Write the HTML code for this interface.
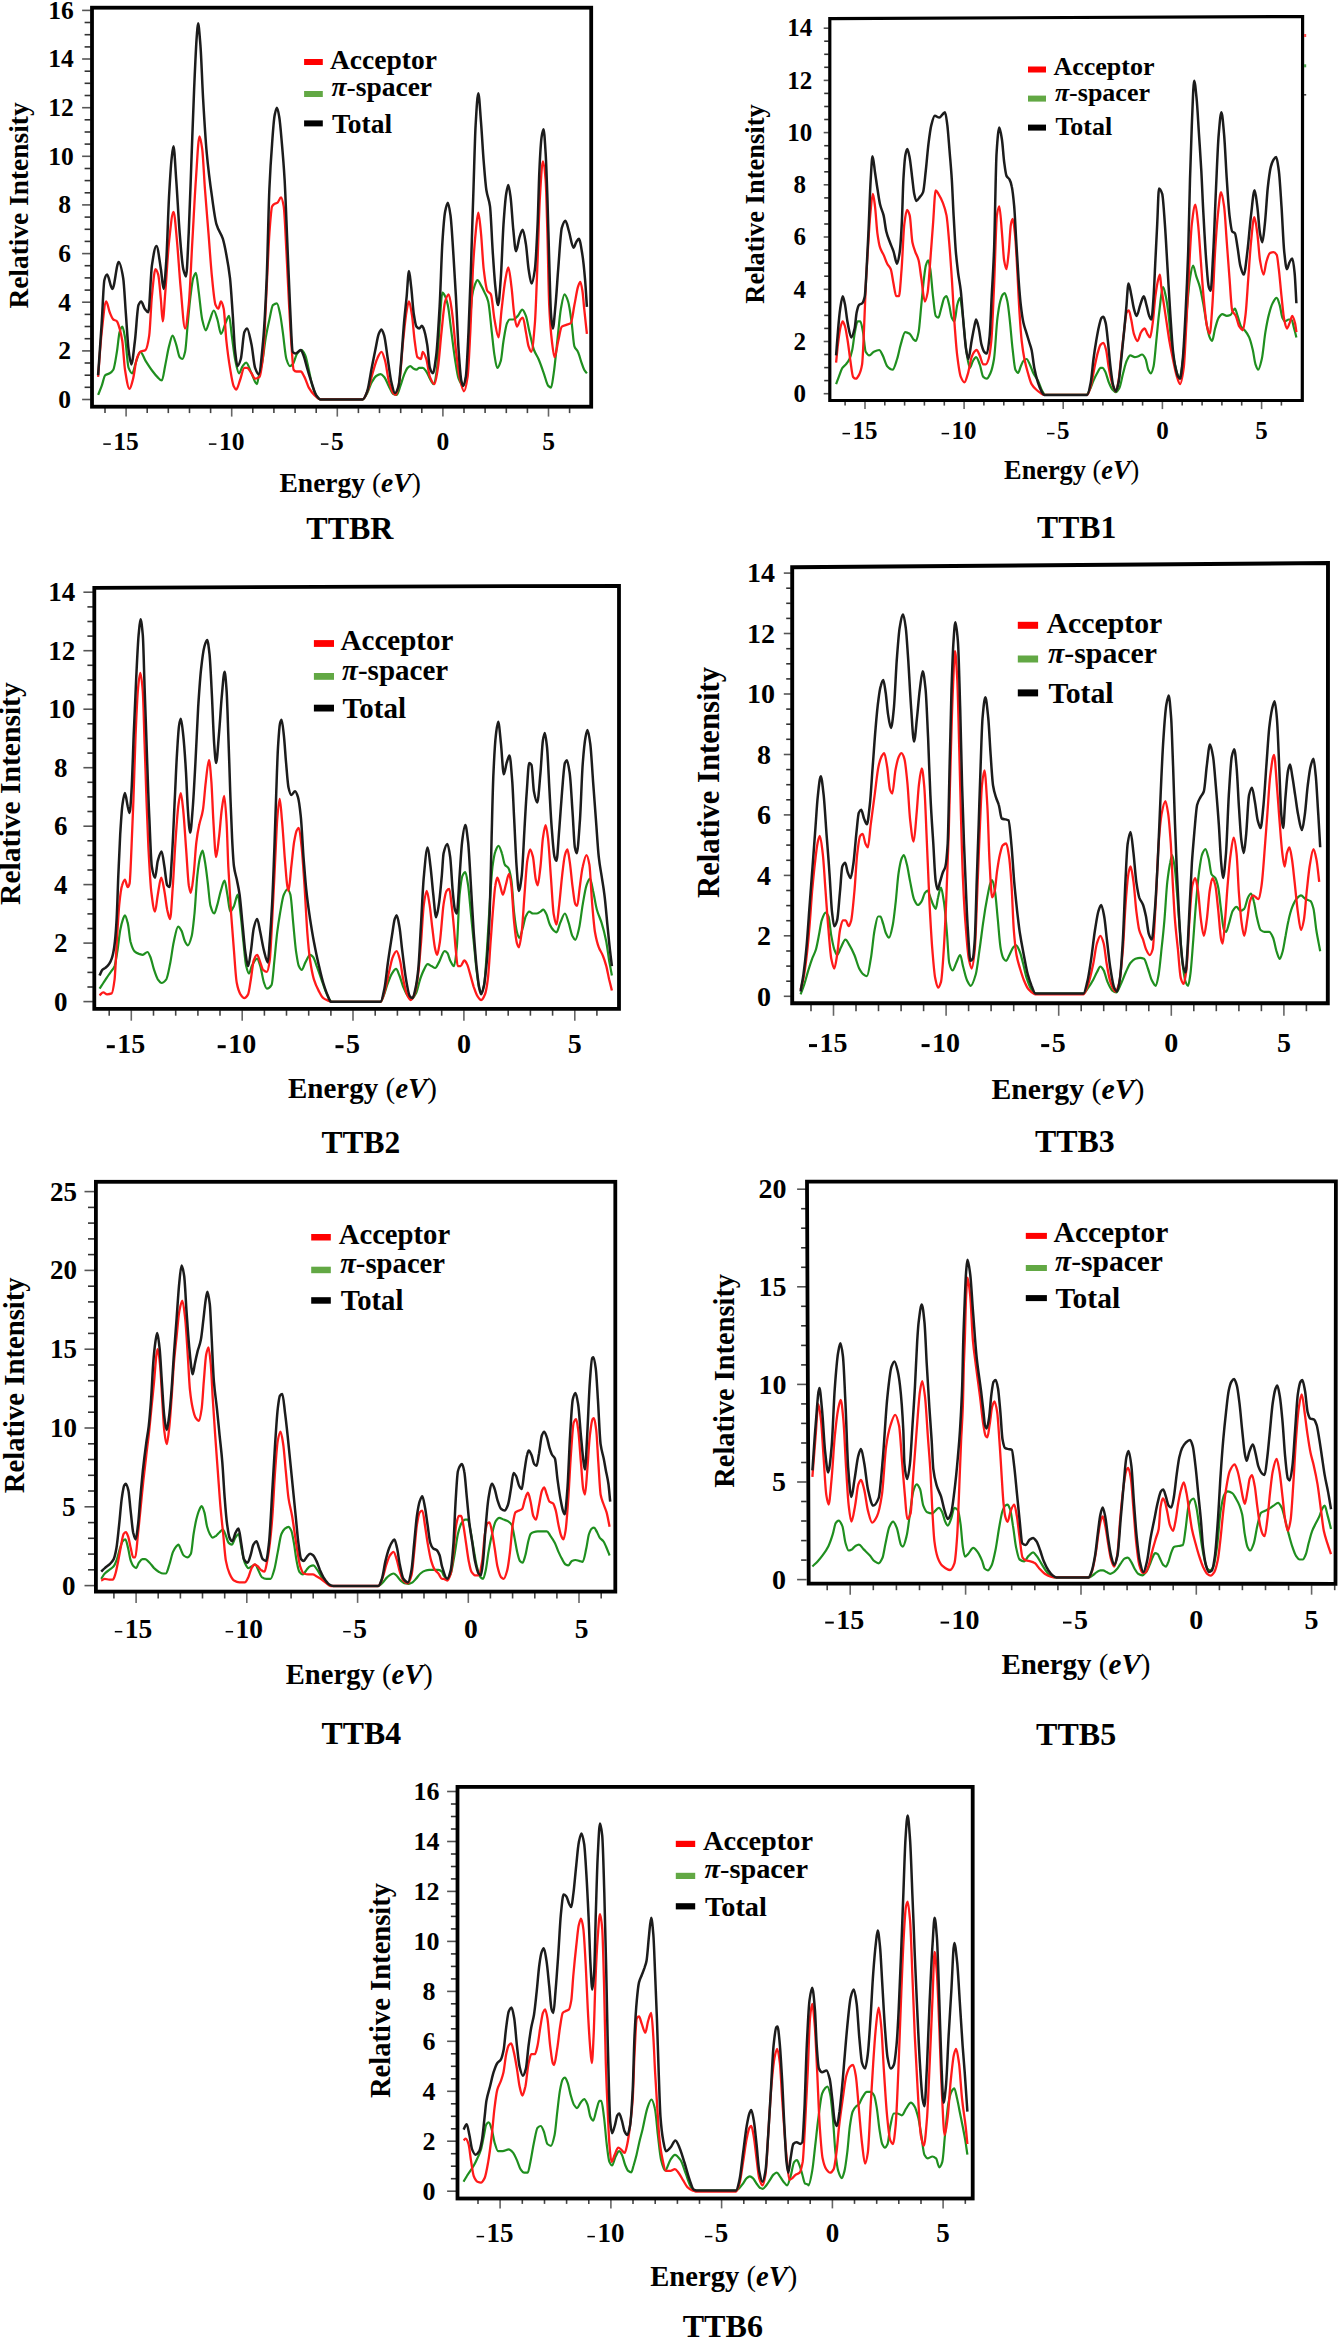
<!DOCTYPE html>
<html><head><meta charset="utf-8"><style>
html,body{margin:0;padding:0;background:#fff;}
svg{display:block;}
text{font-family:"Liberation Serif", serif;font-weight:bold;fill:#000;}
</style></head><body>
<svg xmlns="http://www.w3.org/2000/svg" width="1341" height="2340" viewBox="0 0 1341 2340">
<line x1="82.1" y1="399.5" x2="90.6" y2="399.5" stroke="#555" stroke-width="1.6"/>
<text x="70.9" y="407.9" font-size="25.5" text-anchor="end">0</text>
<line x1="84.6" y1="387.3" x2="90.6" y2="387.3" stroke="#333" stroke-width="1.6"/>
<line x1="84.6" y1="375.2" x2="90.6" y2="375.2" stroke="#333" stroke-width="1.6"/>
<line x1="84.6" y1="363" x2="90.6" y2="363" stroke="#333" stroke-width="1.6"/>
<line x1="82.1" y1="350.9" x2="90.6" y2="350.9" stroke="#555" stroke-width="1.6"/>
<text x="70.9" y="359.3" font-size="25.5" text-anchor="end">2</text>
<line x1="84.6" y1="338.7" x2="90.6" y2="338.7" stroke="#333" stroke-width="1.6"/>
<line x1="84.6" y1="326.5" x2="90.6" y2="326.5" stroke="#333" stroke-width="1.6"/>
<line x1="84.6" y1="314.4" x2="90.6" y2="314.4" stroke="#333" stroke-width="1.6"/>
<line x1="82.1" y1="302.2" x2="90.6" y2="302.2" stroke="#555" stroke-width="1.6"/>
<text x="70.9" y="310.6" font-size="25.5" text-anchor="end">4</text>
<line x1="84.6" y1="290.1" x2="90.6" y2="290.1" stroke="#333" stroke-width="1.6"/>
<line x1="84.6" y1="277.9" x2="90.6" y2="277.9" stroke="#333" stroke-width="1.6"/>
<line x1="84.6" y1="265.7" x2="90.6" y2="265.7" stroke="#333" stroke-width="1.6"/>
<line x1="82.1" y1="253.6" x2="90.6" y2="253.6" stroke="#555" stroke-width="1.6"/>
<text x="70.9" y="262" font-size="25.5" text-anchor="end">6</text>
<line x1="84.6" y1="241.4" x2="90.6" y2="241.4" stroke="#333" stroke-width="1.6"/>
<line x1="84.6" y1="229.3" x2="90.6" y2="229.3" stroke="#333" stroke-width="1.6"/>
<line x1="84.6" y1="217.1" x2="90.6" y2="217.1" stroke="#333" stroke-width="1.6"/>
<line x1="82.1" y1="204.9" x2="90.6" y2="204.9" stroke="#555" stroke-width="1.6"/>
<text x="70.9" y="213.4" font-size="25.5" text-anchor="end">8</text>
<line x1="84.6" y1="192.8" x2="90.6" y2="192.8" stroke="#333" stroke-width="1.6"/>
<line x1="84.6" y1="180.6" x2="90.6" y2="180.6" stroke="#333" stroke-width="1.6"/>
<line x1="84.6" y1="168.5" x2="90.6" y2="168.5" stroke="#333" stroke-width="1.6"/>
<line x1="82.1" y1="156.3" x2="90.6" y2="156.3" stroke="#555" stroke-width="1.6"/>
<text x="73.8" y="164.7" font-size="25.5" text-anchor="end">10</text>
<line x1="84.6" y1="144.1" x2="90.6" y2="144.1" stroke="#333" stroke-width="1.6"/>
<line x1="84.6" y1="132" x2="90.6" y2="132" stroke="#333" stroke-width="1.6"/>
<line x1="84.6" y1="119.8" x2="90.6" y2="119.8" stroke="#333" stroke-width="1.6"/>
<line x1="82.1" y1="107.7" x2="90.6" y2="107.7" stroke="#555" stroke-width="1.6"/>
<text x="73.8" y="116.1" font-size="25.5" text-anchor="end">12</text>
<line x1="84.6" y1="95.5" x2="90.6" y2="95.5" stroke="#333" stroke-width="1.6"/>
<line x1="84.6" y1="83.3" x2="90.6" y2="83.3" stroke="#333" stroke-width="1.6"/>
<line x1="84.6" y1="71.2" x2="90.6" y2="71.2" stroke="#333" stroke-width="1.6"/>
<line x1="82.1" y1="59" x2="90.6" y2="59" stroke="#555" stroke-width="1.6"/>
<text x="73.8" y="67.4" font-size="25.5" text-anchor="end">14</text>
<line x1="84.6" y1="46.9" x2="90.6" y2="46.9" stroke="#333" stroke-width="1.6"/>
<line x1="84.6" y1="34.7" x2="90.6" y2="34.7" stroke="#333" stroke-width="1.6"/>
<line x1="84.6" y1="22.5" x2="90.6" y2="22.5" stroke="#333" stroke-width="1.6"/>
<line x1="82.1" y1="10.4" x2="90.6" y2="10.4" stroke="#555" stroke-width="1.6"/>
<text x="73.8" y="18.8" font-size="25.5" text-anchor="end">16</text>
<line x1="105" y1="408.1" x2="105" y2="413.1" stroke="#444" stroke-width="1.6"/>
<line x1="126.1" y1="408.1" x2="126.1" y2="416.6" stroke="#666" stroke-width="1.6"/>
<text x="126.1" y="449.5" font-size="25.5" text-anchor="middle">15</text>
<line x1="103.3" y1="444.1" x2="110.8" y2="444.1" stroke="#000" stroke-width="1.5"/>
<line x1="147.2" y1="408.1" x2="147.2" y2="413.1" stroke="#444" stroke-width="1.6"/>
<line x1="168.3" y1="408.1" x2="168.3" y2="413.1" stroke="#444" stroke-width="1.6"/>
<line x1="189.5" y1="408.1" x2="189.5" y2="413.1" stroke="#444" stroke-width="1.6"/>
<line x1="210.6" y1="408.1" x2="210.6" y2="413.1" stroke="#444" stroke-width="1.6"/>
<line x1="231.7" y1="408.1" x2="231.7" y2="416.6" stroke="#666" stroke-width="1.6"/>
<text x="231.7" y="449.5" font-size="25.5" text-anchor="middle">10</text>
<line x1="208.9" y1="444.1" x2="216.4" y2="444.1" stroke="#000" stroke-width="1.5"/>
<line x1="252.8" y1="408.1" x2="252.8" y2="413.1" stroke="#444" stroke-width="1.6"/>
<line x1="273.9" y1="408.1" x2="273.9" y2="413.1" stroke="#444" stroke-width="1.6"/>
<line x1="295.1" y1="408.1" x2="295.1" y2="413.1" stroke="#444" stroke-width="1.6"/>
<line x1="316.2" y1="408.1" x2="316.2" y2="413.1" stroke="#444" stroke-width="1.6"/>
<line x1="337.3" y1="408.1" x2="337.3" y2="416.6" stroke="#666" stroke-width="1.6"/>
<text x="337.3" y="449.5" font-size="25.5" text-anchor="middle">5</text>
<line x1="320.9" y1="444.1" x2="328.4" y2="444.1" stroke="#000" stroke-width="1.5"/>
<line x1="358.4" y1="408.1" x2="358.4" y2="413.1" stroke="#444" stroke-width="1.6"/>
<line x1="379.5" y1="408.1" x2="379.5" y2="413.1" stroke="#444" stroke-width="1.6"/>
<line x1="400.7" y1="408.1" x2="400.7" y2="413.1" stroke="#444" stroke-width="1.6"/>
<line x1="421.8" y1="408.1" x2="421.8" y2="413.1" stroke="#444" stroke-width="1.6"/>
<line x1="442.9" y1="408.1" x2="442.9" y2="416.6" stroke="#666" stroke-width="1.6"/>
<text x="442.9" y="449.5" font-size="25.5" text-anchor="middle">0</text>
<line x1="464" y1="408.1" x2="464" y2="413.1" stroke="#444" stroke-width="1.6"/>
<line x1="485.1" y1="408.1" x2="485.1" y2="413.1" stroke="#444" stroke-width="1.6"/>
<line x1="506.3" y1="408.1" x2="506.3" y2="413.1" stroke="#444" stroke-width="1.6"/>
<line x1="527.4" y1="408.1" x2="527.4" y2="413.1" stroke="#444" stroke-width="1.6"/>
<line x1="548.5" y1="408.1" x2="548.5" y2="416.6" stroke="#666" stroke-width="1.6"/>
<text x="548.5" y="449.5" font-size="25.5" text-anchor="middle">5</text>
<line x1="569.6" y1="408.1" x2="569.6" y2="413.1" stroke="#444" stroke-width="1.6"/>
<path d="M98.1,394.9C99.3,391.9 100.5,389.2 101.7,385.9C102.9,382.6 104.1,376 105.3,375.1C106.8,374 108.2,374.2 109.7,373.3C110.9,372.6 112.1,371.7 113.3,369.7C114.5,367.7 115.7,359 116.9,351.8C117.8,346.4 118.7,334.9 119.6,332.1C120.5,329.2 121.4,326.7 122.3,326.7C123.2,326.7 124.1,332.6 125,337.4C126.2,343.8 127.4,364.9 128.6,367.9C129.8,371 131,373.3 132.2,373.3C133.4,373.3 134.6,365.8 135.8,362.6C137.3,358.6 138.8,351.8 140.3,351.8C142.1,351.8 143.8,357.9 145.6,360.8C148,364.6 150.4,368.4 152.8,371.5C154.3,373.5 155.8,375.5 157.3,376.9C158.8,378.4 160.3,380.5 161.8,380.5C163,380.5 164.2,370 165.4,364.4C166.6,358.7 167.8,350.9 169,346.4C170.2,341.9 171.4,335.6 172.6,335.6C173.8,335.6 175,341.1 176.2,344.6C177.4,348.1 178.5,355.9 179.7,357.2C180.6,358.2 181.5,359 182.4,359C183.3,359 184.2,355.6 185.1,351.8C186,348 186.9,332.3 187.8,323.1C188.7,313.8 189.6,303.3 190.5,296.2C191.4,289 192.3,281 193.2,278.2C194.1,275.4 195,272.8 195.9,272.8C196.8,272.8 197.7,284.3 198.6,290.8C199.8,299.4 201,314.3 202.2,319.5C203.4,324.7 204.6,330.3 205.8,330.3C207,330.3 208.2,324.2 209.4,321.3C210.9,317.6 212.4,310.5 213.8,310.5C215,310.5 216.2,315.8 217.4,319.5C218.6,323.2 219.8,333.8 221,333.8C222.5,333.8 224,326.3 225.5,323.1C226.7,320.5 227.9,315.9 229.1,315.9C230,315.9 230.9,329.2 231.8,335.6C233,344.2 234.2,355.2 235.4,360.8C236.6,366.4 237.8,373.3 239,373.3C240.2,373.3 241.4,367.7 242.6,366.2C243.8,364.6 245,362.6 246.2,362.6C247.9,362.6 249.7,369.7 251.5,373.3C253.3,376.9 255.1,384.1 256.9,384.1C257.5,384.1 258,379.2 258.6,376.9C259.8,371.9 261,368.7 262.2,362.6C263.4,356.5 264.6,344.4 265.8,337.4C267,330.5 268.2,324.8 269.4,319.5C270.6,314.2 271.8,306.1 272.9,305.1C274.3,304 275.6,303.3 276.9,303.3C278,303.3 279.1,309.3 280.1,314.1C281,318.1 281.9,325.7 282.8,332.1C284,340.5 285.2,355.2 286.4,359C287.6,362.8 288.8,366.2 290,366.2C290.9,366.2 291.8,365.3 292.7,364.4C294.2,362.9 295.7,355.4 297.2,353.6C298.7,351.8 300.2,350 301.7,350C302.9,350 304.1,352.8 305.3,355.4C306.5,358 307.6,364.7 308.8,369.7C310,374.8 311.2,382.1 312.4,385.9C313.9,390.6 315.4,395 316.9,396.7C318.1,398 319.3,399.4 320.5,399.4C334.6,399.4 348.6,399.4 362.7,399.4C364.2,399.4 365.7,395.7 367.2,393.1C368.7,390.4 370.2,385 371.7,382.3C373.2,379.7 374.7,377 376.2,376C377.6,375.1 379.1,374.2 380.6,374.2C381.8,374.2 383,375.6 384.2,376.9C385.7,378.5 387.2,383.1 388.7,385.9C390.2,388.7 391.7,393.3 393.2,394C394.4,394.5 395.6,394.9 396.8,394.9C398,394.9 399.2,389.2 400.4,385.9C401.6,382.6 402.8,378 404,375.1C405.2,372.3 406.4,369.1 407.6,367.9C408.5,367.1 409.4,366.2 410.3,366.2C411.5,366.2 412.6,368.3 413.8,368.8C414.7,369.3 415.6,369.7 416.5,369.7C417.4,369.7 418.3,367.9 419.2,367.9C420.4,367.9 421.5,367.9 422.7,367.9C423.9,367.9 425.1,369.9 426.3,371.5C427.5,373.1 428.7,376.7 429.9,378.7C431.1,380.8 432.3,384.1 433.5,384.1C434.7,384.1 435.9,376.7 437.1,367.9C437.9,361.4 438.8,335.2 439.7,323.1C440.6,311 441.5,292.6 442.4,292.6C443.3,292.6 444.2,294.4 445.1,296.2C446,297.9 446.9,301.1 447.8,305.1C449,310.6 450.2,323.1 451.4,332.1C452.6,341 453.8,351.4 455,359C456.2,366.6 457.4,375.7 458.6,378.7C460.1,382.5 461.6,385.9 463.1,385.9C464.3,385.9 465.5,380.4 466.7,373.3C467.6,368.1 468.5,344.9 469.4,332.1C470.3,319.3 471.2,301.7 472.1,296.2C472.9,290.6 473.8,287.8 474.7,285.4C475.6,283 476.5,280 477.4,280C478.6,280 479.8,283.3 481,285.4C482.2,287.4 483.4,289.9 484.6,292.6C485.8,295.2 487,296.9 488.2,301.5C489.4,306.2 490.6,321.8 491.8,332.1C492.7,339.8 493.6,349.9 494.5,355.4C495.4,360.8 496.3,367.9 497.2,367.9C498.4,367.9 499.6,364.6 500.8,360.8C501.7,357.9 502.6,346.4 503.5,341C504.7,333.8 505.9,325.5 507.1,323.1C507.9,321.2 508.8,319.5 509.7,319.5C510.9,319.5 512.1,319.5 513.3,319.5C514.8,319.5 516.3,317.4 517.8,315.9C519.3,314.4 520.8,309.6 522.3,309.6C523.5,309.6 524.7,312.9 525.9,315.9C527.1,318.9 528.3,327 529.5,332.1C531,338.4 532.5,346 534,350C535.5,354 537,355.6 538.5,359C540.3,363.1 542.1,368.4 543.8,373.3C545.3,377.4 546.8,384.4 548.3,385.9C549.2,386.8 550.1,387.7 551,387.7C551.9,387.7 552.8,379.3 553.7,373.3C554.9,365.4 556.1,351.8 557.3,341C558.5,330.3 559.7,315.3 560.9,308.7C562.1,302.1 563.3,294.4 564.5,294.4C565.7,294.4 566.9,297.9 568.1,301.5C569.3,305.1 570.5,314.5 571.7,323.1C572.6,329.5 573.5,344 574.4,346.4C575.6,349.6 576.8,349.4 577.9,351.8C579.1,354.2 580.3,359.2 581.5,362.6C582.4,365.1 583.3,368.1 584.2,369.7C585.1,371.3 586,372.1 586.9,373.3" fill="none" stroke="#1f8f1f" stroke-width="2.2" stroke-linejoin="round"/>
<path d="M98.1,376.9C99.3,362 100.5,342.7 101.7,332.1C103.2,318.7 104.7,301.5 106.2,301.5C107.4,301.5 108.5,309.4 109.7,312.3C110.9,315.2 112.1,318.5 113.3,319.5C114.5,320.4 115.7,320.2 116.9,321.3C117.8,322.1 118.7,325.4 119.6,328.5C120.5,331.5 121.4,335.2 122.3,341C123.2,346.9 124.1,364.1 125,369.7C126.5,379.2 128,388.9 129.5,388.9C130.7,388.9 131.9,383.2 133.1,378.7C134.3,374.2 135.5,362.5 136.7,359C137.9,355.5 139.1,352.5 140.3,351.8C142.1,350.7 143.8,351.2 145.6,350C146.8,349.2 148,343.4 149.2,335.6C150.1,329.8 151,305.2 151.9,296.2C153.1,284.1 154.3,269.2 155.5,269.2C156.4,269.2 157.3,271.7 158.2,274.6C159.1,277.6 160,290.2 160.9,299.7C161.5,306.1 162.1,321.3 162.7,321.3C163.6,321.3 164.5,301.8 165.4,290.8C166.6,276.1 167.8,253.3 169,242.3C170.5,228.6 172,211.8 173.5,211.8C174.7,211.8 175.9,230.2 177.1,242.3C178.2,254.4 179.4,274.4 180.6,287.2C182.1,303.1 183.6,328.5 185.1,328.5C186.3,328.5 187.5,316.5 188.7,305.1C189.9,293.8 191.1,263.2 192.3,242.3C193.5,221.4 194.7,196.5 195.9,179.5C197.1,162.5 198.3,136.4 199.5,136.4C200.4,136.4 201.3,142.6 202.2,149C203.1,155.3 204,176.3 204.9,188.5C206.1,204.7 207.3,218.4 208.5,233.3C209.7,248.3 210.9,267 212.1,278.2C213.2,289.4 214.4,302.5 215.6,305.1C216.5,307.1 217.4,308.7 218.3,308.7C219.2,308.7 220.1,301.5 221,301.5C221.9,301.5 222.8,304.8 223.7,308.7C224.6,312.6 225.5,332.6 226.4,341C227.6,352.2 228.8,360.8 230,367.9C231.2,375.1 232.4,383.4 233.6,385.9C234.5,387.7 235.4,389.5 236.3,389.5C237.5,389.5 238.7,383.7 239.9,380.5C241.4,376.6 242.9,367.9 244.4,367.9C245.3,367.9 246.2,367.9 247.1,367.9C248.5,367.9 250,371.3 251.5,373.3C252.7,374.9 253.9,378.7 255.1,378.7C256.6,378.7 258,378.1 259.5,376.9C260.7,376 261.9,366.3 263.1,355.4C264.3,344.5 265.5,310.5 266.7,287.2C267.6,269.7 268.5,245.3 269.4,233.3C270.3,221.4 271.2,208 272.1,206.4C272.9,204.8 273.8,204.2 274.7,203.7C275.6,203.3 276.5,203.3 277.4,202.8C278.6,202.2 279.8,197.4 281,197.4C281.9,197.4 282.8,201.4 283.7,206.4C284.6,211.4 285.5,235 286.4,251.3C287.3,267.6 288.2,288.8 289.1,305.1C290,321.4 290.9,338.3 291.8,350C292.4,357.8 293,368.9 293.6,369.7C294.5,370.9 295.4,371.5 296.3,371.5C297.8,371.5 299.3,371.5 300.8,371.5C302,371.5 303.2,374.7 304.4,376.9C305.9,379.7 307.4,385.1 308.8,387.7C310.6,390.8 312.4,393.2 314.2,394.9C316.3,396.8 318.4,399.4 320.5,399.4C334.6,399.4 348.6,399.4 362.7,399.4C364.5,399.4 366.3,393.9 368.1,389.5C369.6,385.8 371.1,378.4 372.6,373.3C374.1,368.3 375.6,362.2 377.1,359C378.5,355.8 380,351.8 381.5,351.8C382.7,351.8 383.9,356.7 385.1,360.8C386.3,364.9 387.5,376 388.7,380.5C390.2,386.1 391.7,391.5 393.2,393.1C394.1,394 395,394.9 395.9,394.9C397.1,394.9 398.3,387.5 399.5,380.5C400.7,373.5 401.9,352.5 403.1,341C404.3,329.6 405.5,316.7 406.7,310.5C407.4,306.5 408.2,301.5 409,301.5C410,301.5 411,309.5 412.1,315.9C412.9,321.6 413.8,334.5 414.7,341C415.6,347.6 416.5,356.3 417.4,357.2C418.6,358.3 419.8,359 421,359C421.6,359 422.1,351.8 422.7,351.8C423.9,351.8 425.1,355.6 426.3,359C427.5,362.4 428.7,374 429.9,376.9C431.4,380.6 432.9,384.1 434.4,384.1C435.6,384.1 436.8,375.4 437.9,367.9C439.1,360.5 440.3,343 441.5,332.1C442.7,321.1 443.9,305.4 445.1,301.5C446.3,297.7 447.5,294.4 448.7,294.4C449.9,294.4 451.1,305.6 452.3,314.1C453.5,322.6 454.7,339.7 455.9,350C457.1,360.3 458.3,371.5 459.5,376.9C461,383.7 462.5,391.3 464,391.3C465.2,391.3 466.4,384.9 467.6,376.9C468.5,371 469.4,349.5 470.3,332.1C471.2,314.6 472.1,284.5 472.9,269.2C473.8,254 474.7,242.1 475.6,233.3C476.5,224.6 477.4,212.7 478.3,212.7C479.2,212.7 480.1,224.6 481,233.3C481.9,242.1 482.8,261.7 483.7,269.2C484.9,279.3 486.1,288.7 487.3,290.8C488.5,292.8 489.7,292.3 490.9,294.4C492.1,296.5 493.3,313 494.5,319.5C495.9,326.9 497.2,337.4 498.6,337.4C499.6,337.4 500.6,317.5 501.7,308.7C502.9,298.3 504.1,286.4 505.3,280C506.3,274.5 507.3,267.4 508.3,267.4C509.4,267.4 510.5,278.9 511.5,287.2C512.4,294 513.3,308.4 514.2,314.1C515.1,319.8 516,326.7 516.9,326.7C518.1,326.7 519.3,320.8 520.5,319.5C521.3,318.6 522.1,317.7 522.8,317.7C523.9,317.7 524.9,327 525.9,332.1C526.8,336.5 527.7,343.8 528.6,346.4C529.5,349 530.4,351.8 531.3,351.8C532.5,351.8 533.7,337.7 534.9,323.1C535.8,312.1 536.7,282.7 537.6,260.3C538.3,240.8 539.1,210.4 539.9,197.4C540.9,180.5 541.9,161.5 542.9,161.5C543.8,161.5 544.7,169.3 545.6,179.5C546.2,186.3 546.8,212.8 547.4,233.3C548,253.8 548.6,292.7 549.2,305.1C550.1,323.7 551,333.6 551.9,341C552.8,348.5 553.7,357.2 554.6,357.2C555.8,357.2 557,346.1 558.2,341C559.4,336 560.6,327.6 561.8,326.7C563.3,325.5 564.8,325.5 566.3,324.9C567.8,324.3 569.3,324.2 570.8,323.1C572,322.2 573.2,311.1 574.4,305.1C575.6,299.1 576.8,290.9 577.9,287.2C578.7,284.8 579.5,281.8 580.3,281.8C581,281.8 581.7,286.5 582.4,290.8C583,294.3 583.6,302.9 584.2,308.7C585.1,317.4 586,325.5 586.9,333.8" fill="none" stroke="#ff1a1a" stroke-width="2.3" stroke-linejoin="round"/>
<path d="M98.1,375.1C99.3,357.8 100.5,341.3 101.7,323.1C102.6,309.4 103.5,283.2 104.4,280C105.3,276.8 106.2,274.6 107.1,274.6C108.8,274.6 110.6,289 112.4,289C114.5,289 116.6,262.1 118.7,262.1C120.2,262.1 121.7,269.3 123.2,278.2C124.1,283.5 125,302.1 125.9,314.1C126.8,326.1 127.7,343.2 128.6,350C129.5,356.8 130.4,364.4 131.3,364.4C132.5,364.4 133.7,350.5 134.9,341C136.1,331.6 137.3,307.8 138.5,305.1C139.4,303.1 140.3,301.5 141.2,301.5C142.4,301.5 143.5,307.1 144.7,308.7C145.9,310.3 147.1,312.3 148.3,312.3C149.5,312.3 150.7,273.7 151.9,265.6C153.4,255.6 154.9,245.9 156.4,245.9C157.9,245.9 159.4,260 160.9,269.2C161.8,274.8 162.7,289 163.6,289C164.5,289 165.4,273.4 166.3,260.3C167.2,247.1 168.1,213.6 169,197.4C169.9,181.3 170.8,165.8 171.7,157.9C172.3,152.7 172.9,146.3 173.5,146.3C174.4,146.3 175.3,167.4 176.2,179.5C177.4,195.6 178.5,219 179.7,233.3C180.9,247.7 182.1,264.3 183.3,269.2C184.2,272.9 185.1,276.4 186,276.4C186.9,276.4 187.8,251.3 188.7,233.3C189.6,215.4 190.5,185.5 191.4,161.5C192.3,137.6 193.2,110.3 194.1,89.7C195,69.2 195.9,47.4 196.8,35.9C197.2,30.5 197.6,23.3 198.1,23.3C198.8,23.3 199.6,35.1 200.4,44.9C201.3,56.1 202.2,83.2 203.1,98.7C204.3,119.4 205.5,139.5 206.7,152.6C208.5,172.2 210.3,185 212.1,197.4C213.5,207.8 215,219.3 216.5,224.4C218.6,231.5 220.7,232.2 222.8,238.7C224,242.5 225.2,248.5 226.4,254.9C227.6,261.2 228.8,267.6 230,278.2C230.9,286.2 231.8,301.3 232.7,314.1C233.5,325.2 234.2,342.9 235,350C235.9,357.6 236.7,366.2 237.5,366.2C238.6,366.2 239.7,362.6 240.8,359C242,354.9 243.2,334.7 244.4,332.1C245.3,330.1 246.2,328.5 247.1,328.5C248.5,328.5 250,337.6 251.5,344.6C252.7,350.2 253.9,364.6 255.1,367.9C256.3,371.2 257.4,374.2 258.6,374.2C260.1,374.2 261.6,356.8 263.1,341C264.3,328.4 265.5,306.1 266.7,278.2C267.6,257.3 268.5,208.4 269.4,188.5C270.3,168.5 271.2,155.3 272.1,143.6C272.9,131.9 273.8,119.3 274.7,114.9C275.5,111.3 276.2,107.7 276.9,107.7C277.7,107.7 278.5,112.4 279.2,116.7C280.1,121.6 281,133.3 281.9,143.6C282.8,153.8 283.7,164.3 284.6,179.5C285.5,194.7 286.4,221.4 287.3,242.3C288.2,263.2 289.1,287.3 290,305.1C290.9,323 291.8,350.6 292.7,351.8C293.6,352.9 294.5,353.6 295.4,353.6C297.2,353.6 299,350 300.8,350C301.7,350 302.6,353.1 303.5,355.4C304.7,358.4 305.9,363.9 307.1,367.9C308.5,373 310,377.8 311.5,382.3C313,386.8 314.5,392.7 316,394.9C317.5,397.1 319,399.4 320.5,399.4C334.6,399.4 348.6,399.4 362.7,399.4C364.2,399.4 365.7,395.3 367.2,391.3C368.7,387.3 370.2,375.6 371.7,367.9C372.9,361.9 374.1,355.7 375.3,350C376.5,344.3 377.6,336.7 378.8,333.8C379.7,331.7 380.6,329.4 381.5,329.4C382.4,329.4 383.3,332.6 384.2,335.6C385.4,339.7 386.6,351.2 387.8,359C389,366.8 390.2,377.4 391.4,382.3C392.6,387.2 393.8,393.1 395,393.1C396.2,393.1 397.4,390 398.6,385.9C399.5,382.8 400.4,369.2 401.3,359C402.2,348.7 403.1,333.3 404,323.1C404.9,312.8 405.8,305.5 406.7,296.2C407.4,288.1 408.2,271 409,271C409.7,271 410.4,281.1 411.2,287.2C412.1,294.8 412.9,308.4 413.8,314.1C414.7,319.8 415.6,325.6 416.5,326.7C417.4,327.7 418.3,328.5 419.2,328.5C420.1,328.5 421,325.8 421.9,325.8C422.5,325.8 423,327.2 423.6,328.5C424.8,331.2 426,337.4 427.2,344.6C428.1,350 429,365.3 429.9,367.9C430.9,371 431.9,373.3 432.9,373.3C434,373.3 435.1,363.9 436.2,355.4C437.4,345.9 438.5,326.3 439.7,305.1C440.6,289.2 441.5,256 442.4,242.3C443.3,228.6 444.2,216.4 445.1,211.8C446,207.2 446.9,202.8 447.8,202.8C448.7,202.8 449.6,209.2 450.5,215.4C451.4,221.6 452.3,238 453.2,251.3C454.1,264.6 455,279.8 455.9,296.2C456.8,312.5 457.7,337 458.6,350C459.5,363 460.4,376.4 461.3,380.5C461.9,383.2 462.5,385.9 463.1,385.9C464,385.9 464.9,381.9 465.8,376.9C466.7,371.9 467.6,350.5 468.5,332.1C469.4,313.6 470.3,285.9 471.2,260.3C471.9,238 472.7,211.7 473.5,188.5C474.2,167 474.9,138 475.6,125.6C476.5,110.1 477.4,93.3 478.3,93.3C479.2,93.3 480.1,111 481,122.1C481.9,133.1 482.8,150.5 483.7,161.5C484.6,172.6 485.5,184.5 486.4,190.3C487.6,198 488.8,197.7 490,206.4C490.9,212.9 491.8,238 492.7,251.3C493.6,264.6 494.5,279.2 495.4,287.2C496.3,295.2 497.2,305.1 498.1,305.1C499,305.1 499.9,290.2 500.8,278.2C501.7,266.2 502.6,237.3 503.5,224.4C504.4,211.4 505.3,199.2 506.2,193.8C506.9,189.5 507.6,184.9 508.3,184.9C509.1,184.9 509.9,191.7 510.6,197.4C511.5,204 512.4,221.1 513.3,229.7C514.2,238.4 515.1,251.3 516,251.3C517.2,251.3 518.4,240.4 519.6,236.9C520.6,233.9 521.6,229.7 522.7,229.7C523.7,229.7 524.8,237.5 525.9,244.1C526.8,249.6 527.7,263.6 528.6,269.2C529.6,275.6 530.6,283.6 531.6,283.6C532.7,283.6 533.8,276.9 534.9,269.2C535.8,262.8 536.7,244 537.6,224.4C538.2,211.3 538.8,182.5 539.4,170.5C540.1,155 540.9,141.2 541.7,136.4C542.3,132.7 542.9,129.2 543.5,129.2C544.2,129.2 544.9,141.6 545.6,152.6C546.2,161.7 546.8,180 547.4,197.4C548,214.9 548.6,240.9 549.2,260.3C549.8,279.6 550.4,306.5 551,314.1C551.6,321.7 552.2,328.5 552.8,328.5C553.7,328.5 554.6,314.6 555.5,305.1C556.4,295.7 557.3,280.4 558.2,269.2C559.4,254.4 560.6,232 561.8,227.9C563,223.9 564.2,220.8 565.4,220.8C566.6,220.8 567.8,227.6 569,231.5C570.5,236.4 572,247.7 573.5,247.7C574.4,247.7 575.3,243.7 576.2,242.3C577.1,240.9 577.9,238.7 578.8,238.7C580,238.7 581.2,247.5 582.4,254.9C583.3,260.4 584.2,269.5 585.1,280C585.7,287 586.3,297.9 586.9,306.9" fill="none" stroke="#1c1c1c" stroke-width="2.5" stroke-linejoin="round"/>
<rect x="92" y="7.7" width="499.2" height="399" fill="none" stroke="#000" stroke-width="3.8"/>
<rect x="304.1" y="59" width="18.7" height="6" fill="#ff0000"/>
<rect x="304.1" y="91" width="18.7" height="6" fill="#62a844"/>
<rect x="304.1" y="120.4" width="18.7" height="6" fill="#000000"/>
<text x="330" y="68.6" font-size="27.5">Acceptor</text>
<text x="331.5" y="96.1" font-size="27.5"><tspan font-style="italic">&#960;</tspan><tspan font-weight="normal">-</tspan>spacer</text>
<text x="332" y="132.5" font-size="27.5">Total</text>
<text transform="translate(27.8,205.5) rotate(-90)" font-size="27.4" text-anchor="middle">Relative Intensity</text>
<text x="279.5" y="491.8" font-size="27.5">Energy <tspan font-weight="normal">(</tspan><tspan font-style="italic">eV</tspan><tspan font-weight="normal">)</tspan></text>
<text x="306.3" y="538.5" font-size="32">TTBR</text>
<line x1="823.7" y1="393.7" x2="828.7" y2="393.7" stroke="#555" stroke-width="1.6"/>
<text x="806" y="401.9" font-size="25" text-anchor="end">0</text>
<line x1="824.2" y1="380.6" x2="828.7" y2="380.6" stroke="#333" stroke-width="1.6"/>
<line x1="824.2" y1="367.6" x2="828.7" y2="367.6" stroke="#333" stroke-width="1.6"/>
<line x1="824.2" y1="354.5" x2="828.7" y2="354.5" stroke="#333" stroke-width="1.6"/>
<line x1="823.7" y1="341.5" x2="828.7" y2="341.5" stroke="#555" stroke-width="1.6"/>
<text x="806" y="349.7" font-size="25" text-anchor="end">2</text>
<line x1="824.2" y1="328.4" x2="828.7" y2="328.4" stroke="#333" stroke-width="1.6"/>
<line x1="824.2" y1="315.4" x2="828.7" y2="315.4" stroke="#333" stroke-width="1.6"/>
<line x1="824.2" y1="302.3" x2="828.7" y2="302.3" stroke="#333" stroke-width="1.6"/>
<line x1="823.7" y1="289.3" x2="828.7" y2="289.3" stroke="#555" stroke-width="1.6"/>
<text x="806" y="297.5" font-size="25" text-anchor="end">4</text>
<line x1="824.2" y1="276.2" x2="828.7" y2="276.2" stroke="#333" stroke-width="1.6"/>
<line x1="824.2" y1="263.1" x2="828.7" y2="263.1" stroke="#333" stroke-width="1.6"/>
<line x1="824.2" y1="250.1" x2="828.7" y2="250.1" stroke="#333" stroke-width="1.6"/>
<line x1="823.7" y1="237" x2="828.7" y2="237" stroke="#555" stroke-width="1.6"/>
<text x="806" y="245.3" font-size="25" text-anchor="end">6</text>
<line x1="824.2" y1="224" x2="828.7" y2="224" stroke="#333" stroke-width="1.6"/>
<line x1="824.2" y1="210.9" x2="828.7" y2="210.9" stroke="#333" stroke-width="1.6"/>
<line x1="824.2" y1="197.9" x2="828.7" y2="197.9" stroke="#333" stroke-width="1.6"/>
<line x1="823.7" y1="184.8" x2="828.7" y2="184.8" stroke="#555" stroke-width="1.6"/>
<text x="806" y="193.1" font-size="25" text-anchor="end">8</text>
<line x1="824.2" y1="171.8" x2="828.7" y2="171.8" stroke="#333" stroke-width="1.6"/>
<line x1="824.2" y1="158.7" x2="828.7" y2="158.7" stroke="#333" stroke-width="1.6"/>
<line x1="824.2" y1="145.7" x2="828.7" y2="145.7" stroke="#333" stroke-width="1.6"/>
<line x1="823.7" y1="132.6" x2="828.7" y2="132.6" stroke="#555" stroke-width="1.6"/>
<text x="812.2" y="140.8" font-size="25" text-anchor="end">10</text>
<line x1="824.2" y1="119.5" x2="828.7" y2="119.5" stroke="#333" stroke-width="1.6"/>
<line x1="824.2" y1="106.5" x2="828.7" y2="106.5" stroke="#333" stroke-width="1.6"/>
<line x1="824.2" y1="93.4" x2="828.7" y2="93.4" stroke="#333" stroke-width="1.6"/>
<line x1="823.7" y1="80.4" x2="828.7" y2="80.4" stroke="#555" stroke-width="1.6"/>
<text x="812.2" y="88.6" font-size="25" text-anchor="end">12</text>
<line x1="824.2" y1="67.3" x2="828.7" y2="67.3" stroke="#333" stroke-width="1.6"/>
<line x1="824.2" y1="54.3" x2="828.7" y2="54.3" stroke="#333" stroke-width="1.6"/>
<line x1="824.2" y1="41.2" x2="828.7" y2="41.2" stroke="#333" stroke-width="1.6"/>
<line x1="823.7" y1="28.2" x2="828.7" y2="28.2" stroke="#555" stroke-width="1.6"/>
<text x="812.2" y="36.4" font-size="25" text-anchor="end">14</text>
<line x1="845.1" y1="401.6" x2="845.1" y2="405.6" stroke="#444" stroke-width="1.6"/>
<line x1="865" y1="401.6" x2="865" y2="409.1" stroke="#666" stroke-width="1.6"/>
<text x="865" y="438.8" font-size="25" text-anchor="middle">15</text>
<line x1="842.5" y1="433.6" x2="850" y2="433.6" stroke="#000" stroke-width="1.5"/>
<line x1="884.8" y1="401.6" x2="884.8" y2="405.6" stroke="#444" stroke-width="1.6"/>
<line x1="904.6" y1="401.6" x2="904.6" y2="405.6" stroke="#444" stroke-width="1.6"/>
<line x1="924.4" y1="401.6" x2="924.4" y2="405.6" stroke="#444" stroke-width="1.6"/>
<line x1="944.3" y1="401.6" x2="944.3" y2="405.6" stroke="#444" stroke-width="1.6"/>
<line x1="964.1" y1="401.6" x2="964.1" y2="409.1" stroke="#666" stroke-width="1.6"/>
<text x="964.1" y="438.8" font-size="25" text-anchor="middle">10</text>
<line x1="941.6" y1="433.6" x2="949.1" y2="433.6" stroke="#000" stroke-width="1.5"/>
<line x1="983.9" y1="401.6" x2="983.9" y2="405.6" stroke="#444" stroke-width="1.6"/>
<line x1="1003.8" y1="401.6" x2="1003.8" y2="405.6" stroke="#444" stroke-width="1.6"/>
<line x1="1023.6" y1="401.6" x2="1023.6" y2="405.6" stroke="#444" stroke-width="1.6"/>
<line x1="1043.4" y1="401.6" x2="1043.4" y2="405.6" stroke="#444" stroke-width="1.6"/>
<line x1="1063.2" y1="401.6" x2="1063.2" y2="409.1" stroke="#666" stroke-width="1.6"/>
<text x="1063.2" y="438.8" font-size="25" text-anchor="middle">5</text>
<line x1="1047" y1="433.6" x2="1054.5" y2="433.6" stroke="#000" stroke-width="1.5"/>
<line x1="1083.1" y1="401.6" x2="1083.1" y2="405.6" stroke="#444" stroke-width="1.6"/>
<line x1="1102.9" y1="401.6" x2="1102.9" y2="405.6" stroke="#444" stroke-width="1.6"/>
<line x1="1122.7" y1="401.6" x2="1122.7" y2="405.6" stroke="#444" stroke-width="1.6"/>
<line x1="1142.6" y1="401.6" x2="1142.6" y2="405.6" stroke="#444" stroke-width="1.6"/>
<line x1="1162.4" y1="401.6" x2="1162.4" y2="409.1" stroke="#666" stroke-width="1.6"/>
<text x="1162.4" y="438.8" font-size="25" text-anchor="middle">0</text>
<line x1="1182.2" y1="401.6" x2="1182.2" y2="405.6" stroke="#444" stroke-width="1.6"/>
<line x1="1202.1" y1="401.6" x2="1202.1" y2="405.6" stroke="#444" stroke-width="1.6"/>
<line x1="1221.9" y1="401.6" x2="1221.9" y2="405.6" stroke="#444" stroke-width="1.6"/>
<line x1="1241.7" y1="401.6" x2="1241.7" y2="405.6" stroke="#444" stroke-width="1.6"/>
<line x1="1261.6" y1="401.6" x2="1261.6" y2="409.1" stroke="#666" stroke-width="1.6"/>
<text x="1261.6" y="438.8" font-size="25" text-anchor="middle">5</text>
<line x1="1281.4" y1="401.6" x2="1281.4" y2="405.6" stroke="#444" stroke-width="1.6"/>
<path d="M836.1,384.1C837,381.7 837.9,379.2 838.8,376.9C840,373.8 841.2,369.7 842.4,367.9C843.6,366.2 844.8,365.8 845.9,364.4C847.1,362.9 848.3,361.5 849.5,359C850.4,357.1 851.3,354 852.2,350C853.1,346 854,336.5 854.9,332.1C855.8,327.6 856.7,321.3 857.6,321.3C858.5,321.3 859.4,321.3 860.3,321.3C861.2,321.3 862.1,327.4 863,332.1C863.9,336.7 864.8,350.2 865.7,351.8C866.9,354 868.1,355.4 869.3,355.4C870.8,355.4 872.3,352.5 873.8,351.8C875.6,350.9 877.4,350 879.2,350C880.4,350 881.5,353.2 882.7,355.4C884.2,358.1 885.7,364.6 887.2,366.2C889,368.1 890.8,369.7 892.6,369.7C894.1,369.7 895.6,363.5 897.1,359C898.3,355.4 899.5,348.6 900.7,344.6C902.2,339.7 903.7,332.1 905.2,332.1C906.7,332.1 908.2,332.9 909.7,333.8C910.9,334.6 912.1,338.1 913.3,339.2C914.2,340 915.1,341 915.9,341C916.8,341 917.7,336.5 918.6,332.1C919.5,327.6 920.4,314.1 921.3,305.1C922.2,296.2 923.1,285.5 924,278.2C924.6,273.3 925.2,267.8 925.8,265.6C926.6,262.9 927.4,260.3 928.2,260.3C928.9,260.3 929.6,265.1 930.3,269.2C931.2,274.4 932.1,288.6 933,296.2C933.9,303.7 934.8,314.8 935.7,315.9C936.6,317 937.5,317.7 938.4,317.7C939.3,317.7 940.2,311.7 941.1,308.7C942.2,305.1 943.2,299.3 944.3,297.9C945,297 945.7,296.2 946.5,296.2C947.4,296.2 948.3,301.6 949.2,305.1C950.1,308.6 950.9,315.8 951.8,317.7C952.7,319.6 953.6,321.3 954.5,321.3C955.4,321.3 956.3,308.4 957.2,305.1C958.1,301.8 959,297.9 959.9,297.9C960.8,297.9 961.7,307.5 962.6,314.1C963.8,323 965,342 966.2,350C967.4,358 968.6,367.9 969.8,367.9C970.9,367.9 971.9,362.4 973,360.8C974,359.2 975.1,357.2 976.1,357.2C977.3,357.2 978.5,361.3 979.7,364.4C980.9,367.4 982.1,375.9 983.3,376.9C984.5,378 985.6,378.7 986.8,378.7C988,378.7 989.2,375.9 990.4,373.3C991.6,370.7 992.8,366.2 994,359C995.2,352 996.3,326.8 997.5,317.7C998.4,310.6 999.3,304.9 1000.2,301.5C1001.1,298.2 1002,295.3 1002.9,294.4C1003.5,293.7 1004.1,293.1 1004.7,293.1C1005.6,293.1 1006.5,297.5 1007.4,301.5C1008.3,305.6 1009.2,315.1 1010.1,323.1C1010.9,331.1 1011.8,342.4 1012.7,350C1013.6,357.6 1014.5,368 1015.4,369.7C1016.3,371.5 1017.2,372.8 1018.1,372.8C1019,372.8 1019.9,368.1 1020.8,366.2C1021.7,364.2 1022.6,361.6 1023.5,360.8C1024.5,359.8 1025.5,359 1026.6,359C1027.6,359 1028.7,362.2 1029.8,364.4C1031,366.7 1032.2,371 1033.4,373.3C1034.9,376.3 1036.4,377.6 1037.9,380.5C1039.4,383.4 1040.9,388.8 1042.4,391.3C1043.3,392.8 1044.2,394.9 1045.1,394.9C1058.8,394.9 1072.6,394.9 1086.3,394.9C1087.5,394.9 1088.7,391.7 1089.9,389.5C1091.1,387.2 1092.3,383.2 1093.5,380.5C1094.7,377.9 1095.9,375.4 1097.1,373.3C1098.3,371.3 1099.5,367.9 1100.7,367.9C1101.3,367.9 1101.9,367.9 1102.5,367.9C1103.4,367.9 1104.3,369.9 1105.2,371.5C1106.4,373.7 1107.6,379.4 1108.8,382.3C1110,385.2 1111.2,388.2 1112.4,389.5C1113.6,390.8 1114.8,392.2 1115.9,392.2C1117.1,392.2 1118.3,390 1119.5,387.7C1120.7,385.4 1121.9,377.8 1123.1,373.3C1124.3,368.9 1125.5,363.3 1126.7,360.8C1127.9,358.3 1129.1,355.4 1130.3,355.4C1131.8,355.4 1133.3,357.2 1134.8,357.2C1136,357.2 1137.2,356.7 1138.4,356.3C1139.6,355.9 1140.8,354.5 1142,354.5C1143.2,354.5 1144.4,356.6 1145.6,359C1146.5,360.7 1147.4,367.9 1148.3,369.7C1149.2,371.5 1150.1,373.3 1150.9,373.3C1151.8,373.3 1152.7,369.9 1153.6,366.2C1154.5,362.4 1155.4,349.7 1156.3,341C1157.2,332.4 1158.1,321.4 1159,314.1C1160.4,303.2 1161.7,287.2 1163.1,287.2C1164,287.2 1164.9,292.2 1165.8,296.2C1166.7,300.1 1167.6,306.9 1168.5,314.1C1169.4,321.3 1170.3,333.8 1171.2,341C1172.1,348.2 1172.9,354 1173.8,359C1174.7,363.9 1175.6,368.5 1176.5,371.5C1177.4,374.6 1178.3,378.7 1179.2,378.7C1180.1,378.7 1181,373.1 1181.9,367.9C1182.8,362.8 1183.7,351.3 1184.6,341C1185.5,330.8 1186.4,315.4 1187.3,305.1C1188.2,294.9 1189.1,283.5 1190,278.2C1191,272.2 1192,265.6 1193.1,265.6C1194.1,265.6 1195.2,273 1196.3,276.4C1197.5,280.2 1198.7,282.7 1199.9,287.2C1201.1,291.7 1202.3,298.6 1203.5,305.1C1204.7,311.7 1205.9,321 1207.1,326.7C1207.9,330.9 1208.8,335.5 1209.7,337.4C1210.5,339.1 1211.3,341 1212.1,341C1213.1,341 1214.1,332 1215.1,328.5C1216.3,324.3 1217.5,319.5 1218.7,317.7C1219.9,315.9 1221.1,314.1 1222.3,314.1C1223.8,314.1 1225.3,315.9 1226.8,315.9C1228,315.9 1229.2,315.5 1230.4,315C1231.9,314.4 1233.4,308.7 1234.9,308.7C1235.8,308.7 1236.7,313.4 1237.6,315.9C1238.8,319.3 1240,324.9 1241.2,326.7C1242.4,328.5 1243.5,328.8 1244.7,330.3C1246.2,332.1 1247.7,334.1 1249.2,337.4C1250.4,340.1 1251.6,344.9 1252.8,350C1253.7,353.8 1254.6,361.7 1255.5,364.4C1256.4,367 1257.3,369.7 1258.2,369.7C1259.4,369.7 1260.6,364.1 1261.8,359C1263,353.8 1264.2,339.2 1265.4,332.1C1266.6,324.9 1267.8,318.6 1269,314.1C1270.2,309.6 1271.4,305.5 1272.6,303.3C1273.9,300.8 1275.3,297.9 1276.7,297.9C1277.7,297.9 1278.7,301.9 1279.7,305.1C1280.6,308 1281.5,315.8 1282.4,317.7C1283.3,319.6 1284.2,321.3 1285.1,321.3C1286.3,321.3 1287.5,319.5 1288.7,319.5C1289.6,319.5 1290.5,319.5 1291.4,319.5C1292.3,319.5 1293.2,325.3 1294.1,328.5C1294.9,331.2 1295.7,334.4 1296.4,337.4" fill="none" stroke="#1f8f1f" stroke-width="2.2" stroke-linejoin="round"/>
<path d="M836.1,362.6C836.7,356.6 837.3,349.5 837.9,344.6C838.8,337.3 839.7,329.9 840.6,326.7C841.3,324.1 842,321.3 842.7,321.3C843.5,321.3 844.3,324.2 845.1,326.7C845.9,329.5 846.8,335.5 847.7,341C848.6,346.6 849.5,354.8 850.4,360.8C851.3,366.7 852.2,375.8 853.1,376.9C854,378 854.9,378.7 855.8,378.7C856.8,378.7 857.9,376.9 858.9,375.1C859.9,373.3 861,370.8 862.1,364.4C862.7,360.8 863.3,344.6 863.9,332.1C864.5,319.5 865.1,299.2 865.7,287.2C866.4,272.7 867.1,262.8 867.8,251.3C868.6,238.8 869.4,223.6 870.2,215.4C871.1,205.9 872,193.8 872.9,193.8C873.6,193.8 874.3,200.9 875,206.4C875.8,212.4 876.6,227.6 877.4,233.3C878.3,239.9 879.2,245 880.1,247.7C881.2,251.3 882.4,252.2 883.6,254.9C884.8,257.5 886,261.6 887.2,263.8C888.4,266.1 889.6,266.4 890.8,269.2C891.7,271.4 892.6,279.1 893.5,283.6C894.4,288.1 895.3,296.2 896.2,296.2C897.1,296.2 898,296.2 898.9,296.2C899.8,296.2 900.7,280.4 901.6,269.2C902.5,258 903.4,231.6 904.3,224.4C905.2,217.1 906.1,210 907,210C907.9,210 908.8,212.4 909.7,215.4C910.6,218.4 911.5,237.8 912.4,242.3C913.3,246.8 914.2,248.7 915.1,251.3C916.2,254.7 917.4,255.8 918.6,260.3C919.5,263.6 920.4,272.3 921.3,278.2C922.5,286.1 923.7,301.5 924.9,301.5C925.8,301.5 926.7,297.2 927.6,292.6C928.5,287.9 929.4,271.6 930.3,260.3C931.2,248.9 932.1,236 933,224.4C933.9,212.7 934.8,190.3 935.7,190.3C936.6,190.3 937.5,192.4 938.4,193.8C939.9,196.2 941.4,199 942.9,202.8C944.1,205.9 945.3,209 946.5,215.4C947.4,220.1 948.3,232.1 949.2,242.3C950.1,252.6 950.9,264.9 951.8,278.2C952.7,291.5 953.6,310.6 954.5,323.1C955.4,335.6 956.3,348.1 957.2,355.4C958.4,365.1 959.6,374.1 960.8,376.9C962,379.8 963.2,382.3 964.4,382.3C965.6,382.3 966.8,377.2 968,373.3C969.2,369.5 970.4,360.4 971.6,357.2C972.5,354.7 973.4,352.8 974.3,351.8C975.1,350.9 975.8,350 976.6,350C977.6,350 978.6,353.3 979.7,355.4C980.9,357.8 982.1,364.4 983.3,364.4C984.2,364.4 985.1,364.4 985.9,364.4C986.8,364.4 987.7,361.7 988.6,359C989.5,356.2 990.4,350 991.3,341C992.2,332.1 993.1,306.9 994,287.2C995,265.7 996,221.7 996.9,215.4C997.7,210.3 998.5,206.4 999.3,206.4C1000.2,206.4 1001.1,223.3 1002,233.3C1002.7,241.3 1003.4,256 1004.1,260.3C1004.9,264.9 1005.7,269.2 1006.5,269.2C1007.2,269.2 1008,258.7 1008.8,251.3C1009.5,244.4 1010.2,227.8 1010.9,224.4C1011.5,221.5 1012.1,219 1012.7,219C1013.5,219 1014.2,226.7 1014.9,233.3C1015.7,240.5 1016.5,255.9 1017.2,269.2C1018,282.5 1018.8,302.4 1019.6,314.1C1020.3,324.9 1021,334.7 1021.7,341C1022.6,348.9 1023.5,354.4 1024.4,359C1025.6,365 1026.8,369.2 1028,373.3C1029.2,377.4 1030.4,382 1031.6,384.1C1033.1,386.7 1034.6,388.1 1036.1,389.5C1037.6,390.9 1039.1,392.2 1040.6,393.1C1041.8,393.8 1043,394.9 1044.2,394.9C1058.5,394.9 1072.9,394.9 1087.2,394.9C1088.4,394.9 1089.6,389.9 1090.8,385.9C1092,381.9 1093.2,373.6 1094.4,367.9C1095.6,362.3 1096.8,355.8 1098,351.8C1098.9,348.8 1099.8,345.6 1100.7,344.6C1101.6,343.7 1102.5,342.8 1103.4,342.8C1104.3,342.8 1105.2,346.6 1106.1,350C1107,353.4 1107.9,363.1 1108.8,367.9C1110,374.4 1111.2,380.8 1112.4,384.1C1113.6,387.4 1114.8,391.3 1115.9,391.3C1116.8,391.3 1117.7,385.5 1118.6,380.5C1119.5,375.5 1120.4,363.5 1121.3,355.4C1122.2,347.3 1123.1,339.2 1124,332.1C1124.9,324.9 1125.8,313.6 1126.7,312.3C1127.4,311.3 1128.2,310.5 1128.9,310.5C1129.6,310.5 1130.4,316 1131.2,319.5C1132.1,323.5 1133,331.2 1133.9,333.8C1135.1,337.4 1136.3,341 1137.5,341C1138.7,341 1139.9,333.8 1141.1,332.1C1142.3,330.3 1143.5,328.5 1144.7,328.5C1145.6,328.5 1146.5,332.4 1147.4,333.8C1148.3,335.3 1149.2,337.4 1150.1,337.4C1150.9,337.4 1151.8,329.3 1152.7,323.1C1153.6,316.8 1154.5,302.9 1155.4,296.2C1156.3,289.4 1157.2,283.5 1158.1,280C1158.7,277.7 1159.3,274.6 1159.9,274.6C1160.4,274.6 1160.8,283.6 1161.3,287.2C1162.2,294.3 1163.1,299.1 1164,305.1C1164.9,311.1 1165.8,317.1 1166.7,323.1C1167.6,329.1 1168.5,335.9 1169.4,341C1170.6,347.9 1171.8,353.3 1172.9,359C1174.1,364.6 1175.3,371.3 1176.5,375.1C1177.7,379 1178.9,384.1 1180.1,384.1C1181.3,384.1 1182.5,376.7 1183.7,367.9C1184.6,361.4 1185.5,339.4 1186.4,323.1C1187.3,306.8 1188.2,285.5 1189.1,269.2C1190,252.9 1190.9,232 1191.8,224.4C1193,214.2 1194.2,204.6 1195.4,204.6C1196.3,204.6 1197.2,215.9 1198.1,224.4C1199,232.9 1199.9,248.3 1200.8,260.3C1201.7,272.2 1202.6,286.7 1203.5,296.2C1204.7,308.7 1205.9,321.9 1207.1,326.7C1207.9,330.2 1208.8,333.8 1209.7,333.8C1210.6,333.8 1211.5,317.6 1212.4,305.1C1213.3,292.6 1214.2,265.6 1215.1,251.3C1216,236.9 1216.9,223.9 1217.8,215.4C1218.9,205.2 1220,192.1 1221.1,192.1C1222.1,192.1 1223.1,199.3 1224.1,206.4C1225,212.7 1225.9,230.3 1226.8,242.3C1227.7,254.3 1228.6,266.9 1229.5,278.2C1230.4,289.5 1231.3,308 1232.2,310.5C1233.4,313.8 1234.6,313.5 1235.8,315.9C1237,318.3 1238.2,324.9 1239.4,326.7C1240.6,328.5 1241.8,330.3 1242.9,330.3C1243.8,330.3 1244.7,321.5 1245.6,314.1C1246.5,306.7 1247.4,290.2 1248.3,278.2C1249.2,266.2 1250.1,251.2 1251,242.3C1252.1,231.6 1253.2,217.2 1254.3,217.2C1255.3,217.2 1256.3,226.2 1257.3,233.3C1258.2,239.6 1259.1,255 1260,260.3C1261.2,267.2 1262.4,274.6 1263.6,274.6C1264.5,274.6 1265.4,265 1266.3,262.1C1267.5,258.1 1268.7,253.6 1269.9,253.1C1271.1,252.5 1272.3,252.2 1273.5,252.2C1274.5,252.2 1275.6,253.2 1276.7,254.9C1277.4,256 1278.1,263.5 1278.8,269.2C1279.7,276.4 1280.6,287.8 1281.5,296.2C1282.4,304.5 1283.3,315.2 1284.2,319.5C1285.1,323.8 1286,328.5 1286.9,328.5C1287.8,328.5 1288.7,325.1 1289.6,323.1C1290.5,321 1291.4,315.9 1292.3,315.9C1293.2,315.9 1294.1,319.6 1295,323.1C1295.5,324.9 1296,329.1 1296.4,332.1" fill="none" stroke="#ff1a1a" stroke-width="2.3" stroke-linejoin="round"/>
<path d="M836.1,355.4C836.7,347.6 837.3,338.9 837.9,332.1C838.6,323.2 839.4,313.9 840.2,308.7C841,303.1 841.9,296.2 842.7,296.2C843.5,296.2 844.3,301.4 845.1,305.1C845.9,309.5 846.8,318.5 847.7,323.1C848.9,329.1 850.1,337.4 851.3,337.4C852.4,337.4 853.5,333 854.6,328.5C855.3,325.5 856,315.6 856.7,312.3C857.4,309 858.2,305.8 858.9,305.1C859.9,304.1 861,304.3 862.1,303.3C863,302.5 863.9,300.4 864.8,296.2C865.4,293.3 866,279.5 866.6,269.2C867.2,259 867.8,246.1 868.4,233.3C869.2,216.7 869.9,192.3 870.7,179.5C871.3,169.7 871.9,156.2 872.5,156.2C873.4,156.2 874.2,166.7 875,172.3C875.8,177.5 876.6,183.5 877.4,188.5C878.3,194.2 879.2,201 880.1,204.6C881.2,209.5 882.4,210.5 883.6,215.4C884.5,219 885.4,227.9 886.3,231.5C887.5,236.4 888.7,239 889.9,242.3C891.1,245.6 892.3,247.8 893.5,251.3C894.7,254.8 895.9,263.8 897.1,263.8C898,263.8 898.9,257.7 899.8,251.3C900.5,246.1 901.2,234.7 901.9,220.8C902.4,211.5 902.9,187.7 903.4,179.5C904.1,167.2 904.8,157.7 905.5,154.4C906.1,151.6 906.7,149 907.3,149C908.1,149 908.9,153.9 909.7,157.9C910.6,162.6 911.5,172.3 912.4,179.5C913,184.3 913.6,191 914.2,193.8C914.9,197.3 915.6,201 916.3,201C917.4,201 918.5,198.8 919.5,197.4C920.7,195.9 921.9,195.2 923.1,192.1C924,189.7 924.9,178.5 925.8,170.5C926.7,162.5 927.6,150.8 928.5,143.6C929.4,136.4 930.3,129.2 931.2,125.6C932.4,120.9 933.6,115.8 934.8,115.8C936.3,115.8 937.8,117.6 939.3,117.6C940.5,117.6 941.7,115.1 942.9,114C943.6,113.3 944.3,112.2 945,112.2C945.8,112.2 946.6,119.7 947.4,125.6C948.1,131.6 948.9,143.2 949.7,152.6C950.4,161.2 951.1,168.4 951.8,179.5C952.4,188.8 953,204.5 953.6,215.4C954.4,228.5 955.1,242.7 955.8,251.3C956.6,260.6 957.4,266.8 958.1,272.8C959,279.8 959.9,283.1 960.8,290.8C961.7,298.5 962.6,313.3 963.5,323.1C964.4,332.9 965.3,344.8 966.2,350C966.9,354.2 967.6,359 968.4,359C969.4,359 970.5,346.9 971.6,341C972.5,336.1 973.4,330.7 974.3,326.7C974.9,324 975.5,319.5 976.1,319.5C977,319.5 977.9,324.6 978.8,328.5C979.7,332.3 980.6,341.3 981.5,344.6C982.4,347.9 983.3,350.8 984.2,351.8C985.1,352.8 985.9,353.6 986.8,353.6C987.7,353.6 988.6,345.8 989.5,337.4C990.3,330.7 991,309.9 991.7,296.2C992.5,281.2 993.2,271.1 994,251.3C994.9,229.5 995.7,165.5 996.6,152.6C997.5,139 998.4,127.4 999.3,127.4C1000.2,127.4 1001.1,134.2 1002,140C1002.7,144.6 1003.4,156.1 1004.1,161.5C1004.9,167.5 1005.7,174.3 1006.5,175.9C1007.5,178 1008.5,177.7 1009.5,179.5C1010.3,180.8 1011.1,183.2 1011.8,186.7C1012.6,190.2 1013.4,197.6 1014.2,206.4C1014.9,214.5 1015.6,230.3 1016.3,242.3C1017.1,254.3 1017.8,268.4 1018.5,278.2C1019.3,288.8 1020,298.5 1020.8,305.1C1021.7,312.8 1022.6,319.1 1023.5,323.1C1024.4,327.1 1025.3,329.1 1026.2,332.1C1027.1,335 1028,338 1028.9,341C1029.8,344 1030.7,346 1031.6,350C1032.5,354 1033.4,363.4 1034.3,367.9C1035.5,374 1036.7,378.6 1037.9,382.3C1039.1,386 1040.3,389.2 1041.5,391.3C1042.4,392.8 1043.3,394.9 1044.2,394.9C1058.5,394.9 1072.9,394.9 1087.2,394.9C1088.4,394.9 1089.6,388.4 1090.8,382.3C1091.7,377.7 1092.6,365.7 1093.5,359C1094.4,352.2 1095.3,346.3 1096.2,341C1097.1,335.7 1098,330.3 1098.9,326.7C1099.8,323 1100.7,318.4 1101.6,317.7C1102.2,317.2 1102.8,316.8 1103.4,316.8C1104.2,316.8 1104.9,319.9 1105.7,323.1C1106.4,326 1107.2,334.5 1107.9,341C1108.8,349.2 1109.7,360.8 1110.6,367.9C1111.5,375.1 1112.4,383.1 1113.3,385.9C1114.2,388.7 1115.1,391.3 1115.9,391.3C1116.8,391.3 1117.7,386.6 1118.6,382.3C1119.5,378 1120.4,367.3 1121.3,359C1122.2,350.6 1123.1,341.4 1124,332.1C1124.7,324.6 1125.5,316.5 1126.2,308.7C1127,300.3 1127.7,283.6 1128.5,283.6C1129.4,283.6 1130.3,290.3 1131.2,294.4C1132.1,298.5 1133,305.5 1133.9,308.7C1134.8,311.9 1135.7,315.9 1136.6,315.9C1137.8,315.9 1139,308.4 1140.2,305.1C1141.4,301.9 1142.6,296.2 1143.8,296.2C1144.7,296.2 1145.6,301.9 1146.5,305.1C1147.4,308.4 1148.3,313.8 1149.2,315.9C1149.9,317.6 1150.6,319.5 1151.3,319.5C1152.1,319.5 1152.9,306.7 1153.6,296.2C1154.2,288.1 1154.8,272.2 1155.4,260.3C1156,248.3 1156.6,236.3 1157.2,224.4C1157.8,212.4 1158.4,188.5 1159,188.5C1160.1,188.5 1161.1,190.7 1162.2,193.8C1163.1,196.6 1164,212.3 1164.9,224.4C1165.8,236.5 1166.7,254.3 1167.6,269.2C1168.5,284.2 1169.4,300.8 1170.3,314.1C1171.2,327.4 1172.1,342 1172.9,350C1173.8,358 1174.7,364 1175.6,367.9C1176.5,371.9 1177.4,375.6 1178.3,376.9C1178.9,377.8 1179.5,378.7 1180.1,378.7C1181,378.7 1181.9,368.1 1182.8,359C1183.7,349.8 1184.6,331.6 1185.5,314.1C1186.4,296.7 1187.3,278.2 1188.2,251.3C1188.8,233.3 1189.4,200 1190,179.5C1190.6,159 1191.2,139.8 1191.8,125.6C1192.6,107.2 1193.4,80.8 1194.1,80.8C1195,80.8 1195.8,90.5 1196.6,98.7C1197.4,106.3 1198.2,122.6 1199,134.6C1199.8,146.6 1200.5,156.7 1201.3,170.5C1202,183.2 1202.7,202 1203.5,215.4C1204.4,232.1 1205.3,249 1206.2,260.3C1207.1,271.5 1207.9,284.3 1208.8,287.2C1209.4,289.1 1210,290.8 1210.6,290.8C1211.5,290.8 1212.4,267.4 1213.3,251.3C1214.2,235.1 1215.1,207.8 1216,188.5C1216.9,169.1 1217.8,145.2 1218.7,134.6C1219.6,124.1 1220.5,112.2 1221.4,112.2C1222.3,112.2 1223.2,124.6 1224.1,134.6C1225,144.6 1225.9,166.2 1226.8,179.5C1227.7,192.8 1228.6,208 1229.5,215.4C1230.4,222.8 1231.3,230.5 1232.2,231.5C1233.1,232.6 1234,232.3 1234.9,233.3C1235.8,234.4 1236.7,242.4 1237.6,247.7C1238.5,253 1239.4,262.3 1240.3,265.6C1241.5,270.1 1242.6,274.6 1243.8,274.6C1245,274.6 1246.2,260.7 1247.4,251.3C1248.6,241.9 1249.8,225.2 1251,215.4C1252.2,205.5 1253.4,190.3 1254.6,190.3C1255.5,190.3 1256.4,199.7 1257.3,206.4C1258.2,213.1 1259.1,228.4 1260,233.3C1260.8,237.6 1261.6,242.3 1262.3,242.3C1263.2,242.3 1264,231.9 1264.8,224.4C1265.8,215.7 1266.8,197.1 1267.7,188.5C1268.7,179.3 1269.8,170.8 1270.8,166.9C1271.7,163.5 1272.6,161 1273.5,159.7C1274.4,158.4 1275.3,157.1 1276.2,157.1C1277.1,157.1 1277.9,164 1278.8,170.5C1279.7,177 1280.6,193.1 1281.5,206.4C1282.4,219.7 1283.3,242.7 1284.2,251.3C1285.1,259.8 1286,269.2 1286.9,269.2C1287.8,269.2 1288.7,263.6 1289.6,262.1C1290.5,260.5 1291.4,258.5 1292.3,258.5C1293.1,258.5 1293.9,265.6 1294.6,272.8C1295.2,278.3 1295.8,293.2 1296.4,303.3" fill="none" stroke="#1c1c1c" stroke-width="2.5" stroke-linejoin="round"/>
<polygon points="829.8,18.6 1302.6,16.5 1302.3,400.5 829.8,400.5" fill="none" stroke="#000" stroke-width="3.2"/>
<rect x="1028" y="66.5" width="18" height="6" fill="#ff0000"/>
<rect x="1028" y="95.6" width="18" height="6" fill="#62a844"/>
<rect x="1028" y="124.6" width="18" height="6" fill="#000000"/>
<text x="1053.4" y="75" font-size="26">Acceptor</text>
<text x="1054.9" y="101.1" font-size="26"><tspan font-style="italic">&#960;</tspan><tspan font-weight="normal">-</tspan>spacer</text>
<text x="1055.4" y="135.4" font-size="26">Total</text>
<text transform="translate(764,204) rotate(-90)" font-size="26.5" text-anchor="middle">Relative Intensity</text>
<text x="1004.1" y="478.6" font-size="26.3">Energy <tspan font-weight="normal">(</tspan><tspan font-style="italic">eV</tspan><tspan font-weight="normal">)</tspan></text>
<text x="1037" y="538.3" font-size="31.7">TTB1</text>
<rect x="1304" y="34" width="2.2" height="3" fill="#ff5050"/>
<rect x="1304" y="64.3" width="2.2" height="3" fill="#50a850"/>
<rect x="1304" y="94" width="2.2" height="1.6" fill="#444"/>
<line x1="83.4" y1="1001.6" x2="92.9" y2="1001.6" stroke="#555" stroke-width="1.6"/>
<text x="67.5" y="1010.5" font-size="27" text-anchor="end">0</text>
<line x1="87.4" y1="987" x2="92.9" y2="987" stroke="#333" stroke-width="1.6"/>
<line x1="87.4" y1="972.4" x2="92.9" y2="972.4" stroke="#333" stroke-width="1.6"/>
<line x1="87.4" y1="957.7" x2="92.9" y2="957.7" stroke="#333" stroke-width="1.6"/>
<line x1="83.4" y1="943.1" x2="92.9" y2="943.1" stroke="#555" stroke-width="1.6"/>
<text x="67.5" y="952" font-size="27" text-anchor="end">2</text>
<line x1="87.4" y1="928.5" x2="92.9" y2="928.5" stroke="#333" stroke-width="1.6"/>
<line x1="87.4" y1="913.9" x2="92.9" y2="913.9" stroke="#333" stroke-width="1.6"/>
<line x1="87.4" y1="899.3" x2="92.9" y2="899.3" stroke="#333" stroke-width="1.6"/>
<line x1="83.4" y1="884.6" x2="92.9" y2="884.6" stroke="#555" stroke-width="1.6"/>
<text x="67.5" y="893.5" font-size="27" text-anchor="end">4</text>
<line x1="87.4" y1="870" x2="92.9" y2="870" stroke="#333" stroke-width="1.6"/>
<line x1="87.4" y1="855.4" x2="92.9" y2="855.4" stroke="#333" stroke-width="1.6"/>
<line x1="87.4" y1="840.8" x2="92.9" y2="840.8" stroke="#333" stroke-width="1.6"/>
<line x1="83.4" y1="826.2" x2="92.9" y2="826.2" stroke="#555" stroke-width="1.6"/>
<text x="67.5" y="835.1" font-size="27" text-anchor="end">6</text>
<line x1="87.4" y1="811.5" x2="92.9" y2="811.5" stroke="#333" stroke-width="1.6"/>
<line x1="87.4" y1="796.9" x2="92.9" y2="796.9" stroke="#333" stroke-width="1.6"/>
<line x1="87.4" y1="782.3" x2="92.9" y2="782.3" stroke="#333" stroke-width="1.6"/>
<line x1="83.4" y1="767.7" x2="92.9" y2="767.7" stroke="#555" stroke-width="1.6"/>
<text x="67.5" y="776.6" font-size="27" text-anchor="end">8</text>
<line x1="87.4" y1="753.1" x2="92.9" y2="753.1" stroke="#333" stroke-width="1.6"/>
<line x1="87.4" y1="738.4" x2="92.9" y2="738.4" stroke="#333" stroke-width="1.6"/>
<line x1="87.4" y1="723.8" x2="92.9" y2="723.8" stroke="#333" stroke-width="1.6"/>
<line x1="83.4" y1="709.2" x2="92.9" y2="709.2" stroke="#555" stroke-width="1.6"/>
<text x="75.2" y="718.1" font-size="27" text-anchor="end">10</text>
<line x1="87.4" y1="694.6" x2="92.9" y2="694.6" stroke="#333" stroke-width="1.6"/>
<line x1="87.4" y1="680" x2="92.9" y2="680" stroke="#333" stroke-width="1.6"/>
<line x1="87.4" y1="665.3" x2="92.9" y2="665.3" stroke="#333" stroke-width="1.6"/>
<line x1="83.4" y1="650.7" x2="92.9" y2="650.7" stroke="#555" stroke-width="1.6"/>
<text x="75.2" y="659.6" font-size="27" text-anchor="end">12</text>
<line x1="87.4" y1="636.1" x2="92.9" y2="636.1" stroke="#333" stroke-width="1.6"/>
<line x1="87.4" y1="621.5" x2="92.9" y2="621.5" stroke="#333" stroke-width="1.6"/>
<line x1="87.4" y1="606.9" x2="92.9" y2="606.9" stroke="#333" stroke-width="1.6"/>
<line x1="83.4" y1="592.2" x2="92.9" y2="592.2" stroke="#555" stroke-width="1.6"/>
<text x="75.2" y="601.1" font-size="27" text-anchor="end">14</text>
<line x1="109.2" y1="1010.2" x2="109.2" y2="1015.7" stroke="#444" stroke-width="1.6"/>
<line x1="131.3" y1="1010.2" x2="131.3" y2="1020.7" stroke="#666" stroke-width="1.6"/>
<text x="131.3" y="1052.6" font-size="28" text-anchor="middle">15</text>
<line x1="106.8" y1="1046.7" x2="114.8" y2="1046.7" stroke="#000" stroke-width="3"/>
<line x1="153.5" y1="1010.2" x2="153.5" y2="1015.7" stroke="#444" stroke-width="1.6"/>
<line x1="175.7" y1="1010.2" x2="175.7" y2="1015.7" stroke="#444" stroke-width="1.6"/>
<line x1="197.9" y1="1010.2" x2="197.9" y2="1015.7" stroke="#444" stroke-width="1.6"/>
<line x1="220" y1="1010.2" x2="220" y2="1015.7" stroke="#444" stroke-width="1.6"/>
<line x1="242.2" y1="1010.2" x2="242.2" y2="1020.7" stroke="#666" stroke-width="1.6"/>
<text x="242.2" y="1052.6" font-size="28" text-anchor="middle">10</text>
<line x1="217.7" y1="1046.7" x2="225.7" y2="1046.7" stroke="#000" stroke-width="3"/>
<line x1="264.4" y1="1010.2" x2="264.4" y2="1015.7" stroke="#444" stroke-width="1.6"/>
<line x1="286.5" y1="1010.2" x2="286.5" y2="1015.7" stroke="#444" stroke-width="1.6"/>
<line x1="308.7" y1="1010.2" x2="308.7" y2="1015.7" stroke="#444" stroke-width="1.6"/>
<line x1="330.9" y1="1010.2" x2="330.9" y2="1015.7" stroke="#444" stroke-width="1.6"/>
<line x1="353" y1="1010.2" x2="353" y2="1020.7" stroke="#666" stroke-width="1.6"/>
<text x="353" y="1052.6" font-size="28" text-anchor="middle">5</text>
<line x1="335.5" y1="1046.7" x2="343.5" y2="1046.7" stroke="#000" stroke-width="3"/>
<line x1="375.2" y1="1010.2" x2="375.2" y2="1015.7" stroke="#444" stroke-width="1.6"/>
<line x1="397.4" y1="1010.2" x2="397.4" y2="1015.7" stroke="#444" stroke-width="1.6"/>
<line x1="419.6" y1="1010.2" x2="419.6" y2="1015.7" stroke="#444" stroke-width="1.6"/>
<line x1="441.7" y1="1010.2" x2="441.7" y2="1015.7" stroke="#444" stroke-width="1.6"/>
<line x1="463.9" y1="1010.2" x2="463.9" y2="1020.7" stroke="#666" stroke-width="1.6"/>
<text x="463.9" y="1052.6" font-size="28" text-anchor="middle">0</text>
<line x1="486.1" y1="1010.2" x2="486.1" y2="1015.7" stroke="#444" stroke-width="1.6"/>
<line x1="508.2" y1="1010.2" x2="508.2" y2="1015.7" stroke="#444" stroke-width="1.6"/>
<line x1="530.4" y1="1010.2" x2="530.4" y2="1015.7" stroke="#444" stroke-width="1.6"/>
<line x1="552.6" y1="1010.2" x2="552.6" y2="1015.7" stroke="#444" stroke-width="1.6"/>
<line x1="574.8" y1="1010.2" x2="574.8" y2="1020.7" stroke="#666" stroke-width="1.6"/>
<text x="574.8" y="1052.6" font-size="28" text-anchor="middle">5</text>
<line x1="596.9" y1="1010.2" x2="596.9" y2="1015.7" stroke="#444" stroke-width="1.6"/>
<path d="M99.5,988.7C100.8,986.8 102,984.9 103.3,983C104.5,981.2 105.8,979.3 107,977.4C108.3,975.5 109.5,973.6 110.8,971.8C112.1,969.9 113.3,969.1 114.6,966.1C115.5,963.8 116.4,956.9 117.4,951.1C118.3,945.3 119.3,935.3 120.2,930.4C121.1,925.5 122.1,921.6 123,919.1C123.7,917.5 124.3,915.3 124.9,915.3C125.8,915.3 126.8,919.3 127.7,922.9C128.7,926.4 129.6,938.2 130.5,941.7C131.8,946.3 133.1,949.8 134.3,951.1C135.9,952.6 137.4,953.3 139,953.9C140.3,954.3 141.5,954.8 142.8,954.8C144.3,954.8 145.9,952 147.5,952C148.4,952 149.4,954.6 150.3,956.7C151.5,959.5 152.8,966.2 154.1,969.9C155.3,973.5 156.6,977.5 157.8,979.3C159.1,981.1 160.3,983 161.6,983C163.1,983 164.7,981.4 166.3,979.3C167.5,977.6 168.8,970.2 170,964.2C171.3,958.2 172.5,947.2 173.8,941.7C175.2,935.3 176.7,926.6 178.1,926.6C179.2,926.6 180.3,928.6 181.3,930.4C182.6,932.5 183.8,939.4 185.1,941.7C186,943.4 187,945.4 187.9,945.4C189.2,945.4 190.4,940.9 191.7,936C192.6,932.4 193.5,922.9 194.5,913.5C195.4,904.1 196.4,884.2 197.3,875.9C198.2,867.5 199.2,860.6 200.1,857.1C200.9,854 201.7,850.5 202.6,850.5C203.3,850.5 204.1,856.6 204.8,860.8C205.8,866.1 206.7,874 207.6,881.5C208.6,889 209.5,902.8 210.5,905.9C211.7,910.1 213,913.5 214.2,913.5C215.2,913.5 216.1,908.9 217,905.9C218.3,902 219.5,895 220.8,890.9C222.1,886.8 223.3,880.6 224.6,880.6C225.5,880.6 226.4,889.5 227.4,894.7C228.3,899.8 229.3,911.6 230.2,911.6C231.5,911.6 232.7,908.4 234,905.9C235.2,903.4 236.5,894.7 237.7,894.7C238.7,894.7 239.6,905.9 240.5,913.5C241.5,921 242.4,932.9 243.4,941.7C244.3,950.4 245.2,962.3 246.2,966.1C247.1,969.9 248.1,973.6 249,973.6C249.9,973.6 250.9,967.9 251.8,966.1C253.6,962.7 255.3,958.6 257.1,958.6C258.2,958.6 259.2,962.8 260.3,966.1C261.5,970 262.8,979.6 264.1,983C265,985.6 265.9,988.7 266.9,988.7C268.4,988.7 270,987.4 271.6,984.9C272.5,983.4 273.5,969.2 274.4,960.5C275.3,951.7 276.3,939.8 277.2,932.3C278.2,924.7 279.1,918.9 280,913.5C281.3,906.2 282.5,897.6 283.8,894.7C285.1,891.8 286.3,889 287.6,889C288.5,889 289.4,891.5 290.4,894.7C291.3,897.8 292.3,913.5 293.2,922.9C294.1,932.3 295.1,944.5 296,951.1C297,957.6 297.9,964.1 298.8,966.1C299.8,968.1 300.7,969.9 301.7,969.9C302.9,969.9 304.2,964.6 305.4,962.4C307,959.6 308.6,954.8 310.1,954.8C311.1,954.8 312,955.7 312.9,956.7C314.2,958 315.5,962.8 316.7,966.1C318.3,970.2 319.8,974.9 321.4,979.3C323,983.7 324.5,988.8 326.1,992.4C327.4,995.3 328.6,998.3 329.9,1000C330.5,1000.8 331.1,1001.8 331.8,1001.8C348,1001.8 364.3,1001.8 380.6,1001.8C381.6,1001.8 382.5,998.4 383.5,996.2C384.7,993.2 386,988.3 387.2,984.9C388.8,980.7 390.4,976 391.9,973.6C393.3,971.5 394.7,968.9 396.1,968.9C397.2,968.9 398.3,972.9 399.4,975.5C400.7,978.5 402,983.8 403.2,986.8C404.8,990.6 406.3,994.5 407.9,996.2C409.2,997.5 410.4,999 411.7,999C413.2,999 414.8,995.6 416.4,992.4C417.6,989.9 418.9,982.9 420.1,979.3C421.4,975.6 422.6,972.2 423.9,969.9C425.1,967.5 426.4,964.2 427.6,964.2C428.9,964.2 430.2,965.5 431.4,966.1C432.7,966.7 433.9,968 435.2,968C436.4,968 437.7,964.5 438.9,962.4C440.8,959.2 442.7,951.1 444.6,951.1C445.5,951.1 446.5,951.9 447.4,952.9C448.3,954 449.3,958.6 450.2,960.5C451.5,962.9 452.7,966.1 454,966.1C454.9,966.1 455.9,956.5 456.8,947.3C457.7,938.1 458.7,903.9 459.6,894.7C460.6,885.4 461.5,877.9 462.4,875.9C463.4,873.8 464.3,872.1 465.3,872.1C466.2,872.1 467.1,879.3 468.1,885.3C469,891.2 470,904.1 470.9,913.5C471.8,922.9 472.8,932.3 473.7,941.7C474.7,951.1 475.6,962.4 476.5,969.9C477.5,977.4 478.4,986.2 479.4,988.7C480.1,990.6 480.9,992.4 481.6,992.4C482.4,992.4 483.3,988.9 484.1,984.9C485,980.4 485.9,964.2 486.9,951.1C487.8,937.9 488.8,918 489.7,904.1C490.6,890.1 491.6,873.6 492.5,866.5C493.5,859.3 494.4,853.9 495.4,851.4C496.4,848.6 497.5,845.8 498.5,845.8C499.7,845.8 500.8,850 501.9,853.3C502.9,856 503.8,863 504.8,864.6C506,866.6 507.3,866.3 508.5,868.3C509.5,869.9 510.4,874 511.3,879.6C512.3,885.3 513.2,905.4 514.2,913.5C515.1,921.5 516,928.9 517,932.3C517.7,935 518.5,937.9 519.2,937.9C520.4,937.9 521.5,932.2 522.6,928.5C523.6,925.4 524.5,919.3 525.4,917.2C526.7,914.4 527.9,911.6 529.2,911.6C530.5,911.6 531.7,913.5 533,913.5C534.2,913.5 535.5,913.5 536.7,913.5C538,913.5 539.2,912.3 540.5,911.6C541.4,911 542.4,909.7 543.3,909.7C544.2,909.7 545.2,911.8 546.1,913.5C547.4,915.7 548.6,922.2 549.9,924.7C551.1,927.3 552.4,929.2 553.6,930.4C554.6,931.2 555.5,932.3 556.5,932.3C557.7,932.3 559,925.7 560.2,922.9C561.8,919.4 563.4,913.5 564.9,913.5C566.2,913.5 567.4,919.2 568.7,922.9C569.9,926.5 571.2,933.7 572.4,936C573.4,937.8 574.3,939.8 575.3,939.8C576.5,939.8 577.8,933.7 579,928.5C580.3,923.4 581.5,911.1 582.8,904.1C584,897 585.3,888.7 586.5,885.3C587.7,882.1 588.8,878.7 589.9,878.7C591,878.7 592.1,886.3 593.1,890.9C594.4,896.3 595.6,905.2 596.9,909.7C598.5,915.4 600,917.7 601.6,922.9C603.2,928 604.7,933.7 606.3,941.7C607.2,946.5 608.2,954.9 609.1,960.5C610.1,966 611,970.5 611.9,975.5" fill="none" stroke="#1f8f1f" stroke-width="2.2" stroke-linejoin="round"/>
<path d="M99.5,995.3C100.8,994.3 102,992.4 103.3,992.4C104.5,992.4 105.8,994.3 107,994.3C108.6,994.3 110.2,994 111.7,993.4C112.7,993 113.6,986.7 114.6,979.3C115.3,973.4 116.1,953.7 116.8,941.7C117.6,928.6 118.5,911.7 119.3,904.1C120.2,895.2 121.1,888.1 122.1,885.3C123,882.4 124,879.6 124.9,879.6C125.8,879.6 126.8,887.1 127.7,887.1C128.4,887.1 129,885.6 129.6,883.4C130.2,881.1 130.9,861.2 131.5,847.6C132.1,834.1 132.7,817.5 133.4,800.6C134.1,780.4 134.9,752.3 135.6,734.8C136.4,715.9 137.3,695.8 138.1,687.8C138.8,680.4 139.6,672.8 140.3,672.8C141.1,672.8 142,681.5 142.8,691.6C143.4,699.3 144,726.1 144.6,744.2C145.3,762.4 145.9,783.5 146.5,800.6C147.2,817.7 147.8,835.5 148.4,847.6C149.4,865.8 150.3,883.1 151.2,890.9C152.5,901.3 153.7,911.6 155,911.6C155.9,911.6 156.9,899.8 157.8,894.7C158.9,888.5 160.1,877.7 161.2,877.7C162.3,877.7 163.3,885.4 164.4,890.9C165.3,895.7 166.3,905.5 167.2,909.7C168.2,913.9 169.1,919.1 170,919.1C171,919.1 171.9,898.4 172.9,885.3C173.8,872.1 174.7,851.4 175.7,838.2C176.6,825.1 177.6,810.9 178.5,804.4C179.2,799.2 180,793.1 180.8,793.1C181.6,793.1 182.4,802.7 183.2,810C184.1,818.5 185.1,835.1 186,847.6C187,860.2 187.9,879.7 188.8,885.3C189.5,889 190.1,892.8 190.7,892.8C191.7,892.8 192.6,883.4 193.5,875.9C194.5,868.3 195.4,849.5 196.4,842C197.3,834.5 198.2,829.6 199.2,825.1C200.4,819 201.7,817.4 202.9,810C203.9,804.6 204.8,789.5 205.8,781.8C206.8,773.2 207.9,760.2 209,760.2C209.8,760.2 210.6,771.7 211.4,781.8C212,789.7 212.7,809.3 213.3,819.4C214.2,834.7 215.2,857.1 216.1,857.1C217,857.1 218,845.8 218.9,838.2C219.9,830.7 220.8,816.9 221.7,810C222.6,804.1 223.4,795.9 224.2,795.9C224.9,795.9 225.7,808.2 226.4,819.4C227.1,828.8 227.7,853.7 228.3,866.5C229.3,885.5 230.2,899.5 231.1,913.5C232.1,927.4 233,939.5 234,951.1C234.9,962.6 235.8,978.4 236.8,983C238,989.2 239.3,992.4 240.5,994.3C241.8,996.2 243.1,998.1 244.3,998.1C245.6,998.1 246.8,996.5 248.1,994.3C249,992.7 249.9,984.8 250.9,979.3C251.8,973.7 252.8,963 253.7,960.5C254.8,957.4 256,954.8 257.1,954.8C258.2,954.8 259.2,959.7 260.3,962.4C261.2,964.7 262.2,969.1 263.1,969.9C264.4,971 265.6,971.8 266.9,971.8C267.8,971.8 268.8,966.5 269.7,960.5C270.6,954.4 271.6,930.6 272.5,913.5C273.5,896.4 274.4,875.9 275.3,857.1C276,844.5 276.6,827 277.2,819.4C278,809.6 278.9,798.8 279.7,798.8C280.4,798.8 281.2,811.3 281.9,819.4C282.9,829.6 283.8,845.4 284.7,857.1C285.6,867.1 286.4,880.4 287.2,885.3C287.6,887.9 288.1,890.9 288.5,890.9C289.4,890.9 290.4,874.6 291.3,866.5C292.3,858.3 293.2,847.6 294.1,842C295,837.1 295.8,832.3 296.6,830.7C297.3,829.3 298.1,827.9 298.8,827.9C299.8,827.9 300.7,839 301.7,847.6C302.6,856.3 303.5,871.3 304.5,885.3C305.4,899.2 306.4,920.5 307.3,932.3C308.2,944 309.2,954.1 310.1,960.5C311.4,969 312.6,975.2 313.9,979.3C315.5,984.4 317,987.5 318.6,990.6C320.2,993.6 321.7,996.9 323.3,998.1C325.2,999.5 327.1,1000 328.9,1000.9C329.6,1001.2 330.2,1001.8 330.8,1001.8C347.4,1001.8 364,1001.8 380.6,1001.8C382.2,1001.8 383.8,994.1 385.3,988.7C386.6,984.3 387.8,977.1 389.1,971.8C390.4,966.4 391.6,959.4 392.9,956.7C394.1,954 395.4,951.1 396.6,951.1C397.8,951.1 398.9,956.2 400,960.5C401.1,964.5 402.1,974.2 403.2,979.3C404.5,985.3 405.7,991.6 407,994.3C408.2,997.1 409.5,1000 410.7,1000C412,1000 413.2,997.3 414.5,994.3C415.7,991.4 417,983.1 418.2,973.6C419.2,966.6 420.1,953.2 421.1,941.7C422,930.1 422.9,910.6 423.9,904.1C424.8,897.6 425.8,890.9 426.7,890.9C427.6,890.9 428.6,898.4 429.5,904.1C430.5,909.8 431.4,921 432.4,928.5C433.3,936 434.2,945.3 435.2,949.2C435.8,951.8 436.4,954.8 437.1,954.8C438,954.8 438.9,947.5 439.9,941.7C441.1,933.8 442.4,911.9 443.6,904.1C444.6,898.2 445.5,892 446.5,890.9C447.4,889.8 448.3,889 449.3,889C450,889 450.8,898.1 451.5,904.1C452.4,910.6 453.2,919.6 454,928.5C454.6,935.4 455.2,945.1 455.9,951.1C456.5,957.1 457.1,966.1 457.7,966.1C458.7,966.1 459.6,966.1 460.6,966.1C461.8,966.1 463.1,960.5 464.3,960.5C465.3,960.5 466.2,962.4 467.1,964.2C468.1,966 469,970.4 470,973.6C471.2,977.9 472.5,983.1 473.7,986.8C475,990.5 476.2,994.4 477.5,996.2C478.7,998 480,1000 481.2,1000C482.5,1000 483.8,997.3 485,994.3C485.9,992.1 486.9,986.4 487.8,979.3C488.8,972.1 489.7,954.2 490.6,941.7C491.6,929.1 492.5,914.7 493.5,904.1C494.1,897 494.7,888.8 495.4,885.3C496,881.7 496.6,877.7 497.2,877.7C498.2,877.7 499.1,882.5 500.1,885.3C501,888 501.9,894.7 502.9,894.7C503.8,894.7 504.8,888.4 505.7,885.3C506.8,881.5 507.9,874 509.1,874C509.8,874 510.6,879.9 511.3,885.3C512.3,892 513.2,914 514.2,922.9C515.1,931.8 516,940.7 517,943.5C517.6,945.4 518.2,947.3 518.9,947.3C519.8,947.3 520.7,939.4 521.7,932.3C522.6,925.1 523.6,906.5 524.5,894.7C525.4,882.8 526.4,866.5 527.3,860.8C528.3,855.2 529.2,849.5 530.1,849.5C531.1,849.5 532,853.3 533,857.1C533.9,860.8 534.8,875.6 535.8,879.6C536.4,882.3 537,885.3 537.7,885.3C538.6,885.3 539.5,874.4 540.5,866.5C541.3,859.5 542.1,844 542.9,838.2C543.8,832.1 544.7,825.1 545.6,825.1C546.4,825.1 547.2,832.1 548,838.2C548.9,845.4 549.9,863.3 550.8,875.9C551.8,888.4 552.7,907.7 553.6,913.5C554.6,919.2 555.5,924.7 556.5,924.7C557.4,924.7 558.3,912 559.3,904.1C560.2,896.1 561.2,883.8 562.1,875.9C563,867.9 564,858.4 564.9,855.2C565.7,852.3 566.6,849.5 567.4,849.5C568.1,849.5 568.9,856.1 569.6,860.8C570.6,866.7 571.5,878.2 572.4,885.3C573.4,892.3 574.3,902.5 575.3,904.1C575.9,905.1 576.5,905.9 577.1,905.9C578.1,905.9 579,891.8 580,885.3C580.9,878.7 581.8,870.4 582.8,866.5C584,861.2 585.3,855.2 586.5,855.2C587.5,855.2 588.4,859.5 589.4,864.6C590.3,869.6 591.2,893.1 592.2,904.1C593.1,915 594.1,926.8 595,932.3C596.3,939.6 597.5,944 598.8,947.3C600,950.7 601.3,951.8 602.5,954.8C603.8,957.8 605,961.5 606.3,966.1C607.2,969.6 608.2,975.2 609.1,979.3C610.1,983.3 611,986.8 611.9,990.6" fill="none" stroke="#ff1a1a" stroke-width="2.3" stroke-linejoin="round"/>
<path d="M99.5,975.5C100.5,973.6 101.4,970.8 102.3,969.9C103.3,968.9 104.2,968.7 105.2,968C106.4,967 107.7,965.9 108.9,964.2C109.9,963 110.8,961.2 111.7,958.6C112.6,956.3 113.4,952.6 114.2,947.3C114.9,942.4 115.7,934.4 116.4,922.9C117.1,913.3 117.7,890.5 118.3,875.9C119,861.2 119.6,845 120.2,834.5C121,821.9 121.7,809.6 122.5,804.4C123.3,798.8 124.1,793.1 124.9,793.1C125.8,793.1 126.8,802.6 127.7,806.3C128.4,808.8 129,812.9 129.6,812.9C130.2,812.9 130.9,801 131.5,791.2C132.2,779.5 133,752.9 133.7,734.8C134.6,715.3 135.4,694.7 136.2,678.4C137,662.1 137.8,644.4 138.6,635.2C139.3,628.1 139.9,619.2 140.5,619.2C141.3,619.2 142,626.5 142.8,635.2C143.4,642.4 144,669.9 144.6,687.8C145.4,709.3 146.2,732.6 146.9,753.6C147.7,776.5 148.5,801.2 149.4,819.4C150.2,837.7 151,861.4 151.8,866.5C152.9,873 153.9,877.7 155,877.7C155.9,877.7 156.9,864.2 157.8,860.8C159.1,856.3 160.3,851.4 161.6,851.4C162.5,851.4 163.5,860.9 164.4,866.5C165.3,872 166.3,883.9 167.2,885.3C168,886.3 168.7,887.1 169.5,887.1C170.3,887.1 171.1,869.4 171.9,857.1C172.9,842.8 173.8,819.8 174.7,800.6C175.5,785.3 176.2,766 177,753.6C177.7,742.3 178.4,729.5 179.1,725.4C179.6,722.1 180.2,718.8 180.8,718.8C181.6,718.8 182.4,727.7 183.2,734.8C184.1,743 185.1,757.2 186,772.4C186.6,782.6 187.3,801.6 187.9,810C188.6,820.2 189.4,832.6 190.2,832.6C191,832.6 191.8,819.7 192.6,810C193.5,798.9 194.5,780.1 195.4,763C196.4,745.9 197.3,721.7 198.2,706.6C199.2,691.6 200.1,677.5 201.1,669C202.2,658.9 203.3,650.5 204.4,646.5C205.3,643.3 206.2,639.9 207.1,639.9C207.9,639.9 208.7,646.9 209.5,654C210.3,661.1 211.2,681.6 212,697.2C212.7,711.6 213.5,734.2 214.2,744.2C214.8,752.6 215.5,763 216.1,763C217,763 218,745.6 218.9,734.8C219.9,724.1 220.8,707.3 221.7,697.2C222.7,687.1 223.6,671.8 224.6,671.8C225.2,671.8 225.8,679.9 226.4,687.8C227.1,695.8 227.7,717.7 228.3,734.8C229,751.9 229.6,774.1 230.2,791.2C230.8,808.3 231.5,826.5 232.1,838.2C232.7,850 233.3,861.8 234,866.5C234.9,873.4 235.8,874.9 236.8,879.6C237.7,884.3 238.7,888.1 239.6,894.7C240.5,901.2 241.5,913.5 242.4,922.9C243.4,932.3 244.3,944.5 245.2,951.1C246.2,957.6 247.1,966.1 248.1,966.1C249,966.1 249.9,957.1 250.9,951.1C251.8,945.1 252.8,932.4 253.7,928.5C254.8,923.8 256,919.1 257.1,919.1C258.2,919.1 259.2,927.5 260.3,932.3C261.5,937.9 262.8,946.4 264.1,951.1C265.3,955.8 266.6,962.4 267.8,962.4C268.4,962.4 269.1,949.7 269.7,941.7C270.5,931.3 271.3,919.6 272.1,904.1C272.9,889.7 273.6,868.2 274.4,847.6C275,830.5 275.7,808.3 276.3,791.2C276.9,774.1 277.5,753.8 278.2,744.2C278.8,734.7 279.4,726 280,723.5C280.5,721.6 281,719.8 281.5,719.8C282.3,719.8 283.1,728.3 283.8,734.8C284.6,741.4 285.3,754.7 286.1,763C286.9,772.1 287.7,784 288.5,787.5C289.4,791.5 290.4,795 291.3,795C292.6,795 293.8,791.2 295.1,791.2C296,791.2 297,794 297.9,796.9C298.8,799.8 299.8,807.1 300.7,815.7C301.7,824.3 302.6,844.6 303.5,857.1C304.5,869.5 305.4,882.1 306.4,890.9C307.6,902.6 308.9,910.7 310.1,919.1C311.4,927.5 312.6,935 313.9,941.7C315.5,950.1 317,957.4 318.6,964.2C320.2,971.1 321.7,977.9 323.3,983C324.9,988.2 326.4,992.6 328,996.2C328.9,998.4 329.9,1001.8 330.8,1001.8C347.4,1001.8 364,1001.8 380.6,1001.8C381.9,1001.8 383.1,994.7 384.4,988.7C385.7,982.7 386.9,969.2 388.2,960.5C389.4,951.7 390.7,943.8 391.9,936C392.9,930.2 393.8,921.8 394.7,919.1C395.4,917.3 396,915.3 396.6,915.3C397.6,915.3 398.5,921.5 399.4,926.6C400.4,931.8 401.3,943.5 402.3,951.1C403.5,961.2 404.8,972.2 406,979.3C407.3,986.3 408.5,994.8 409.8,996.2C410.7,997.3 411.7,998.1 412.6,998.1C413.5,998.1 414.5,992.9 415.4,988.7C416.4,984.5 417.3,978.8 418.2,969.9C419.2,960.9 420.1,938.5 421.1,922.9C422,907.2 422.9,885.8 423.9,875.9C425.1,862.6 426.4,847.6 427.6,847.6C428.6,847.6 429.5,858.9 430.5,866.5C431.4,874 432.4,886.3 433.3,894.7C434.2,903 435.2,917.2 436.1,917.2C437.1,917.2 438,910 438.9,904.1C439.9,898.1 440.8,886.2 441.8,875.9C442.4,869 443,856.1 443.6,853.3C444.9,847.7 446.1,843.9 447.4,843.9C448.3,843.9 449.3,850.4 450.2,857.1C451,862.8 451.9,882.4 452.7,890.9C453.4,898.7 454.2,907.3 454.9,909.7C455.5,911.7 456.2,913.5 456.8,913.5C457.7,913.5 458.7,888.6 459.6,875.9C460.4,864.8 461.3,848.4 462.1,842C463.1,833.7 464.2,825.1 465.3,825.1C466.2,825.1 467.1,833.9 468.1,842C469,850.1 470,870.2 470.9,885.3C471.8,900.3 472.8,919.1 473.7,932.3C474.7,945.4 475.6,957.1 476.5,966.1C477.5,975.1 478.4,984.7 479.4,988.7C480,991.3 480.6,994.3 481.2,994.3C482.2,994.3 483.1,989.4 484.1,984.9C485,980.4 485.9,971.2 486.9,960.5C487.8,949.7 488.8,936.2 489.7,913.5C490.3,898.3 491,861.6 491.6,838.2C492.2,814.8 492.8,786.1 493.5,772.4C494.3,754.7 495.1,741.7 495.9,734.8C496.7,728.5 497.4,721.7 498.2,721.7C499.1,721.7 500.1,735.6 501,744.2C501.9,752.8 502.9,774.3 503.8,774.3C504.8,774.3 505.7,766 506.6,763C507.6,760 508.5,755.5 509.5,755.5C510.4,755.5 511.3,769.6 512.3,781.8C512.9,790 513.5,807.1 514.2,819.4C515,835.4 515.8,855.2 516.6,866.5C517.4,876.8 518.1,890.9 518.9,890.9C519.8,890.9 520.7,883.5 521.7,875.9C522.6,868.3 523.6,844.5 524.5,828.8C525.2,816.3 526,801.5 526.8,791.2C527.6,780.1 528.4,763 529.2,763C529.9,763 530.7,763.8 531.5,764.9C532.3,766.2 533.1,787 533.9,791.2C535,797.2 536.2,802.5 537.3,802.5C538.3,802.5 539.4,784.2 540.5,772.4C541.3,763.5 542.1,745.3 542.9,740.5C543.5,736.7 544.2,732.9 544.8,732.9C545.6,732.9 546.3,740.7 547.1,748C547.8,755.3 548.6,774.5 549.3,787.5C550.1,801.5 550.9,818.5 551.8,828.8C552.7,840.7 553.6,854.1 554.6,857.1C555.2,859.1 555.8,860.8 556.5,860.8C557.4,860.8 558.3,840.4 559.3,828.8C560.2,817.3 561.2,802 562.1,791.2C563,780.5 564,765.4 564.9,763C565.5,761.5 566.2,760.2 566.8,760.2C567.7,760.2 568.7,766.3 569.6,772.4C570.6,778.6 571.5,796.6 572.4,810C573.3,821.7 574.1,843.7 574.9,847.6C575.5,850.7 576.1,853.3 576.8,853.3C577.8,853.3 578.9,834.3 580,819.4C580.9,806.3 581.8,775 582.8,763C583.7,751.1 584.7,741.4 585.6,736.7C586.2,733.6 586.9,730.1 587.5,730.1C588.4,730.1 589.4,737.4 590.3,744.2C591.2,751.1 592.2,769.3 593.1,781.8C594.1,794.4 595,806.9 595.9,819.4C596.9,832 597.8,848.7 598.8,857.1C599.7,865.4 600.6,869.6 601.6,875.9C602.5,882.1 603.5,887.1 604.4,894.7C605.4,902.2 606.3,913.5 607.2,922.9C608.2,932.3 609.1,942.8 610.1,951.1C610.7,956.6 611.3,961.1 611.9,966.1" fill="none" stroke="#1c1c1c" stroke-width="2.5" stroke-linejoin="round"/>
<polygon points="94.3,587.8 619,585.8 619,1008.8 94.3,1008.8" fill="none" stroke="#000" stroke-width="3.8"/>
<rect x="313.9" y="640.1" width="20.1" height="6.8" fill="#ff0000"/>
<rect x="313.9" y="673" width="20.1" height="6.8" fill="#62a844"/>
<rect x="313.9" y="704.7" width="20.1" height="6.8" fill="#000000"/>
<text x="340.6" y="650" font-size="29">Acceptor</text>
<text x="342.1" y="679.6" font-size="29"><tspan font-style="italic">&#960;</tspan><tspan font-weight="normal">-</tspan>spacer</text>
<text x="342.6" y="717.6" font-size="29">Total</text>
<text transform="translate(19.7,793.6) rotate(-90)" font-size="29.6" text-anchor="middle">Relative Intensity</text>
<text x="288" y="1098.4" font-size="29">Energy <tspan font-weight="normal">(</tspan><tspan font-style="italic">eV</tspan><tspan font-weight="normal">)</tspan></text>
<text x="321.6" y="1153.2" font-size="31.5">TTB2</text>
<line x1="783.8" y1="996.3" x2="790.8" y2="996.3" stroke="#555" stroke-width="1.6"/>
<text x="771" y="1005.5" font-size="28" text-anchor="end">0</text>
<line x1="786.2" y1="981.2" x2="790.8" y2="981.2" stroke="#333" stroke-width="1.6"/>
<line x1="786.2" y1="966.1" x2="790.8" y2="966.1" stroke="#333" stroke-width="1.6"/>
<line x1="786.2" y1="951" x2="790.8" y2="951" stroke="#333" stroke-width="1.6"/>
<line x1="783.8" y1="935.8" x2="790.8" y2="935.8" stroke="#555" stroke-width="1.6"/>
<text x="771" y="945.1" font-size="28" text-anchor="end">2</text>
<line x1="786.2" y1="920.7" x2="790.8" y2="920.7" stroke="#333" stroke-width="1.6"/>
<line x1="786.2" y1="905.6" x2="790.8" y2="905.6" stroke="#333" stroke-width="1.6"/>
<line x1="786.2" y1="890.5" x2="790.8" y2="890.5" stroke="#333" stroke-width="1.6"/>
<line x1="783.8" y1="875.4" x2="790.8" y2="875.4" stroke="#555" stroke-width="1.6"/>
<text x="771" y="884.6" font-size="28" text-anchor="end">4</text>
<line x1="786.2" y1="860.3" x2="790.8" y2="860.3" stroke="#333" stroke-width="1.6"/>
<line x1="786.2" y1="845.1" x2="790.8" y2="845.1" stroke="#333" stroke-width="1.6"/>
<line x1="786.2" y1="830" x2="790.8" y2="830" stroke="#333" stroke-width="1.6"/>
<line x1="783.8" y1="814.9" x2="790.8" y2="814.9" stroke="#555" stroke-width="1.6"/>
<text x="771" y="824.2" font-size="28" text-anchor="end">6</text>
<line x1="786.2" y1="799.8" x2="790.8" y2="799.8" stroke="#333" stroke-width="1.6"/>
<line x1="786.2" y1="784.7" x2="790.8" y2="784.7" stroke="#333" stroke-width="1.6"/>
<line x1="786.2" y1="769.6" x2="790.8" y2="769.6" stroke="#333" stroke-width="1.6"/>
<line x1="783.8" y1="754.5" x2="790.8" y2="754.5" stroke="#555" stroke-width="1.6"/>
<text x="771" y="763.7" font-size="28" text-anchor="end">8</text>
<line x1="786.2" y1="739.3" x2="790.8" y2="739.3" stroke="#333" stroke-width="1.6"/>
<line x1="786.2" y1="724.2" x2="790.8" y2="724.2" stroke="#333" stroke-width="1.6"/>
<line x1="786.2" y1="709.1" x2="790.8" y2="709.1" stroke="#333" stroke-width="1.6"/>
<line x1="783.8" y1="694" x2="790.8" y2="694" stroke="#555" stroke-width="1.6"/>
<text x="775" y="703.2" font-size="28" text-anchor="end">10</text>
<line x1="786.2" y1="678.9" x2="790.8" y2="678.9" stroke="#333" stroke-width="1.6"/>
<line x1="786.2" y1="663.8" x2="790.8" y2="663.8" stroke="#333" stroke-width="1.6"/>
<line x1="786.2" y1="648.7" x2="790.8" y2="648.7" stroke="#333" stroke-width="1.6"/>
<line x1="783.8" y1="633.5" x2="790.8" y2="633.5" stroke="#555" stroke-width="1.6"/>
<text x="775" y="642.8" font-size="28" text-anchor="end">12</text>
<line x1="786.2" y1="618.4" x2="790.8" y2="618.4" stroke="#333" stroke-width="1.6"/>
<line x1="786.2" y1="603.3" x2="790.8" y2="603.3" stroke="#333" stroke-width="1.6"/>
<line x1="786.2" y1="588.2" x2="790.8" y2="588.2" stroke="#333" stroke-width="1.6"/>
<line x1="783.8" y1="573.1" x2="790.8" y2="573.1" stroke="#555" stroke-width="1.6"/>
<text x="775" y="582.3" font-size="28" text-anchor="end">14</text>
<line x1="811" y1="1004.8" x2="811" y2="1011.2" stroke="#444" stroke-width="1.6"/>
<line x1="833.5" y1="1004.8" x2="833.5" y2="1015.8" stroke="#666" stroke-width="1.6"/>
<text x="833.5" y="1051.5" font-size="28" text-anchor="middle">15</text>
<line x1="809" y1="1045.6" x2="817" y2="1045.6" stroke="#000" stroke-width="3"/>
<line x1="856" y1="1004.8" x2="856" y2="1011.2" stroke="#444" stroke-width="1.6"/>
<line x1="878.5" y1="1004.8" x2="878.5" y2="1011.2" stroke="#444" stroke-width="1.6"/>
<line x1="901.1" y1="1004.8" x2="901.1" y2="1011.2" stroke="#444" stroke-width="1.6"/>
<line x1="923.6" y1="1004.8" x2="923.6" y2="1011.2" stroke="#444" stroke-width="1.6"/>
<line x1="946.1" y1="1004.8" x2="946.1" y2="1015.8" stroke="#666" stroke-width="1.6"/>
<text x="946.1" y="1051.5" font-size="28" text-anchor="middle">10</text>
<line x1="921.6" y1="1045.6" x2="929.6" y2="1045.6" stroke="#000" stroke-width="3"/>
<line x1="968.6" y1="1004.8" x2="968.6" y2="1011.2" stroke="#444" stroke-width="1.6"/>
<line x1="991.1" y1="1004.8" x2="991.1" y2="1011.2" stroke="#444" stroke-width="1.6"/>
<line x1="1013.7" y1="1004.8" x2="1013.7" y2="1011.2" stroke="#444" stroke-width="1.6"/>
<line x1="1036.2" y1="1004.8" x2="1036.2" y2="1011.2" stroke="#444" stroke-width="1.6"/>
<line x1="1058.7" y1="1004.8" x2="1058.7" y2="1015.8" stroke="#666" stroke-width="1.6"/>
<text x="1058.7" y="1051.5" font-size="28" text-anchor="middle">5</text>
<line x1="1041.2" y1="1045.6" x2="1049.2" y2="1045.6" stroke="#000" stroke-width="3"/>
<line x1="1081.2" y1="1004.8" x2="1081.2" y2="1011.2" stroke="#444" stroke-width="1.6"/>
<line x1="1103.7" y1="1004.8" x2="1103.7" y2="1011.2" stroke="#444" stroke-width="1.6"/>
<line x1="1126.3" y1="1004.8" x2="1126.3" y2="1011.2" stroke="#444" stroke-width="1.6"/>
<line x1="1148.8" y1="1004.8" x2="1148.8" y2="1011.2" stroke="#444" stroke-width="1.6"/>
<line x1="1171.3" y1="1004.8" x2="1171.3" y2="1015.8" stroke="#666" stroke-width="1.6"/>
<text x="1171.3" y="1051.5" font-size="28" text-anchor="middle">0</text>
<line x1="1193.8" y1="1004.8" x2="1193.8" y2="1011.2" stroke="#444" stroke-width="1.6"/>
<line x1="1216.3" y1="1004.8" x2="1216.3" y2="1011.2" stroke="#444" stroke-width="1.6"/>
<line x1="1238.9" y1="1004.8" x2="1238.9" y2="1011.2" stroke="#444" stroke-width="1.6"/>
<line x1="1261.4" y1="1004.8" x2="1261.4" y2="1011.2" stroke="#444" stroke-width="1.6"/>
<line x1="1283.9" y1="1004.8" x2="1283.9" y2="1015.8" stroke="#666" stroke-width="1.6"/>
<text x="1283.9" y="1051.5" font-size="28" text-anchor="middle">5</text>
<line x1="1306.4" y1="1004.8" x2="1306.4" y2="1011.2" stroke="#444" stroke-width="1.6"/>
<path d="M800.6,994.4C801.9,990.9 803.1,987.8 804.4,983.8C805.7,979.9 807,974.5 808.3,970.4C809.6,966.2 810.8,962.3 812.1,958.8C813.4,955.3 814.7,953.5 816,949.2C816.9,946.1 817.9,940.6 818.8,935.8C819.8,931 820.8,923.2 821.7,920.4C823,916.6 824.3,912.7 825.6,912.7C826.5,912.7 827.5,914.4 828.5,916.5C829.4,918.7 830.4,930.5 831.3,935.8C832.3,941 833.3,946.5 834.2,949.2C835.2,951.9 836.2,955 837.1,955C838.4,955 839.7,949.7 841,947.3C842.4,944.6 843.9,939.6 845.4,939.6C846.8,939.6 848.2,943.1 849.6,945.4C851.2,948 852.8,951.3 854.4,955C856,958.7 857.6,965.4 859.2,968.5C860.5,970.9 861.8,973.3 863.1,974.2C864.4,975.2 865.6,976.2 866.9,976.2C868.2,976.2 869.5,966.1 870.8,958.8C872.1,951.6 873.3,936.5 874.6,930C875.8,924.1 876.9,916.5 878.1,916.5C878.8,916.5 879.6,916.5 880.4,916.5C881.3,916.5 882.3,921.4 883.3,924.2C884.2,927.1 885.2,932 886.2,933.8C887.1,935.7 888.1,937.7 889,937.7C890.3,937.7 891.6,930.6 892.9,924.2C893.8,919.5 894.8,909.7 895.8,901.2C896.7,892.6 897.7,878.4 898.7,872.3C899.6,866.2 900.6,861.2 901.5,858.8C902.3,857 903.1,855 903.8,855C904.9,855 905.9,860.6 906.9,864.6C908,868.9 909.1,876.6 910.2,881.9C911.5,888.2 912.8,896.3 914,899.2C915.3,902.1 916.6,905 917.9,905C919.2,905 920.4,903.1 921.7,901.2C922.7,899.7 923.7,894.9 924.6,893.5C925.6,892.1 926.5,890.6 927.5,890.6C928.5,890.6 929.4,894.9 930.4,897.3C931.3,899.7 932.3,903.1 933.3,905C934.1,906.6 934.9,908.8 935.8,908.8C936.5,908.8 937.3,900.4 938.1,897.3C939,893.4 940,887.7 941,887.7C941.9,887.7 942.9,895 943.8,901.2C944.8,907.3 945.8,919.1 946.7,930C947.6,939.5 948.4,959.3 949.2,962.7C950.3,967.2 951.4,970.4 952.5,970.4C953.8,970.4 955.1,965.3 956.3,962.7C957.6,960.1 958.9,955 960.2,955C961.2,955 962.1,962.9 963.1,966.5C964.4,971.3 965.6,977.3 966.9,980C968.2,982.7 969.5,985.8 970.8,985.8C972.4,985.8 974.1,980 975.8,974.2C977.1,969.8 978.3,958.2 979.6,949.2C980.9,940.3 982.2,928.9 983.5,920.4C984.7,911.8 986,904 987.3,897.3C988.3,892.3 989.2,886.5 990.2,883.8C990.8,882.1 991.5,880 992.1,880C993.1,880 994,886 995,891.5C996,897 996.9,910.8 997.9,920.4C998.8,930 999.8,944.4 1000.8,949.2C1001.7,954 1002.7,957.7 1003.7,958.8C1004.5,959.9 1005.3,960.8 1006.2,960.8C1007.2,960.8 1008.3,957 1009.4,955C1010.7,952.6 1012,948.6 1013.3,947.3C1014.2,946.4 1015.2,945.4 1016.2,945.4C1017.3,945.4 1018.5,948.5 1019.6,951.2C1020.7,953.6 1021.8,958.6 1022.9,962.7C1024.2,967.5 1025.4,974.2 1026.7,978.1C1028.3,982.9 1029.9,987.7 1031.5,989.6C1033.1,991.5 1034.7,993.5 1036.3,993.5C1052.1,993.5 1067.8,993.5 1083.5,993.5C1085.1,993.5 1086.7,989.9 1088.3,987.7C1089.9,985.5 1091.5,982.9 1093.1,980C1094.4,977.7 1095.6,974.6 1096.9,972.3C1098.1,970.2 1099.2,966.5 1100.4,966.5C1101.5,966.5 1102.6,968.6 1103.7,970.4C1104.9,972.5 1106.2,979 1107.5,981.9C1109.1,985.6 1110.7,989.3 1112.3,990.6C1113.6,991.6 1114.9,992.5 1116.2,992.5C1117.8,992.5 1119.4,987.1 1121,983.8C1122.6,980.5 1124.2,975.8 1125.8,972.3C1127.4,968.8 1129,964.5 1130.6,962.7C1132.2,960.9 1133.8,959.4 1135.4,958.8C1137,958.3 1138.6,957.9 1140.2,957.9C1141.5,957.9 1142.8,958.3 1144,958.8C1145.3,959.4 1146.6,965 1147.9,968.5C1149.2,972 1150.4,977.5 1151.7,980C1153.1,982.6 1154.4,985.8 1155.8,985.8C1156.7,985.8 1157.7,979.5 1158.7,974.2C1159.6,969 1160.6,958.2 1161.5,949.2C1162.5,940.3 1163.5,931.4 1164.4,920.4C1165.4,909.4 1166.3,890.5 1167.3,881.9C1168.3,873.4 1169.2,867.4 1170.2,862.7C1170.8,859.5 1171.5,855 1172.1,855C1172.9,855 1173.8,861.1 1174.6,866.5C1175.4,871.5 1176.2,882.4 1176.9,891.5C1177.9,903 1178.8,917.9 1179.8,930C1180.8,942.1 1181.7,956.9 1182.7,964.6C1183.7,972.3 1184.6,979.6 1185.6,981.9C1186.4,983.9 1187.2,985.8 1188.1,985.8C1188.8,985.8 1189.6,979.6 1190.4,974.2C1191.3,967.5 1192.3,951.8 1193.3,939.6C1194.2,927.5 1195.2,912.1 1196.2,901.2C1197.1,890.2 1198.1,879.5 1199,872.3C1200,865.1 1201,857.6 1201.9,855C1203.1,851.9 1204.2,849.2 1205.4,849.2C1206.5,849.2 1207.6,854.7 1208.7,858.8C1209.6,862.5 1210.6,872.6 1211.5,874.2C1212.8,876.5 1214.1,876.1 1215.4,878.1C1216.3,879.6 1217.3,883.2 1218.3,887.7C1219.2,892.2 1220.2,903.8 1221.2,910.8C1222.1,917.8 1223.1,928.4 1224,930C1224.7,931.1 1225.3,931.9 1226,931.9C1226.9,931.9 1227.9,927.1 1228.8,924.2C1230.1,920.4 1231.4,912.8 1232.7,910.8C1234,908.8 1235.3,906.9 1236.5,906.9C1237.8,906.9 1239.1,910.8 1240.4,910.8C1241.7,910.8 1242.9,909.9 1244.2,908.8C1245.5,907.7 1246.8,899.6 1248.1,897.3C1249,895.6 1250,893.5 1251,893.5C1251.9,893.5 1252.9,897.7 1253.8,901.2C1254.8,904.6 1255.8,912.4 1256.7,916.5C1258,922 1259.3,928.9 1260.6,930C1261.9,931.1 1263.1,931.9 1264.4,931.9C1266,931.9 1267.6,931.9 1269.2,931.9C1270.5,931.9 1271.8,934.9 1273.1,937.7C1274.2,940.2 1275.4,947.8 1276.5,951.2C1277.6,954.3 1278.7,958.8 1279.8,958.8C1280.8,958.8 1281.7,954.6 1282.7,951.2C1283.7,947.7 1284.6,940.9 1285.6,935.8C1286.5,930.6 1287.5,924.5 1288.5,920.4C1289.7,914.9 1291,910.2 1292.3,906.9C1293.6,903.7 1294.9,900.7 1296.2,899.2C1297.8,897.4 1299.4,895.4 1301,895.4C1302.6,895.4 1304.2,898.4 1305.8,899.2C1307.4,900.1 1309,900 1310.6,901.2C1311.5,901.9 1312.5,905.1 1313.5,908.8C1314.4,912.6 1315.4,923.9 1316.3,930C1317.6,938.1 1318.9,944.1 1320.2,951.2" fill="none" stroke="#1f8f1f" stroke-width="2.2" stroke-linejoin="round"/>
<path d="M800.6,989.6C801.5,985.8 802.5,982.9 803.5,978.1C804.4,973.3 805.4,966.5 806.3,958.8C807.3,951.2 808.3,941 809.2,930C810.2,919 811.2,902.5 812.1,891.5C813.1,880.5 814,871 815,862.7C815.8,855.5 816.7,847.3 817.5,843.5C818.3,839.9 819,835.8 819.8,835.8C820.8,835.8 821.7,845.1 822.7,853.1C823.7,861 824.6,878.7 825.6,891.5C826.5,904.4 827.5,919 828.5,930C829.4,941 830.4,954 831.3,958.8C832.3,963.7 833.3,968.5 834.2,968.5C835.2,968.5 836.2,960.8 837.1,955C838.1,949.2 839,934.6 840,930C841,925.4 841.9,920.4 842.9,920.4C843.8,920.4 844.8,920.4 845.8,920.4C846.7,920.4 847.7,926.2 848.7,926.2C849.5,926.2 850.3,923.4 851.2,920.4C852.2,916.5 853.3,903.2 854.4,891.5C855.4,881.3 856.3,861 857.3,853.1C858.3,845.1 859.2,837.1 860.2,835.8C861,834.7 861.9,833.8 862.7,833.8C863.6,833.8 864.5,841.5 865.4,843.5C866.2,845.2 867.1,847.3 867.9,847.3C868.8,847.3 869.8,831.7 870.8,824.2C872.1,814.3 873.3,805 874.6,795.4C875.9,785.8 877.2,772.3 878.5,766.5C879.4,762.2 880.4,758.8 881.3,756.9C882.3,755.1 883.3,753.1 884.2,753.1C885.2,753.1 886.2,760.9 887.1,766.5C888.1,772.2 889,787 890,789.6C890.8,791.7 891.5,793.5 892.3,793.5C893.3,793.5 894.4,775.9 895.4,770.4C896.5,764.6 897.6,759.1 898.7,756.9C899.6,755 900.6,753.1 901.5,753.1C902.5,753.1 903.5,755.8 904.4,758.8C905.4,761.9 906.3,772.3 907.3,781.9C908.3,791.5 909.2,812.2 910.2,820.4C911.3,830.2 912.5,841.5 913.7,841.5C914.6,841.5 915.6,824.9 916.5,814.6C917.3,806.4 918.1,792.1 918.8,785.8C919.8,777.9 920.8,768.5 921.7,768.5C922.6,768.5 923.4,777.1 924.2,785.8C925,793.8 925.8,816.9 926.5,833.8C927.5,855 928.5,882.5 929.4,901.2C930.4,919.9 931.3,937.2 932.3,949.2C933.3,961.2 934.2,973.3 935.2,978.1C936.2,982.9 937.1,987.7 938.1,987.7C939,987.7 940,985.2 941,981.9C941.9,978.7 942.9,963.5 943.8,949.2C944.6,937.8 945.4,919.2 946.2,901.2C947,881.6 947.8,860 948.7,833.8C949.4,809.7 950.2,772.9 951,747.3C951.6,726 952.2,704.2 952.9,689.6C953.6,673.6 954.3,651.2 955,651.2C955.8,651.2 956.5,665.6 957.3,680C957.9,692 958.6,723.4 959.2,747.3C959.9,771.2 960.5,802.3 961.2,824.2C961.8,846.2 962.4,867.9 963.1,881.9C964,902.9 965,918 966,930C966.9,942 967.9,954 968.8,958.8C969.8,963.7 970.8,968.5 971.7,968.5C972.8,968.5 973.8,959.5 974.8,949.2C975.6,940.9 976.5,911.5 977.3,891.5C978.1,873.1 978.8,851.3 979.6,833.8C980.4,816.4 981.2,793.1 981.9,785.8C982.8,777.8 983.6,770.4 984.4,770.4C985.4,770.4 986.3,789.2 987.3,805C988.1,817.6 988.8,848.9 989.6,862.7C990.4,877.6 991.3,897.3 992.1,897.3C992.9,897.3 993.8,894.6 994.6,891.5C995.4,888.7 996.2,877.7 996.9,872.3C997.9,865.6 998.8,859.1 999.8,855C1000.8,850.9 1001.7,846.3 1002.7,845.4C1003.8,844.3 1005,843.5 1006.2,843.5C1007.1,843.5 1007.9,849.5 1008.8,855C1009.7,860.1 1010.5,870.4 1011.3,881.9C1012.2,893.4 1013,919.5 1013.8,930C1014.7,941.3 1015.6,950 1016.5,955C1017.7,961.4 1018.8,964.5 1020,968.5C1021.3,972.8 1022.6,976.9 1023.8,980C1025.4,983.9 1027.1,987.8 1028.7,989.6C1030.3,991.4 1031.9,992.7 1033.5,993.5C1034.4,993.9 1035.4,994.4 1036.3,994.4C1052.1,994.4 1067.8,994.4 1083.5,994.4C1085.1,994.4 1086.7,988.4 1088.3,983.8C1089.9,979.3 1091.5,972.1 1093.1,964.6C1094.4,958.6 1095.6,947.5 1096.9,943.5C1098.1,939.8 1099.2,935.8 1100.4,935.8C1101.5,935.8 1102.6,939.6 1103.7,943.5C1104.6,946.8 1105.6,957.2 1106.5,962.7C1107.8,970.1 1109.1,978.2 1110.4,981.9C1112,986.6 1113.6,991.5 1115.2,991.5C1116.5,991.5 1117.8,988 1119,983.8C1120.3,979.7 1121.6,964.4 1122.9,949.2C1123.8,937.8 1124.8,913.2 1125.8,901.2C1126.7,889.1 1127.7,876.6 1128.7,872.3C1129.3,869.5 1129.9,866.5 1130.6,866.5C1131.5,866.5 1132.5,875.2 1133.5,881.9C1134.4,888.6 1135.4,903.1 1136.3,910.8C1137.3,918.5 1138.3,926.4 1139.2,930C1140.5,934.8 1141.8,935.9 1143.1,939.6C1144,942.4 1145,947.2 1146,949.2C1147.2,951.9 1148.5,955 1149.8,955C1150.8,955 1151.7,952.6 1152.7,949.2C1153.7,945.6 1154.7,919.2 1155.8,901.2C1156.7,884.3 1157.7,856.3 1158.7,843.5C1159.6,830.6 1160.6,819.7 1161.5,814.6C1162.8,807.8 1164.1,801.2 1165.4,801.2C1166.3,801.2 1167.3,808.2 1168.3,814.6C1169.1,820.2 1169.9,831.1 1170.8,843.5C1171.4,853 1172.1,870.2 1172.7,881.9C1173.5,895.9 1174.2,910.7 1175,920.4C1176,932.5 1176.9,939.6 1177.9,949.2C1178.8,958.8 1179.8,974.9 1180.8,978.1C1181.7,981.3 1182.7,983.8 1183.7,983.8C1184.6,983.8 1185.6,976.2 1186.5,968.5C1187.5,960.7 1188.5,933.8 1189.4,920.4C1190.4,907 1191.3,890 1192.3,885.8C1193.3,881.6 1194.2,878.1 1195.2,878.1C1196.2,878.1 1197.1,885.4 1198.1,891.5C1199,897.7 1200,913.7 1201,920.4C1201.9,927.1 1202.9,935.8 1203.8,935.8C1204.8,935.8 1205.8,927.1 1206.7,920.4C1207.7,913.7 1208.7,897.7 1209.6,891.5C1210.6,885.4 1211.5,878.1 1212.5,878.1C1213.5,878.1 1214.4,881.8 1215.4,885.8C1216.3,889.7 1217.3,901.8 1218.3,910.8C1219.2,919.7 1220.2,936 1221.2,939.6C1221.7,941.5 1222.2,943.5 1222.7,943.5C1223.5,943.5 1224.2,929.1 1225,920.4C1226,909.5 1226.9,892.9 1227.9,881.9C1228.8,870.9 1229.8,859.8 1230.8,853.1C1231.7,846.4 1232.7,837.7 1233.7,837.7C1234.6,837.7 1235.6,845.2 1236.5,853.1C1237.3,859.4 1238.1,881 1238.8,891.5C1239.7,902.9 1240.5,914.3 1241.3,920.4C1242.3,927.5 1243.3,935.8 1244.2,935.8C1245.2,935.8 1246.2,926.1 1247.1,920.4C1248.1,914.7 1249,904.1 1250,901.2C1251,898.2 1251.9,895.4 1252.9,895.4C1253.8,895.4 1254.8,896.7 1255.8,897.3C1256.7,897.9 1257.7,899.2 1258.7,899.2C1259.6,899.2 1260.6,892.1 1261.5,885.8C1262.5,879.4 1263.5,864.9 1264.4,853.1C1265.4,841.3 1266.3,827.4 1267.3,814.6C1268.3,801.8 1269.2,783.8 1270.2,776.2C1271.5,766 1272.8,755 1274,755C1275,755 1276,774.4 1276.9,785.8C1277.9,797.2 1278.8,812.4 1279.8,824.2C1280.6,834.5 1281.5,846.6 1282.3,853.1C1283.1,859 1283.8,866.5 1284.6,866.5C1285.4,866.5 1286.2,855.6 1286.9,853.1C1287.8,850.3 1288.6,847.3 1289.4,847.3C1290.3,847.3 1291.1,853.9 1291.9,858.8C1292.8,864.2 1293.7,873.9 1294.6,881.9C1295.6,891.1 1296.7,903.3 1297.7,910.8C1298.8,918.7 1299.9,930 1301,930C1301.9,930 1302.9,925.2 1303.8,920.4C1304.8,915.6 1305.8,900.5 1306.7,891.5C1307.7,882.6 1308.7,872.3 1309.6,866.5C1310.9,858.8 1312.2,849.2 1313.5,849.2C1314.4,849.2 1315.4,854.3 1316.3,858.8C1317.3,863.4 1318.3,874.2 1319.2,881.9" fill="none" stroke="#ff1a1a" stroke-width="2.3" stroke-linejoin="round"/>
<path d="M800.6,991.5C801.5,985.8 802.5,981 803.5,974.2C804.4,967.4 805.4,959.3 806.3,949.2C807.3,939.1 808.3,923.6 809.2,910.8C810.2,897.9 811.2,885.1 812.1,872.3C813.1,859.5 814,846.7 815,833.8C816,821 816.9,803.9 817.9,795.4C818.8,786.8 819.8,776.2 820.8,776.2C821.7,776.2 822.7,786.8 823.7,795.4C824.6,803.9 825.6,821 826.5,833.8C827.5,846.7 828.5,858.5 829.4,872.3C830.3,884.2 831.1,903.1 831.9,910.8C832.7,917.9 833.5,926.2 834.2,926.2C835.2,926.2 836.2,923.6 837.1,920.4C838.1,917.2 839,901.6 840,891.5C840.8,883.5 841.5,868.4 842.3,866.5C843.3,864.2 844.2,862.7 845.2,862.7C846,862.7 846.9,870.1 847.7,872.3C848.7,874.9 849.6,878.1 850.6,878.1C851.5,878.1 852.5,869.4 853.5,862.7C854.4,856 855.4,842.6 856.3,833.8C857.2,826.2 858,814.5 858.8,812.7C859.6,811 860.4,809.8 861.2,809.8C862.1,809.8 863.1,816.2 864,818.5C865,820.8 866,824.2 866.9,824.2C867.9,824.2 868.8,813.5 869.8,805C870.8,796.5 871.7,779.4 872.7,766.5C873.7,753.7 874.6,739.1 875.6,728.1C876.5,717.1 877.5,706.2 878.5,699.2C879.2,693.6 880,688.3 880.8,685.8C881.6,683 882.4,680 883.3,680C884.1,680 884.9,687.8 885.8,693.5C886.5,698.7 887.3,709.8 888.1,714.6C889,720.6 890,728.1 891,728.1C891.9,728.1 892.9,718 893.8,708.8C894.8,699.7 895.8,673.7 896.7,660.8C897.7,647.8 898.7,633.7 899.6,628.1C900.8,621.3 901.9,614.6 903.1,614.6C904,614.6 904.9,621.5 905.8,628.1C906.6,634.1 907.4,648.6 908.3,660.8C909.2,674.8 910.2,695.9 911.2,708.8C912.1,721.8 913.1,741.5 914,741.5C915,741.5 916,727 916.9,718.5C917.9,709.9 918.8,697.1 919.8,689.6C920.8,682.2 921.7,671.3 922.7,671.3C923.7,671.3 924.6,680.3 925.6,689.6C926.4,697.7 927.2,719.5 928.1,737.7C928.8,754.4 929.6,779.9 930.4,795.4C931.3,814.8 932.3,828.1 933.3,843.5C934.1,856.8 934.9,876.8 935.8,881.9C936.4,885.9 937.1,889.6 937.7,889.6C938.5,889.6 939.2,884.5 940,881.9C941,878.7 941.9,874.9 942.9,872.3C943.7,870 944.6,869.7 945.4,866.5C946.2,863.6 946.9,856 947.7,843.5C948.3,833 949,792.2 949.6,766.5C950.3,740.9 950.9,709.3 951.5,689.6C952.2,669.9 952.8,650.7 953.5,641.5C954.1,632.4 954.7,622.3 955.4,622.3C956.2,622.3 957.1,631.3 957.9,641.5C958.7,651 959.4,682.8 960.2,708.8C960.8,730.6 961.5,763.8 962.1,785.8C962.8,807.7 963.4,826 964,843.5C964.7,860.9 965.3,877.3 966,891.5C966.6,905.8 967.2,920.1 967.9,930C968.7,942.8 969.6,960.8 970.4,960.8C971.2,960.8 971.9,960 972.7,958.8C973.4,957.8 974.1,949.5 974.8,939.6C975.4,930.6 976.1,901.2 976.7,881.9C977.4,862.7 978,843.5 978.7,824.2C979.3,805 979.9,784 980.6,766.5C981.2,749.1 981.9,726 982.5,718.5C983.5,707.1 984.4,697.3 985.4,697.3C986.3,697.3 987.3,708.8 988.3,718.5C989.1,726.8 989.9,745.4 990.8,756.9C991.5,767.5 992.3,781 993.1,785.8C994,791.7 995,794.2 996,797.3C996.9,800.4 997.9,801.7 998.8,805C999.8,808.3 1000.8,818 1001.7,818.5C1003,819.1 1004.3,819.1 1005.6,819.4C1006.5,819.7 1007.5,819.8 1008.5,820.4C1009.4,821 1010.4,833.8 1011.3,843.5C1012.3,853.1 1013.3,870.9 1014.2,881.9C1015.2,892.9 1016.2,902.2 1017.1,910.8C1018.1,919.3 1019,927.5 1020,933.8C1021.3,942.3 1022.6,948.3 1023.8,955C1025.1,961.7 1026.4,969.4 1027.7,974.2C1029,979 1030.3,982.7 1031.5,985.8C1032.8,988.8 1034.1,993.5 1035.4,993.5C1051.4,993.5 1067.4,993.5 1083.5,993.5C1084.7,993.5 1086,987.1 1087.3,981.9C1088.6,976.8 1089.9,967.4 1091.2,958.8C1092.4,950.3 1093.7,938.2 1095,930C1096.2,922.7 1097.3,914.3 1098.5,910.8C1099.4,908 1100.3,905 1101.2,905C1102.2,905 1103.2,911.1 1104.2,916.5C1105.1,921.3 1106,932 1106.9,939.6C1108.1,949.4 1109.2,961.2 1110.4,968.5C1111.7,976.5 1112.9,985.1 1114.2,987.7C1115.2,989.7 1116.2,991.5 1117.1,991.5C1118.1,991.5 1119,984.7 1120,978.1C1121,971.4 1121.9,956 1122.9,939.6C1123.7,925.4 1124.6,898 1125.4,881.9C1126.2,867.1 1126.9,848.5 1127.7,843.5C1128.7,837.1 1129.6,831.9 1130.6,831.9C1131.5,831.9 1132.5,844.9 1133.5,853.1C1134.4,861.2 1135.4,875.2 1136.3,881.9C1137.3,888.6 1138.3,894.4 1139.2,897.3C1140.5,901.1 1141.8,901.5 1143.1,905C1144,907.6 1145,911.9 1146,916.5C1146.9,921.2 1147.9,931 1148.8,933.8C1149.8,936.7 1150.8,939.6 1151.7,939.6C1152.8,939.6 1153.8,923.1 1154.8,910.8C1155.8,899.2 1156.7,881.4 1157.7,862.7C1158.7,844 1159.6,816.1 1160.6,795.4C1161.5,774.7 1162.5,751.6 1163.5,737.7C1164.4,723.8 1165.4,710.8 1166.3,705C1167.1,700.4 1167.9,695.4 1168.7,695.4C1169.5,695.4 1170.3,707 1171.2,718.5C1171.8,727.3 1172.4,749.1 1173.1,766.5C1173.7,784 1174.4,806.7 1175,824.2C1175.6,841.7 1176.3,858.1 1176.9,872.3C1177.6,886.6 1178.2,899.1 1178.8,910.8C1179.6,924.8 1180.4,941.1 1181.2,949.2C1182,958 1182.8,965.9 1183.7,968.5C1184.3,970.4 1184.9,972.3 1185.6,972.3C1186.2,972.3 1186.9,958.8 1187.5,949.2C1188.1,939.6 1188.8,923.3 1189.4,910.8C1190.3,894.4 1191.1,875.3 1191.9,862.7C1192.7,851.1 1193.5,842.4 1194.2,833.8C1195.2,823.1 1196.2,808.7 1197.1,805C1198.2,800.8 1199.3,799.4 1200.4,797.3C1201.5,795.1 1202.7,794.8 1203.8,791.5C1204.8,788.8 1205.8,773.9 1206.7,766.5C1207.8,758.2 1208.9,744.4 1210,744.4C1211,744.4 1212.1,750.8 1213.1,756.9C1214,762.3 1214.9,775.4 1215.8,785.8C1216.8,797.6 1217.8,809.5 1218.8,824.2C1219.6,835.3 1220.4,854.5 1221.2,862.7C1221.8,869.5 1222.4,878.1 1223.1,878.1C1224,878.1 1225,864.7 1226,853.1C1226.9,841.4 1227.9,810.8 1228.8,795.4C1229.8,780 1230.8,761.7 1231.7,756.9C1232.6,752.8 1233.4,749.2 1234.2,749.2C1235,749.2 1235.8,758.6 1236.5,766.5C1237.3,774.5 1238.1,793.4 1238.8,805C1239.7,817.6 1240.5,833.2 1241.3,839.6C1242.2,846.1 1243,853.1 1243.8,853.1C1244.6,853.1 1245.4,841.7 1246.2,833.8C1247.1,824.1 1248.1,799.7 1249,795.4C1250,791.1 1251,787.7 1251.9,787.7C1252.9,787.7 1253.8,795.9 1254.8,801.2C1255.8,806.4 1256.7,816.7 1257.7,820.4C1258.7,824 1259.6,828.1 1260.6,828.1C1261.5,828.1 1262.5,814.6 1263.5,805C1264.4,795.4 1265.4,779.4 1266.3,766.5C1267.3,753.7 1268.3,736.6 1269.2,728.1C1270.2,719.5 1271.2,712.9 1272.1,708.8C1272.9,705.4 1273.8,701.2 1274.6,701.2C1275.4,701.2 1276.2,710 1276.9,718.5C1277.7,726.9 1278.5,749.8 1279.2,766.5C1279.9,781.9 1280.6,806.6 1281.3,814.6C1281.9,821.2 1282.5,828.1 1283.1,828.1C1283.9,828.1 1284.7,804.8 1285.6,795.4C1286.4,785.9 1287.2,774.1 1288.1,770.4C1288.7,767.5 1289.4,764.6 1290,764.6C1290.8,764.6 1291.5,771.8 1292.3,776.2C1293.3,781.6 1294.2,789 1295.2,795.4C1296.2,801.8 1297.1,809.7 1298.1,814.6C1299.4,821.1 1300.6,830 1301.9,830C1302.9,830 1303.8,821.3 1304.8,814.6C1305.8,807.9 1306.7,793.5 1307.7,785.8C1308.7,778.1 1309.6,770.2 1310.6,766.5C1311.5,762.9 1312.5,758.8 1313.5,758.8C1314.2,758.8 1315,768.4 1315.8,776.2C1316.6,784.5 1317.4,801.1 1318.3,814.6C1318.9,825 1319.6,836.4 1320.2,847.3" fill="none" stroke="#1c1c1c" stroke-width="2.5" stroke-linejoin="round"/>
<polygon points="792.2,567.3 1328,563 1327.8,1003.3 792.2,1003.3" fill="none" stroke="#000" stroke-width="3.9"/>
<rect x="1017.8" y="621.8" width="20.3" height="7" fill="#ff0000"/>
<rect x="1017.8" y="655.5" width="20.3" height="7" fill="#62a844"/>
<rect x="1017.8" y="689.4" width="20.3" height="7" fill="#000000"/>
<text x="1046.5" y="632.7" font-size="29.8">Acceptor</text>
<text x="1048" y="663.2" font-size="29.8"><tspan font-style="italic">&#960;</tspan><tspan font-weight="normal">-</tspan>spacer</text>
<text x="1048.5" y="702.6" font-size="29.8">Total</text>
<text transform="translate(718.5,782.5) rotate(-90)" font-size="30.7" text-anchor="middle">Relative Intensity</text>
<text x="991.4" y="1098.5" font-size="29.8">Energy <tspan font-weight="normal">(</tspan><tspan font-style="italic">eV</tspan><tspan font-weight="normal">)</tspan></text>
<text x="1035" y="1152" font-size="31.9">TTB3</text>
<line x1="84.5" y1="1585.6" x2="94.5" y2="1585.6" stroke="#555" stroke-width="1.6"/>
<text x="75.5" y="1594.5" font-size="27" text-anchor="end">0</text>
<line x1="88" y1="1569.8" x2="94.5" y2="1569.8" stroke="#333" stroke-width="1.6"/>
<line x1="88" y1="1554.1" x2="94.5" y2="1554.1" stroke="#333" stroke-width="1.6"/>
<line x1="88" y1="1538.3" x2="94.5" y2="1538.3" stroke="#333" stroke-width="1.6"/>
<line x1="88" y1="1522.6" x2="94.5" y2="1522.6" stroke="#333" stroke-width="1.6"/>
<line x1="84.5" y1="1506.8" x2="94.5" y2="1506.8" stroke="#555" stroke-width="1.6"/>
<text x="75.5" y="1515.7" font-size="27" text-anchor="end">5</text>
<line x1="88" y1="1491" x2="94.5" y2="1491" stroke="#333" stroke-width="1.6"/>
<line x1="88" y1="1475.3" x2="94.5" y2="1475.3" stroke="#333" stroke-width="1.6"/>
<line x1="88" y1="1459.5" x2="94.5" y2="1459.5" stroke="#333" stroke-width="1.6"/>
<line x1="88" y1="1443.8" x2="94.5" y2="1443.8" stroke="#333" stroke-width="1.6"/>
<line x1="84.5" y1="1428" x2="94.5" y2="1428" stroke="#555" stroke-width="1.6"/>
<text x="77" y="1436.9" font-size="27" text-anchor="end">10</text>
<line x1="88" y1="1412.2" x2="94.5" y2="1412.2" stroke="#333" stroke-width="1.6"/>
<line x1="88" y1="1396.5" x2="94.5" y2="1396.5" stroke="#333" stroke-width="1.6"/>
<line x1="88" y1="1380.7" x2="94.5" y2="1380.7" stroke="#333" stroke-width="1.6"/>
<line x1="88" y1="1365" x2="94.5" y2="1365" stroke="#333" stroke-width="1.6"/>
<line x1="84.5" y1="1349.2" x2="94.5" y2="1349.2" stroke="#555" stroke-width="1.6"/>
<text x="77" y="1358.1" font-size="27" text-anchor="end">15</text>
<line x1="88" y1="1333.4" x2="94.5" y2="1333.4" stroke="#333" stroke-width="1.6"/>
<line x1="88" y1="1317.7" x2="94.5" y2="1317.7" stroke="#333" stroke-width="1.6"/>
<line x1="88" y1="1301.9" x2="94.5" y2="1301.9" stroke="#333" stroke-width="1.6"/>
<line x1="88" y1="1286.2" x2="94.5" y2="1286.2" stroke="#333" stroke-width="1.6"/>
<line x1="84.5" y1="1270.4" x2="94.5" y2="1270.4" stroke="#555" stroke-width="1.6"/>
<text x="77" y="1279.3" font-size="27" text-anchor="end">20</text>
<line x1="88" y1="1254.6" x2="94.5" y2="1254.6" stroke="#333" stroke-width="1.6"/>
<line x1="88" y1="1238.9" x2="94.5" y2="1238.9" stroke="#333" stroke-width="1.6"/>
<line x1="88" y1="1223.1" x2="94.5" y2="1223.1" stroke="#333" stroke-width="1.6"/>
<line x1="88" y1="1207.4" x2="94.5" y2="1207.4" stroke="#333" stroke-width="1.6"/>
<line x1="84.5" y1="1191.6" x2="94.5" y2="1191.6" stroke="#555" stroke-width="1.6"/>
<text x="77" y="1200.5" font-size="27" text-anchor="end">25</text>
<line x1="113.9" y1="1593" x2="113.9" y2="1598.5" stroke="#444" stroke-width="1.6"/>
<line x1="136.1" y1="1593" x2="136.1" y2="1602.9" stroke="#666" stroke-width="1.6"/>
<text x="138.6" y="1637.5" font-size="27.5" text-anchor="middle">15</text>
<line x1="114.8" y1="1631.7" x2="122.3" y2="1631.7" stroke="#000" stroke-width="1.5"/>
<line x1="158.2" y1="1593" x2="158.2" y2="1598.5" stroke="#444" stroke-width="1.6"/>
<line x1="180.4" y1="1593" x2="180.4" y2="1598.5" stroke="#444" stroke-width="1.6"/>
<line x1="202.5" y1="1593" x2="202.5" y2="1598.5" stroke="#444" stroke-width="1.6"/>
<line x1="224.7" y1="1593" x2="224.7" y2="1598.5" stroke="#444" stroke-width="1.6"/>
<line x1="246.8" y1="1593" x2="246.8" y2="1602.9" stroke="#666" stroke-width="1.6"/>
<text x="249.3" y="1637.5" font-size="27.5" text-anchor="middle">10</text>
<line x1="225.6" y1="1631.7" x2="233.1" y2="1631.7" stroke="#000" stroke-width="1.5"/>
<line x1="269" y1="1593" x2="269" y2="1598.5" stroke="#444" stroke-width="1.6"/>
<line x1="291.1" y1="1593" x2="291.1" y2="1598.5" stroke="#444" stroke-width="1.6"/>
<line x1="313.2" y1="1593" x2="313.2" y2="1598.5" stroke="#444" stroke-width="1.6"/>
<line x1="335.4" y1="1593" x2="335.4" y2="1598.5" stroke="#444" stroke-width="1.6"/>
<line x1="357.6" y1="1593" x2="357.6" y2="1602.9" stroke="#666" stroke-width="1.6"/>
<text x="360.1" y="1637.5" font-size="27.5" text-anchor="middle">5</text>
<line x1="343.2" y1="1631.7" x2="350.7" y2="1631.7" stroke="#000" stroke-width="1.5"/>
<line x1="379.7" y1="1593" x2="379.7" y2="1598.5" stroke="#444" stroke-width="1.6"/>
<line x1="401.9" y1="1593" x2="401.9" y2="1598.5" stroke="#444" stroke-width="1.6"/>
<line x1="424" y1="1593" x2="424" y2="1598.5" stroke="#444" stroke-width="1.6"/>
<line x1="446.2" y1="1593" x2="446.2" y2="1598.5" stroke="#444" stroke-width="1.6"/>
<line x1="468.3" y1="1593" x2="468.3" y2="1602.9" stroke="#666" stroke-width="1.6"/>
<text x="470.8" y="1637.5" font-size="27.5" text-anchor="middle">0</text>
<line x1="490.4" y1="1593" x2="490.4" y2="1598.5" stroke="#444" stroke-width="1.6"/>
<line x1="512.6" y1="1593" x2="512.6" y2="1598.5" stroke="#444" stroke-width="1.6"/>
<line x1="534.8" y1="1593" x2="534.8" y2="1598.5" stroke="#444" stroke-width="1.6"/>
<line x1="556.9" y1="1593" x2="556.9" y2="1598.5" stroke="#444" stroke-width="1.6"/>
<line x1="579" y1="1593" x2="579" y2="1602.9" stroke="#666" stroke-width="1.6"/>
<text x="581.5" y="1637.5" font-size="27.5" text-anchor="middle">5</text>
<line x1="601.2" y1="1593" x2="601.2" y2="1598.5" stroke="#444" stroke-width="1.6"/>
<path d="M101.2,1578.8C102.4,1577.1 103.6,1574.7 104.8,1573.5C106.3,1571.9 107.8,1571.1 109.3,1569.9C110.8,1568.7 112.2,1568.1 113.7,1566.3C114.8,1565 115.9,1562 117,1559.1C118,1556.3 119,1551.4 120,1548.3C120.9,1545.6 121.8,1542.1 122.7,1541.2C123.6,1540.2 124.5,1539.4 125.4,1539.4C126.3,1539.4 127.2,1544.8 128.1,1548.3C129,1551.8 129.9,1558.4 130.8,1560.9C131.7,1563.4 132.6,1565.4 133.5,1566.3C134.4,1567.2 135.3,1568.1 136.2,1568.1C137.1,1568.1 138,1563.9 138.9,1562.7C140.1,1561.1 141.3,1559.1 142.5,1559.1C143.4,1559.1 144.3,1559.1 145.2,1559.1C146.6,1559.1 148.1,1561.3 149.6,1562.7C151.1,1564.1 152.6,1566.6 154.1,1568.1C155.6,1569.5 157.1,1570.9 158.6,1571.7C160.1,1572.5 161.6,1573.5 163.1,1573.5C164,1573.5 164.9,1573.5 165.8,1573.5C167,1573.5 168.2,1568 169.4,1564.5C170.6,1561 171.8,1554.6 173,1551.9C174.1,1549.5 175.1,1547.7 176.2,1546.5C176.9,1545.8 177.6,1544.7 178.4,1544.7C179.3,1544.7 180.2,1548.3 181.1,1550.1C181.9,1551.9 182.8,1554.8 183.7,1555.5C184.9,1556.5 186.1,1557.3 187.3,1557.3C188.5,1557.3 189.7,1555.9 190.9,1553.7C191.8,1552.1 192.7,1539.5 193.6,1534C194.5,1528.4 195.4,1523.3 196.3,1519.6C197.2,1515.9 198.1,1512.6 199,1510.6C199.9,1508.6 200.8,1506.2 201.7,1506.2C202.6,1506.2 203.5,1509.5 204.4,1512.4C205.3,1515.3 206.2,1523.6 207.1,1526.8C208,1530 208.9,1532.4 209.8,1534C210.7,1535.6 211.6,1537.6 212.5,1537.6C213.7,1537.6 214.9,1536.6 216.1,1535.8C217.2,1535 218.4,1533.3 219.6,1532.2C220.7,1531.2 221.8,1529.5 222.9,1529.5C223.9,1529.5 224.9,1533.4 225.9,1535.8C226.8,1537.9 227.7,1542.1 228.6,1542.9C229.7,1544 230.8,1544.7 231.8,1544.7C233,1544.7 234.2,1539.3 235.4,1537.6C236.5,1536.1 237.5,1534 238.5,1534C239.5,1534 240.5,1543.7 241.5,1548.3C242.6,1553.3 243.7,1560.3 244.8,1562.7C246,1565.4 247.2,1568.1 248.4,1568.1C249.6,1568.1 250.8,1566.9 251.9,1566.3C253,1565.7 254.1,1564.5 255.2,1564.5C256.2,1564.5 257.2,1568 258.2,1569.9C259.4,1572.1 260.6,1576.2 261.8,1577.1C263.3,1578.1 264.8,1578.8 266.3,1578.8C267.7,1578.8 269.2,1578.8 270.6,1578.8C271.8,1578.8 273,1573.9 274.2,1569.9C275.4,1565.9 276.6,1557.9 277.8,1551.9C279,1545.9 280.2,1536.7 281.4,1534C282.6,1531.2 283.8,1529.5 284.9,1528.6C286.1,1527.7 287.3,1526.8 288.5,1526.8C289.4,1526.8 290.3,1528.5 291.2,1530.4C292.1,1532.2 293,1538 293.9,1542.9C294.8,1547.9 295.7,1556.4 296.6,1560.9C297.5,1565.4 298.4,1570.5 299.3,1571.7C300.5,1573.2 301.7,1574.4 302.9,1574.4C304.1,1574.4 305.3,1571.2 306.5,1569.9C307.7,1568.5 308.9,1566.8 310.1,1566.3C311.2,1565.8 312.2,1565.4 313.3,1565.4C314.6,1565.4 315.9,1568.1 317.3,1569.9C318.8,1571.9 320.2,1575 321.7,1577.1C323.2,1579.1 324.7,1581.1 326.2,1582.4C328,1584 329.8,1586 331.6,1586C347.2,1586 362.7,1586 378.3,1586C379.8,1586 381.3,1583.9 382.8,1582.4C384.3,1581 385.8,1578.4 387.3,1577.1C388.5,1576 389.6,1574.9 390.8,1574.4C391.7,1574 392.6,1573.5 393.5,1573.5C394.7,1573.5 395.9,1575 397.1,1576.2C398.3,1577.3 399.5,1579.7 400.7,1580.6C402.2,1581.9 403.7,1583 405.2,1583.3C406.4,1583.6 407.6,1583.9 408.8,1583.9C410,1583.9 411.2,1583.1 412.4,1582.4C413.6,1581.8 414.8,1580.1 416,1578.8C417.5,1577.2 419,1574.7 420.5,1573.5C422,1572.3 423.5,1571.2 424.9,1570.8C426.4,1570.3 427.9,1569.9 429.4,1569.9C430.9,1569.9 432.4,1569.9 433.9,1569.9C435.4,1569.9 436.9,1569.9 438.4,1569.9C439.6,1569.9 440.8,1570.6 442,1571.7C442.5,1572.1 443.1,1574.5 443.6,1575.3C444.8,1577 446,1578.8 447.2,1578.8C448.4,1578.8 449.6,1576.2 450.8,1573.5C452,1570.7 453.2,1562 454.4,1555.5C455.6,1549 456.8,1538.8 457.9,1534C459.1,1529.2 460.3,1525 461.5,1523.2C462.7,1521.4 463.9,1519.6 465.1,1519.6C466,1519.6 466.9,1519.6 467.8,1519.6C468.7,1519.6 469.6,1526.1 470.5,1530.4C471.4,1534.7 472.3,1541.4 473.2,1546.5C474.4,1553.4 475.6,1561.6 476.8,1566.3C478,1570.9 479.2,1575.8 480.4,1577.1C481.3,1578 482.2,1578.8 483.1,1578.8C484,1578.8 484.9,1573.9 485.8,1569.9C486.7,1565.9 487.6,1557.1 488.5,1551.9C489.7,1545 490.9,1538.9 492.1,1534C493.2,1529 494.4,1523.3 495.6,1521.4C496.8,1519.5 498,1517.8 499.2,1517.8C500.7,1517.8 502.2,1519 503.7,1519.6C505.2,1520.2 506.7,1520.5 508.2,1521.4C509.4,1522.1 510.6,1523 511.8,1525C512.7,1526.5 513.6,1533.1 514.5,1537.6C515.4,1542 516.3,1548.2 517.2,1551.9C518.1,1555.6 519,1559.9 519.9,1560.9C520.8,1561.9 521.7,1562.7 522.6,1562.7C523.5,1562.7 524.4,1558.6 525.3,1555.5C526.2,1552.5 527.1,1546.4 527.9,1542.9C528.8,1539.5 529.7,1535 530.6,1534C531.5,1533 532.4,1532.5 533.3,1532.2C534.8,1531.7 536.3,1531.3 537.8,1531.3C539.3,1531.3 540.8,1531.3 542.3,1531.3C543.8,1531.3 545.3,1531.3 546.8,1531.3C548,1531.3 549.2,1534.1 550.4,1535.8C551.9,1537.9 553.4,1540 554.9,1542.9C556.1,1545.3 557.3,1549.3 558.5,1551.9C559.7,1554.6 560.9,1557.1 562.1,1559.1C563.2,1561.2 564.4,1563.9 565.6,1564.5C566.5,1565 567.4,1565.4 568.3,1565.4C569.5,1565.4 570.7,1561.4 571.9,1560.9C573.1,1560.4 574.3,1560 575.5,1560C576.7,1560 577.9,1560.6 579.1,1560.9C580.3,1561.2 581.5,1561.8 582.7,1561.8C583.9,1561.8 585.1,1553.6 586.3,1548.3C587.2,1544.3 588.1,1536.6 589,1534C589.9,1531.4 590.8,1529.2 591.7,1528.6C592.4,1528.1 593.2,1527.7 594,1527.7C595,1527.7 596,1530.5 597.1,1532.2C597.9,1533.7 598.8,1536.3 599.7,1537.6C600.9,1539.2 602.1,1539.5 603.3,1541.2C604.2,1542.4 605.1,1544.6 606,1546.5C607.2,1549.2 608.4,1552.5 609.6,1555.5" fill="none" stroke="#1f8f1f" stroke-width="2.2" stroke-linejoin="round"/>
<path d="M101.2,1580.6C102.4,1580 103.6,1578.8 104.8,1578.8C106.3,1578.8 107.8,1579.7 109.3,1579.7C110.5,1579.7 111.6,1579.7 112.8,1579.7C113.7,1579.7 114.6,1576.3 115.5,1573.5C116.4,1570.7 117.3,1565.4 118.2,1560.9C119.1,1556.4 120,1551 120.9,1546.5C121.8,1542.1 122.7,1535.1 123.6,1534C124.4,1533 125.2,1532.2 125.9,1532.2C126.8,1532.2 127.6,1535.1 128.5,1537.6C129.2,1539.9 130,1545.1 130.8,1548.3C131.6,1551.6 132.4,1557.3 133.1,1557.3C133.8,1557.3 134.6,1557.3 135.3,1557.3C136.2,1557.3 137.1,1542.3 138,1534C138.9,1525.6 139.8,1516 140.7,1507.1C141.6,1498.1 142.5,1488.5 143.4,1480.1C144.3,1471.8 145.2,1464.3 146.1,1456.8C146.9,1449.3 147.8,1443.2 148.7,1435.3C149.6,1427.3 150.5,1417.3 151.4,1408.3C152.3,1399.4 153.2,1391 154.1,1381.4C154.9,1373.1 155.7,1359.1 156.5,1354.5C156.9,1352 157.3,1349.1 157.7,1349.1C158.5,1349.1 159.3,1357.7 160.1,1365.3C160.8,1372.2 161.5,1388.3 162.2,1399.4C162.9,1410.4 163.6,1425.9 164.4,1431.7C165.1,1437.9 165.9,1444.2 166.7,1444.2C167.5,1444.2 168.2,1436.2 169,1429.9C169.9,1423.1 170.7,1410.7 171.5,1399.4C172.3,1388.8 173.1,1372.9 173.9,1363.5C174.8,1352.5 175.7,1345.2 176.6,1336.5C177.5,1327.9 178.4,1316.1 179.3,1311.4C180.3,1306.2 181.3,1300.6 182.3,1300.6C183.3,1300.6 184.2,1310.2 185.2,1318.6C186,1325.9 186.9,1342.1 187.7,1354.5C188.5,1366 189.2,1383.1 190,1390.4C190.9,1398.8 191.8,1404.3 192.7,1408.3C193.6,1412.3 194.5,1415.9 195.4,1417.3C196.6,1419.2 197.8,1420.9 199,1420.9C199.9,1420.9 200.8,1414.5 201.7,1408.3C202.4,1403.4 203.1,1390 203.8,1381.4C204.6,1372.1 205.4,1358.3 206.2,1354.5C207,1350.7 207.7,1347.3 208.5,1347.3C209.2,1347.3 209.9,1356 210.7,1363.5C211.4,1370.9 212.1,1387.9 212.8,1399.4C213.6,1411.8 214.4,1424.1 215.2,1435.3C216.1,1448.1 216.9,1459.2 217.8,1471.2C218.7,1483.1 219.6,1496.8 220.5,1507.1C221.4,1517.3 222.3,1525 223.2,1534C224.1,1542.9 225,1556.1 225.9,1560.9C227.1,1567.2 228.3,1570.8 229.5,1573.5C231,1576.8 232.5,1579.8 234,1580.6C235.8,1581.7 237.6,1582.4 239.4,1582.4C241.2,1582.4 243,1582.4 244.8,1582.4C246,1582.4 247.2,1579.4 248.4,1577.1C249.4,1574.9 250.5,1569.9 251.6,1568.1C252.6,1566.4 253.6,1564.5 254.6,1564.5C255.7,1564.5 256.7,1565.5 257.7,1566.3C258.8,1567.1 259.8,1569.1 260.9,1569.9C262.1,1570.7 263.3,1571.7 264.5,1571.7C265.4,1571.7 266.3,1565.4 267.2,1560.9C268.1,1556.4 269,1550.4 269.9,1542.9C270.7,1536.1 271.6,1526.9 272.4,1516C273.3,1504.3 274.2,1483.3 275.1,1471.2C276,1459 276.9,1445.3 277.8,1440.6C278.7,1436 279.6,1431.7 280.5,1431.7C281.4,1431.7 282.3,1438.5 283.2,1444.2C284.1,1449.9 284.9,1462.2 285.8,1471.2C286.7,1480.1 287.6,1492 288.5,1498.1C289.7,1506.2 290.9,1509.1 292.1,1516C293,1521.2 293.9,1528 294.8,1534C295.7,1540 296.6,1546.6 297.5,1551.9C298.4,1557.2 299.3,1563.6 300.2,1566.3C301.4,1569.8 302.6,1573 303.8,1573.5C305.3,1574 306.8,1574.4 308.3,1574.4C309.8,1574.4 311.3,1574.4 312.8,1574.4C314,1574.4 315.2,1575.5 316.4,1576.2C317.9,1577 319.4,1577.8 320.8,1578.8C322.3,1579.9 323.8,1581.3 325.3,1582.4C327.1,1583.7 328.9,1586 330.7,1586C331.6,1586 332.5,1586 333.4,1586C348.4,1586 363.3,1586 378.3,1586C379.8,1586 381.3,1580.9 382.8,1577.1C384,1574 385.2,1568 386.4,1564.5C387.6,1561 388.8,1557.2 389.9,1555.5C391.1,1553.8 392.3,1551.9 393.5,1551.9C394.6,1551.9 395.6,1556.1 396.6,1559.1C397.7,1562.3 398.7,1568.4 399.8,1571.7C401,1575.3 402.2,1579.5 403.4,1580.6C404.9,1582.1 406.4,1583.3 407.9,1583.3C409.1,1583.3 410.3,1579.7 411.5,1575.3C412.4,1572 413.3,1560.3 414.2,1551.9C415.1,1543.6 416,1530.7 416.9,1525C417.8,1519.3 418.7,1513.5 419.6,1512.4C420.5,1511.4 421.4,1510.6 422.3,1510.6C423.2,1510.6 424.1,1519.7 424.9,1525C425.8,1530.3 426.7,1537.8 427.6,1542.9C428.8,1549.8 430,1556.9 431.2,1560.9C432.4,1564.9 433.6,1568.2 434.8,1569.9C436,1571.6 437.2,1572 438.4,1573.5C439.6,1574.9 440.8,1578.8 442,1578.8C442.5,1578.8 443.1,1578.8 443.6,1578.8C444.8,1578.8 446,1580.6 447.2,1580.6C448.4,1580.6 449.6,1577.4 450.8,1573.5C451.7,1570.5 452.6,1559.9 453.5,1551.9C454.4,1543.9 455.3,1529.5 456.2,1525C457.1,1520.5 457.9,1516 458.8,1516C459.6,1516 460.4,1516 461.2,1516C461.9,1516 462.6,1521.3 463.3,1525C464.2,1529.6 465.1,1537 466,1542.9C466.9,1548.9 467.8,1556.4 468.7,1560.9C469.6,1565.4 470.5,1570.2 471.4,1571.7C472.6,1573.6 473.8,1575.3 475,1575.3C476.2,1575.3 477.4,1575.3 478.6,1575.3C479.8,1575.3 481,1567.9 482.2,1560.9C483.1,1555.7 484,1539.1 484.9,1534C485.8,1528.8 486.7,1524 487.6,1523.2C488.2,1522.7 488.8,1522.3 489.4,1522.3C490.3,1522.3 491.2,1528.1 492.1,1532.2C492.9,1536.3 493.8,1542.7 494.7,1548.3C495.6,1554 496.5,1562.5 497.4,1566.3C498.6,1571.3 499.8,1575.8 501,1577.1C501.9,1578 502.8,1578.8 503.7,1578.8C504.9,1578.8 506.1,1574.3 507.3,1569.9C508.2,1566.5 509.1,1559.1 510,1551.9C510.9,1544.7 511.8,1530.7 512.7,1525C513.6,1519.3 514.5,1513.3 515.4,1512.4C516.6,1511.3 517.8,1511.3 519,1510.6C520.1,1510.1 521.1,1509.9 522.2,1508.8C523.2,1507.9 524.2,1500.7 525.3,1498.1C526.2,1495.8 527.1,1492.7 527.9,1492.7C528.8,1492.7 529.7,1498 530.6,1501.7C531.5,1505.3 532.4,1514.1 533.3,1516C534.2,1517.9 535.1,1519.6 536,1519.6C536.9,1519.6 537.8,1511.4 538.7,1507.1C539.8,1501.9 540.9,1493.5 541.9,1490.9C542.7,1489.2 543.4,1487.3 544.1,1487.3C545,1487.3 545.9,1492.1 546.8,1494.5C547.7,1496.9 548.6,1500.9 549.5,1501.7C550.7,1502.7 551.9,1502.4 553.1,1503.5C554,1504.2 554.9,1507.5 555.8,1510.6C556.7,1513.8 557.6,1520.9 558.5,1525C559.4,1529.1 560.3,1533.8 561.2,1535.8C561.9,1537.5 562.7,1539.4 563.5,1539.4C564.2,1539.4 564.9,1534.7 565.6,1530.4C566.5,1524.9 567.4,1510.6 568.3,1498.1C569.2,1485.6 570.1,1465.3 571,1453.2C571.9,1441.1 572.8,1425.1 573.7,1422.7C574.5,1420.6 575.3,1419.1 576.1,1419.1C576.8,1419.1 577.5,1424.9 578.2,1429.9C579.1,1436.1 580,1451.6 580.9,1462.2C581.7,1471.3 582.5,1485.5 583.2,1489.1C583.8,1491.9 584.4,1494.5 585,1494.5C585.7,1494.5 586.5,1479.7 587.2,1471.2C588.1,1460.5 589,1442.7 589.9,1435.3C590.8,1427.8 591.7,1420 592.6,1419.1C593,1418.6 593.5,1418.2 594,1418.2C594.7,1418.2 595.4,1424.2 596.2,1429.9C596.9,1435.6 597.6,1451.8 598.3,1462.2C599.1,1473.4 599.9,1490.2 600.6,1494.5C601.5,1499.4 602.4,1500.7 603.3,1503.5C604.4,1506.7 605.5,1508.7 606.6,1512.4C607.6,1516 608.6,1522 609.6,1526.8" fill="none" stroke="#ff1a1a" stroke-width="2.3" stroke-linejoin="round"/>
<path d="M101.2,1571.7C102.4,1570.5 103.6,1569.1 104.8,1568.1C106.3,1566.7 107.8,1565.9 109.3,1564.5C110.8,1563.1 112.2,1562 113.7,1559.1C114.6,1557.4 115.5,1553.2 116.4,1548.3C117.3,1543.4 118.2,1533.3 119.1,1525C120,1516.7 120.9,1504.3 121.8,1498.1C122.6,1492.7 123.4,1486.8 124.2,1485.5C124.8,1484.5 125.4,1483.7 125.9,1483.7C126.8,1483.7 127.6,1487.2 128.5,1490.9C129.2,1494.3 130,1505.6 130.8,1512.4C131.6,1519.3 132.4,1528.8 133.1,1532.2C134,1535.8 134.8,1539.4 135.6,1539.4C136.4,1539.4 137.2,1531.2 138,1525C138.8,1518.8 139.5,1506.7 140.3,1498.1C141.1,1488.8 142,1479 142.8,1471.2C143.9,1461 145,1452.2 146.1,1444.2C146.9,1437.6 147.8,1433.9 148.7,1426.3C149.5,1419.7 150.3,1410 151.1,1399.4C151.8,1389.5 152.5,1372.4 153.2,1363.5C153.9,1354.5 154.7,1346.7 155.4,1341.9C156,1338 156.6,1332.9 157.2,1332.9C158,1332.9 158.7,1340.6 159.5,1347.3C160.3,1354 161.1,1370.2 161.8,1381.4C162.7,1393.5 163.5,1410.8 164.4,1417.3C165.1,1423.4 165.9,1429.9 166.7,1429.9C167.5,1429.9 168.2,1422.9 169,1417.3C169.9,1411.3 170.7,1401 171.5,1390.4C172.3,1380.5 173.1,1365.6 173.9,1354.5C174.8,1341.6 175.7,1330.6 176.6,1318.6C177.5,1306.6 178.4,1291.1 179.3,1282.7C180,1275.4 180.8,1265.6 181.6,1265.6C182.4,1265.6 183.3,1270.3 184.1,1275.5C184.9,1280.4 185.7,1298.8 186.4,1309.6C187.3,1322.1 188.2,1335.7 189.1,1345.5C190,1355.4 190.9,1365.9 191.8,1370.6C192.1,1372.2 192.4,1374.2 192.7,1374.2C193.4,1374.2 194.2,1366.8 194.9,1363.5C195.8,1359 196.8,1354.6 197.7,1350.9C198.8,1346.9 199.8,1345.2 200.8,1340.1C201.7,1335.7 202.6,1325.9 203.5,1318.6C204.2,1312.7 204.9,1305.1 205.6,1300.6C206.2,1296.9 206.8,1291.7 207.4,1291.7C208.2,1291.7 209,1297.6 209.8,1304.2C210.4,1309.3 211,1325.4 211.6,1336.5C212.3,1351 213.1,1371.8 213.9,1381.4C214.9,1393.9 215.9,1398.8 216.9,1408.3C217.8,1416.8 218.7,1426.3 219.6,1435.3C220.5,1444.2 221.4,1451.2 222.3,1462.2C223.1,1471.7 223.9,1488.2 224.7,1498.1C225.5,1508.7 226.3,1519 227.2,1525C228,1530.6 228.7,1535.9 229.5,1537.6C230.4,1539.5 231.3,1541.2 232.2,1541.2C233.4,1541.2 234.6,1534.2 235.8,1532.2C236.7,1530.6 237.6,1528.6 238.5,1528.6C239.4,1528.6 240.3,1537.9 241.2,1542.9C242.1,1548 243,1557.5 243.9,1559.1C245.1,1561.2 246.3,1562.7 247.5,1562.7C248.5,1562.7 249.5,1558.5 250.5,1555.5C251.5,1552.7 252.4,1546.5 253.4,1544.7C254.4,1542.9 255.4,1541.2 256.4,1541.2C257.3,1541.2 258.2,1545.8 259.1,1548.3C260.3,1551.7 261.5,1558 262.7,1559.1C263.8,1560.1 264.9,1560.9 265.9,1560.9C267,1560.9 268,1551.6 269,1542.9C270.1,1533.3 271.3,1507.5 272.4,1489.1C273.3,1474.5 274.2,1457.5 275.1,1444.2C276,1430.9 276.9,1415.5 277.8,1408.3C278.5,1402.6 279.2,1396.8 279.9,1395.8C280.7,1394.7 281.5,1394 282.3,1394C283.2,1394 284.1,1405.2 284.9,1411.9C285.8,1418.7 286.7,1426.9 287.6,1435.3C288.5,1443.6 289.4,1453.2 290.3,1462.2C291.2,1471.2 292.1,1480.1 293,1489.1C293.9,1498.1 294.8,1507.1 295.7,1516C296.6,1525 297.5,1536.2 298.4,1542.9C299.3,1549.7 300.2,1558 301.1,1559.1C302,1560.2 302.9,1560.9 303.8,1560.9C304.7,1560.9 305.6,1558.3 306.5,1557.3C307.7,1555.9 308.9,1553.7 310.1,1553.7C311.2,1553.7 312.2,1554.6 313.3,1555.5C314.3,1556.4 315.3,1558.8 316.4,1560.9C317.6,1563.4 318.8,1567.2 319.9,1569.9C321.4,1573.2 322.9,1576.6 324.4,1578.8C325.9,1581.1 327.4,1583.3 328.9,1584.2C330.4,1585.1 331.9,1586 333.4,1586C348.4,1586 363.3,1586 378.3,1586C379.5,1586 380.7,1582.3 381.9,1578.8C383.1,1575.4 384.3,1565.8 385.5,1560.9C386.7,1556 387.9,1551.4 389.1,1548.3C390.2,1545.3 391.4,1542.7 392.6,1541.2C393.2,1540.4 393.8,1539.4 394.4,1539.4C395.3,1539.4 396.2,1544.5 397.1,1548.3C398,1552.2 398.9,1560.1 399.8,1564.5C401,1570.3 402.2,1577.2 403.4,1578.8C404.9,1580.9 406.4,1582.4 407.9,1582.4C409.1,1582.4 410.3,1576.2 411.5,1569.9C412.4,1565.1 413.3,1551.9 414.2,1542.9C415.1,1534 416,1522.3 416.9,1516C417.8,1509.8 418.7,1504.3 419.6,1501.7C420.5,1499.1 421.4,1496.3 422.3,1496.3C423.2,1496.3 424.1,1502.6 424.9,1507.1C425.8,1511.5 426.7,1519 427.6,1525C428.5,1531 429.4,1540.2 430.3,1542.9C431.2,1545.7 432.1,1547.6 433,1548.3C434.2,1549.3 435.4,1549.2 436.6,1550.1C437.6,1550.9 438.6,1552.9 439.7,1555.5C440.4,1557.5 441.2,1563.7 442,1566.3C443.7,1572 445.5,1578.8 447.2,1578.8C448.4,1578.8 449.6,1574.8 450.8,1569.9C451.7,1566.2 452.6,1554.8 453.5,1542.9C454.2,1532.6 455,1509.8 455.8,1498.1C456.5,1487.2 457.2,1474.1 457.9,1471.2C458.7,1468.2 459.4,1466.8 460.1,1465.8C460.7,1464.9 461.3,1464 461.9,1464C462.7,1464 463.5,1467.5 464.2,1471.2C465.1,1475.3 466,1489.1 466.9,1498.1C467.8,1507.1 468.7,1517.8 469.6,1525C470.5,1532.2 471.4,1537 472.3,1542.9C473.2,1548.9 474.1,1556.7 475,1560.9C476.2,1566.5 477.4,1572 478.6,1573.5C479.4,1574.4 480.1,1575.3 480.9,1575.3C481.6,1575.3 482.4,1567.2 483.1,1560.9C484,1553 484.9,1535.3 485.8,1525C486.7,1514.7 487.6,1503.3 488.5,1498.1C489.7,1491.1 490.9,1483.7 492.1,1483.7C492.9,1483.7 493.8,1486.7 494.7,1489.1C495.6,1491.5 496.5,1497.1 497.4,1499.9C498.6,1503.6 499.8,1507.8 501,1508.8C502.2,1509.8 503.4,1510.6 504.6,1510.6C505.7,1510.6 506.8,1508 507.8,1505.3C508.9,1502.7 509.9,1494.8 510.9,1489.1C511.8,1484 512.7,1472.9 513.6,1472.9C514.5,1472.9 515.4,1474.8 516.3,1476.5C517.2,1478.2 518.1,1483.8 519,1485.5C519.9,1487.2 520.8,1489.1 521.7,1489.1C522.6,1489.1 523.5,1476.8 524.4,1471.2C525.3,1465.5 526.2,1458.1 527.1,1455C527.6,1452.9 528.2,1450.5 528.8,1450.5C529.7,1450.5 530.6,1453 531.5,1455C532.4,1457 533.3,1462.9 534.2,1464C535,1464.9 535.8,1465.8 536.6,1465.8C537.4,1465.8 538.2,1457.8 539.1,1453.2C540,1447.9 541,1437.7 541.9,1435.3C542.7,1433.4 543.4,1431.7 544.1,1431.7C545,1431.7 545.9,1434.7 546.8,1437.1C547.7,1439.4 548.6,1444.9 549.5,1447.8C550.4,1450.7 551.3,1453.4 552.2,1455C553.1,1456.6 554,1456.5 554.9,1458.6C555.8,1460.6 556.7,1473.6 557.6,1480.1C558.5,1486.7 559.4,1493.1 560.3,1498.1C561.2,1503 562.1,1508.2 562.9,1510.6C563.5,1512.3 564.1,1514.2 564.7,1514.2C565.6,1514.2 566.5,1500.5 567.4,1489.1C568.3,1477.7 569.2,1449.6 570.1,1435.3C571,1420.9 571.9,1402.9 572.8,1399.4C573.7,1395.8 574.6,1393.1 575.5,1393.1C576.4,1393.1 577.3,1399.1 578.2,1404.7C579.1,1410.4 580,1425.7 580.9,1435.3C581.8,1444.8 582.7,1456.4 583.6,1462.2C584.1,1465.3 584.5,1469.4 585,1469.4C585.7,1469.4 586.5,1447.9 587.2,1435.3C588.1,1419.5 589,1393.3 589.9,1381.4C590.6,1371.1 591.4,1359 592.2,1358.1C592.6,1357.6 593,1357.2 593.5,1357.2C594.2,1357.2 595,1363.1 595.8,1368.8C596.5,1374.2 597.2,1388.4 597.9,1399.4C598.8,1413.1 599.7,1437.6 600.6,1444.2C601.7,1451.8 602.7,1453.5 603.7,1458.6C604.5,1462.5 605.2,1467 606,1471.2C606.8,1475.3 607.6,1478.2 608.4,1483.7C609,1488 609.6,1495.7 610.2,1501.7" fill="none" stroke="#1c1c1c" stroke-width="2.5" stroke-linejoin="round"/>
<rect x="95.9" y="1181.8" width="519.4" height="409.8" fill="none" stroke="#000" stroke-width="3.8"/>
<rect x="311.2" y="1234" width="19.6" height="6.5" fill="#ff0000"/>
<rect x="311.2" y="1266.7" width="19.6" height="6.5" fill="#62a844"/>
<rect x="311.2" y="1297.2" width="19.6" height="6.5" fill="#000000"/>
<text x="338.7" y="1244" font-size="28.7">Acceptor</text>
<text x="340.2" y="1272.8" font-size="28.7"><tspan font-style="italic">&#960;</tspan><tspan font-weight="normal">-</tspan>spacer</text>
<text x="340.7" y="1309.5" font-size="28.7">Total</text>
<text transform="translate(23.5,1385.3) rotate(-90)" font-size="28.7" text-anchor="middle">Relative Intensity</text>
<text x="285.8" y="1684" font-size="28.6">Energy <tspan font-weight="normal">(</tspan><tspan font-style="italic">eV</tspan><tspan font-weight="normal">)</tspan></text>
<text x="321.6" y="1744.4" font-size="31.8">TTB4</text>
<line x1="797.1" y1="1579.6" x2="806.6" y2="1579.6" stroke="#555" stroke-width="1.6"/>
<text x="786" y="1588.8" font-size="28" text-anchor="end">0</text>
<line x1="801.1" y1="1560.1" x2="806.6" y2="1560.1" stroke="#333" stroke-width="1.6"/>
<line x1="801.1" y1="1540.6" x2="806.6" y2="1540.6" stroke="#333" stroke-width="1.6"/>
<line x1="801.1" y1="1521" x2="806.6" y2="1521" stroke="#333" stroke-width="1.6"/>
<line x1="801.1" y1="1501.5" x2="806.6" y2="1501.5" stroke="#333" stroke-width="1.6"/>
<line x1="797.1" y1="1482" x2="806.6" y2="1482" stroke="#555" stroke-width="1.6"/>
<text x="786" y="1491.2" font-size="28" text-anchor="end">5</text>
<line x1="801.1" y1="1462.5" x2="806.6" y2="1462.5" stroke="#333" stroke-width="1.6"/>
<line x1="801.1" y1="1443" x2="806.6" y2="1443" stroke="#333" stroke-width="1.6"/>
<line x1="801.1" y1="1423.4" x2="806.6" y2="1423.4" stroke="#333" stroke-width="1.6"/>
<line x1="801.1" y1="1403.9" x2="806.6" y2="1403.9" stroke="#333" stroke-width="1.6"/>
<line x1="797.1" y1="1384.4" x2="806.6" y2="1384.4" stroke="#555" stroke-width="1.6"/>
<text x="786.5" y="1393.6" font-size="28" text-anchor="end">10</text>
<line x1="801.1" y1="1364.9" x2="806.6" y2="1364.9" stroke="#333" stroke-width="1.6"/>
<line x1="801.1" y1="1345.4" x2="806.6" y2="1345.4" stroke="#333" stroke-width="1.6"/>
<line x1="801.1" y1="1325.8" x2="806.6" y2="1325.8" stroke="#333" stroke-width="1.6"/>
<line x1="801.1" y1="1306.3" x2="806.6" y2="1306.3" stroke="#333" stroke-width="1.6"/>
<line x1="797.1" y1="1286.8" x2="806.6" y2="1286.8" stroke="#555" stroke-width="1.6"/>
<text x="786.5" y="1296" font-size="28" text-anchor="end">15</text>
<line x1="801.1" y1="1267.3" x2="806.6" y2="1267.3" stroke="#333" stroke-width="1.6"/>
<line x1="801.1" y1="1247.8" x2="806.6" y2="1247.8" stroke="#333" stroke-width="1.6"/>
<line x1="801.1" y1="1228.2" x2="806.6" y2="1228.2" stroke="#333" stroke-width="1.6"/>
<line x1="801.1" y1="1208.7" x2="806.6" y2="1208.7" stroke="#333" stroke-width="1.6"/>
<line x1="797.1" y1="1189.2" x2="806.6" y2="1189.2" stroke="#555" stroke-width="1.6"/>
<text x="786.5" y="1198.4" font-size="28" text-anchor="end">20</text>
<line x1="827.2" y1="1585.2" x2="827.2" y2="1590.2" stroke="#444" stroke-width="1.6"/>
<line x1="850.2" y1="1585.2" x2="850.2" y2="1594.7" stroke="#666" stroke-width="1.6"/>
<text x="850.2" y="1628.5" font-size="28" text-anchor="middle">15</text>
<line x1="825.2" y1="1622.6" x2="833.8" y2="1622.6" stroke="#000" stroke-width="2"/>
<line x1="873.3" y1="1585.2" x2="873.3" y2="1590.2" stroke="#444" stroke-width="1.6"/>
<line x1="896.4" y1="1585.2" x2="896.4" y2="1590.2" stroke="#444" stroke-width="1.6"/>
<line x1="919.5" y1="1585.2" x2="919.5" y2="1590.2" stroke="#444" stroke-width="1.6"/>
<line x1="942.5" y1="1585.2" x2="942.5" y2="1590.2" stroke="#444" stroke-width="1.6"/>
<line x1="965.6" y1="1585.2" x2="965.6" y2="1594.7" stroke="#666" stroke-width="1.6"/>
<text x="965.6" y="1628.5" font-size="28" text-anchor="middle">10</text>
<line x1="940.6" y1="1622.6" x2="949.1" y2="1622.6" stroke="#000" stroke-width="2"/>
<line x1="988.7" y1="1585.2" x2="988.7" y2="1590.2" stroke="#444" stroke-width="1.6"/>
<line x1="1011.7" y1="1585.2" x2="1011.7" y2="1590.2" stroke="#444" stroke-width="1.6"/>
<line x1="1034.8" y1="1585.2" x2="1034.8" y2="1590.2" stroke="#444" stroke-width="1.6"/>
<line x1="1057.9" y1="1585.2" x2="1057.9" y2="1590.2" stroke="#444" stroke-width="1.6"/>
<line x1="1081" y1="1585.2" x2="1081" y2="1594.7" stroke="#666" stroke-width="1.6"/>
<text x="1081" y="1628.5" font-size="28" text-anchor="middle">5</text>
<line x1="1063" y1="1622.6" x2="1071.5" y2="1622.6" stroke="#000" stroke-width="2"/>
<line x1="1104" y1="1585.2" x2="1104" y2="1590.2" stroke="#444" stroke-width="1.6"/>
<line x1="1127.1" y1="1585.2" x2="1127.1" y2="1590.2" stroke="#444" stroke-width="1.6"/>
<line x1="1150.2" y1="1585.2" x2="1150.2" y2="1590.2" stroke="#444" stroke-width="1.6"/>
<line x1="1173.2" y1="1585.2" x2="1173.2" y2="1590.2" stroke="#444" stroke-width="1.6"/>
<line x1="1196.3" y1="1585.2" x2="1196.3" y2="1594.7" stroke="#666" stroke-width="1.6"/>
<text x="1196.3" y="1628.5" font-size="28" text-anchor="middle">0</text>
<line x1="1219.4" y1="1585.2" x2="1219.4" y2="1590.2" stroke="#444" stroke-width="1.6"/>
<line x1="1242.4" y1="1585.2" x2="1242.4" y2="1590.2" stroke="#444" stroke-width="1.6"/>
<line x1="1265.5" y1="1585.2" x2="1265.5" y2="1590.2" stroke="#444" stroke-width="1.6"/>
<line x1="1288.6" y1="1585.2" x2="1288.6" y2="1590.2" stroke="#444" stroke-width="1.6"/>
<line x1="1311.6" y1="1585.2" x2="1311.6" y2="1594.7" stroke="#666" stroke-width="1.6"/>
<text x="1311.6" y="1628.5" font-size="28" text-anchor="middle">5</text>
<line x1="1334.7" y1="1585.2" x2="1334.7" y2="1590.2" stroke="#444" stroke-width="1.6"/>
<path d="M812.4,1566.5C814.2,1564.7 816,1563.2 817.8,1561.2C819.6,1559.3 821.3,1557.2 823.1,1554.7C824.9,1552.2 826.6,1549.8 828.4,1546.2C829.8,1543.3 831.3,1538.9 832.7,1534.4C833.8,1531 834.8,1524 835.9,1522.7C836.8,1521.6 837.7,1520.6 838.6,1520.6C839.8,1520.6 841.1,1523.1 842.3,1525.9C843.4,1528.3 844.4,1539.5 845.5,1543C846.6,1546.5 847.6,1550.5 848.7,1550.5C849.8,1550.5 850.8,1549.9 851.9,1549.4C853,1548.9 854,1546.8 855.1,1546.2C856.4,1545.4 857.6,1544.6 858.9,1544.6C860.5,1544.6 862.1,1547.8 863.7,1549.4C865.8,1551.5 868,1553.4 870.1,1555.8C871.5,1557.4 873,1560.2 874.4,1561.2C875.8,1562.2 877.2,1563.3 878.6,1563.3C879.9,1563.3 881.1,1560.8 882.4,1558C883.5,1555.7 884.5,1547.8 885.6,1543C886.8,1537.4 888.1,1529.6 889.3,1527C890.6,1524.3 891.8,1521.6 893.1,1521.6C894.3,1521.6 895.6,1525.1 896.8,1528C898.2,1531.4 899.7,1543.1 901.1,1545.1C901.7,1545.9 902.2,1546.7 902.8,1546.7C904.1,1546.7 905.4,1540.9 906.7,1535.6C907.8,1531.1 908.9,1520.7 910,1513.3C911.1,1505.9 912.2,1494.5 913.3,1491.1C914.4,1487.6 915.6,1484.4 916.7,1484.4C917.8,1484.4 918.9,1486.5 920,1488.9C921.1,1491.3 922.2,1502.8 923.3,1505.6C924.6,1508.9 925.9,1511.7 927.2,1512.2C928.9,1512.9 930.5,1513.3 932.2,1513.3C934.4,1513.3 936.7,1507.8 938.9,1507.8C940,1507.8 941.1,1510.1 942.2,1512.2C943.1,1514 944.1,1519.1 945,1521.1C945.9,1523.1 946.9,1525.6 947.8,1525.6C948.9,1525.6 950,1521.7 951.1,1518.9C952.2,1516.1 953.3,1507.8 954.4,1507.8C955.5,1507.8 956.7,1508.7 957.8,1510C958.7,1511.1 959.7,1517.9 960.6,1524.4C961.3,1529.5 962.1,1542.1 962.8,1546.7C963.5,1551.3 964.3,1556.7 965,1556.7C965.9,1556.7 966.9,1555.3 967.8,1554.4C969.6,1552.6 971.5,1547.8 973.3,1547.8C974.8,1547.8 976.3,1550.2 977.8,1552.2C979.3,1554.1 980.7,1557.4 982.2,1561.1C983,1563.1 983.8,1567.7 984.6,1568.5C985.7,1569.5 986.7,1570.3 987.8,1570.3C989.1,1570.3 990.5,1567.6 991.8,1564.9C993,1562.4 994.2,1556.3 995.4,1550.5C996.6,1544.8 997.8,1535.5 998.9,1529C1000.1,1522.4 1001.3,1514.4 1002.5,1511C1003.4,1508.5 1004.3,1506.2 1005.2,1505.6C1006,1505.1 1006.8,1504.7 1007.6,1504.7C1008.4,1504.7 1009.2,1507 1010.1,1509.2C1011,1511.8 1012,1519.4 1012.9,1525.4C1014,1531.7 1015,1542.1 1016,1546.9C1017.2,1552.6 1018.4,1558.6 1019.6,1559.5C1021.1,1560.6 1022.6,1561.3 1024.1,1561.3C1025.6,1561.3 1027.1,1557.3 1028.6,1555.9C1030.1,1554.5 1031.6,1552.3 1033.1,1552.3C1034.2,1552.3 1035.4,1554.4 1036.6,1555.9C1038.1,1557.7 1039.6,1560.7 1041.1,1563.1C1042.6,1565.5 1044.1,1568.2 1045.6,1570.3C1047.1,1572.3 1048.6,1574.7 1050.1,1575.6C1051.6,1576.5 1053.1,1577.4 1054.6,1577.4C1066,1577.4 1077.3,1577.4 1088.7,1577.4C1089.9,1577.4 1091.1,1576.4 1092.3,1575.6C1093.8,1574.7 1095.3,1573 1096.8,1572.1C1098,1571.3 1099.2,1570.3 1100.4,1570.3C1101.3,1570.3 1102.2,1570.3 1103.1,1570.3C1104.2,1570.3 1105.4,1571.5 1106.6,1572.1C1107.8,1572.6 1109,1573.8 1110.2,1573.8C1111.4,1573.8 1112.6,1572.8 1113.8,1572.1C1115,1571.3 1116.2,1569.9 1117.4,1568.5C1118.6,1567 1119.8,1564.7 1121,1563.1C1122.2,1561.4 1123.4,1559.1 1124.6,1558.6C1125.7,1558.1 1126.7,1557.7 1127.8,1557.7C1128.8,1557.7 1129.9,1559.8 1130.9,1561.3C1132.1,1563 1133.3,1566.4 1134.5,1568.5C1135.7,1570.5 1136.9,1573.2 1138.1,1573.8C1139.5,1574.7 1141,1575.3 1142.5,1575.3C1143.7,1575.3 1144.9,1573.5 1146.1,1572.1C1147.3,1570.6 1148.5,1567.6 1149.7,1564.9C1150.6,1562.8 1151.5,1559.5 1152.4,1557.7C1153.3,1555.9 1154.2,1553.2 1155.1,1553.2C1156,1553.2 1156.9,1553.6 1157.8,1554.1C1158.4,1554.5 1159,1556.5 1159.6,1557.7C1160.8,1560.1 1162,1563.7 1163.2,1564.9C1164.1,1565.7 1165,1566.7 1165.9,1566.7C1166.8,1566.7 1167.7,1563.5 1168.6,1561.3C1169.5,1559 1170.4,1554.6 1171.3,1552.3C1172.2,1550.1 1173.1,1547.3 1173.9,1546.9C1175.4,1546.3 1176.9,1546.3 1178.4,1546C1179.9,1545.7 1181.4,1545.8 1182.9,1545.1C1183.8,1544.8 1184.7,1535.1 1185.6,1529C1186.5,1522.8 1187.4,1511 1188.3,1507.4C1189.2,1503.8 1190.1,1501.2 1191,1500.3C1191.9,1499.3 1192.8,1498.5 1193.7,1498.5C1194.6,1498.5 1195.5,1503.4 1196.4,1507.4C1197.3,1511.4 1198.2,1519.1 1199.1,1525.4C1200,1531.7 1200.9,1539.6 1201.8,1545.1C1202.7,1550.7 1203.6,1555.8 1204.5,1559.5C1205.4,1563.2 1206.3,1567.5 1207.2,1568.5C1208.1,1569.5 1208.9,1570.3 1209.8,1570.3C1211,1570.3 1212.2,1568.7 1213.4,1566.7C1214.6,1564.6 1215.8,1555.4 1217,1546.9C1218.2,1538.4 1219.4,1518.5 1220.6,1511C1221.8,1503.6 1223,1496.8 1224.2,1494.9C1225.4,1492.9 1226.6,1491.3 1227.8,1491.3C1229.3,1491.3 1230.8,1492.1 1232.3,1493.1C1233.5,1493.8 1234.7,1496.4 1235.9,1498.5C1237.1,1500.5 1238.3,1502.6 1239.5,1505.6C1240.4,1507.9 1241.3,1510.5 1242.2,1514.6C1243.1,1518.7 1243.9,1529.2 1244.8,1534.4C1245.7,1539.5 1246.6,1545.1 1247.5,1546.9C1248.4,1548.8 1249.3,1550.5 1250.2,1550.5C1251.4,1550.5 1252.6,1546.8 1253.8,1543.3C1255,1539.9 1256.2,1530.3 1257.4,1525.4C1258.6,1520.5 1259.8,1513.9 1261,1512.8C1262.2,1511.8 1263.4,1511.6 1264.6,1511C1265.8,1510.4 1267,1509.9 1268.2,1509.2C1270,1508.2 1271.8,1506.8 1273.6,1505.6C1275.1,1504.7 1276.6,1502.9 1278.1,1502.9C1279.2,1502.9 1280.4,1505.2 1281.6,1507.4C1282.8,1509.6 1284,1515.5 1285.2,1520C1286.4,1524.5 1287.6,1529.9 1288.8,1534.4C1290,1538.8 1291.2,1543.4 1292.4,1546.9C1293.6,1550.4 1294.8,1554.2 1296,1555.9C1297.2,1557.6 1298.4,1559.5 1299.6,1559.5C1300.7,1559.5 1301.7,1559.5 1302.8,1559.5C1303.8,1559.5 1304.9,1556.6 1305.9,1554.1C1306.8,1551.9 1307.7,1546.7 1308.6,1543.3C1309.8,1538.9 1311,1533.8 1312.2,1530.8C1313.4,1527.7 1314.5,1526 1315.7,1523.6C1316.9,1521.2 1318.1,1519.2 1319.3,1516.4C1320.2,1514.3 1321.1,1510.8 1322,1509.2C1322.9,1507.6 1323.8,1505.6 1324.7,1505.6C1325.6,1505.6 1326.5,1511.4 1327.4,1514.6C1328.6,1518.9 1329.8,1524.2 1331,1529" fill="none" stroke="#1f8f1f" stroke-width="2.2" stroke-linejoin="round"/>
<path d="M812.4,1476.8C813.5,1463.3 814.5,1449.3 815.6,1436.2C816.5,1425.2 817.4,1404.1 818.3,1404.1C819.2,1404.1 820.1,1412.5 821,1420.1C821.9,1427.4 822.7,1445.3 823.6,1457.5C824.5,1470.2 825.4,1489.2 826.3,1494.9C827.1,1499.7 827.8,1504.5 828.6,1504.5C829.6,1504.5 830.6,1489.3 831.6,1478.9C832.7,1467.8 833.7,1447 834.8,1436.2C835.9,1425.1 837,1414.9 838.1,1409.4C839,1405.1 839.8,1399.8 840.7,1399.8C841.6,1399.8 842.5,1410.6 843.4,1420.1C844.3,1429.6 845.2,1453.9 846.1,1468.2C847,1482 847.8,1498.3 848.7,1505.6C849.6,1513.2 850.5,1521.6 851.4,1521.6C852.6,1521.6 853.9,1512 855.1,1505.6C856.2,1499.9 857.3,1487 858.4,1484.2C859.3,1482 860.1,1480 861,1480C862.1,1480 863.1,1485.5 864.2,1489.6C865.5,1494.5 866.7,1506.1 868,1510.9C869.4,1516.2 870.8,1522.7 872.2,1522.7C873.8,1522.7 875.4,1519.6 877,1516.3C878.6,1513 880.3,1505.3 881.9,1494.9C883.3,1485.9 884.7,1456.5 886.1,1446.8C887.5,1436.9 889,1429.9 890.4,1425.5C892,1420.5 893.6,1414.8 895.2,1414.8C896.5,1414.8 897.7,1419.6 899,1425.5C900.1,1430.4 901.1,1450.6 902.2,1463.3C903.1,1474.4 904.1,1486.5 905,1496.7C905.7,1504.7 906.5,1518.9 907.2,1518.9C908.3,1518.9 909.5,1516.8 910.6,1513.3C911.5,1510.6 912.4,1486.8 913.3,1474.4C914.4,1458.8 915.6,1444 916.7,1430C917.8,1416.4 918.9,1398.1 920,1391.1C920.7,1386.4 921.5,1381.1 922.2,1381.1C923.1,1381.1 924.1,1389.3 925,1396.7C925.9,1404.1 926.9,1422.7 927.8,1435.6C928.7,1448.5 929.7,1458.6 930.6,1474.4C931.1,1483.5 931.7,1498.4 932.2,1507.8C932.9,1520.8 933.7,1535.5 934.4,1541.1C935.5,1549.8 936.7,1554.8 937.8,1557.8C939.3,1561.7 940.7,1564.3 942.2,1565.6C944.8,1567.9 947.4,1570 950,1570C951.5,1570 952.9,1567.4 954.4,1563.3C955.3,1560.7 956.3,1548.9 957.2,1535.6C957.8,1527.5 958.3,1510.3 958.9,1496.7C959.6,1479.1 960.4,1457.2 961.1,1441.1C961.7,1428.7 962.2,1423.1 962.8,1407.8C963.2,1397.9 963.5,1374.6 963.9,1363.3C964.2,1354 964.5,1349.1 964.8,1340.5C965.2,1328.1 965.7,1305.5 966.1,1297C966.6,1287.8 967,1277.7 967.5,1277.7C968.4,1277.7 969.3,1287.1 970.2,1295.6C971.1,1304.1 972,1330.4 972.9,1340.5C973.8,1350.6 974.7,1356.1 975.6,1363.3C977.1,1375.1 978.5,1385 980,1396.7C981.1,1405.5 982.2,1417.5 983.3,1424.4C984,1429 984.8,1434.4 985.5,1435.6C986.1,1436.6 986.7,1437.4 987.3,1437.4C988.1,1437.4 988.8,1429.6 989.6,1424.9C990.5,1419.7 991.3,1409.8 992.1,1406.9C992.9,1404.2 993.7,1401.5 994.5,1401.5C995.4,1401.5 996.3,1406.8 997.2,1412.3C997.9,1416.7 998.6,1429.3 999.3,1439.2C1000.1,1449.9 1000.9,1463.3 1001.6,1475.1C1002.2,1484.2 1002.8,1495.8 1003.4,1502.1C1004,1508.3 1004.6,1514.2 1005.2,1516.4C1006,1519.3 1006.8,1521.8 1007.6,1521.8C1008.6,1521.8 1009.6,1513.4 1010.6,1511C1011.8,1508.2 1013,1504.7 1014.2,1504.7C1015.1,1504.7 1016,1511.4 1016.9,1516.4C1017.8,1521.5 1018.7,1531.5 1019.6,1537.9C1020.6,1545.2 1021.6,1556.2 1022.6,1557.7C1023.7,1559.3 1024.8,1560 1025.9,1560.4C1027.4,1560.9 1028.9,1560.9 1030.4,1561.3C1031.9,1561.7 1033.4,1562.2 1034.8,1563.1C1036.3,1564 1037.8,1566.8 1039.3,1568.5C1041.1,1570.4 1042.9,1572.6 1044.7,1573.8C1046.5,1575 1048.3,1576 1050.1,1576.5C1051.6,1577 1053.1,1577.4 1054.6,1577.4C1066,1577.4 1077.3,1577.4 1088.7,1577.4C1089.9,1577.4 1091.1,1573.7 1092.3,1570.3C1093.5,1566.8 1094.7,1559.5 1095.9,1552.3C1096.8,1546.9 1097.7,1538.1 1098.6,1532.6C1099.3,1527.8 1100.1,1522.2 1100.9,1520C1101.5,1518.3 1102.1,1516.4 1102.7,1516.4C1103.5,1516.4 1104.4,1521.6 1105.2,1525.4C1106.2,1529.7 1107.1,1537.8 1108.1,1543.3C1109.1,1549.2 1110.1,1556.2 1111.1,1559.5C1112.1,1562.8 1113.2,1566.7 1114.2,1566.7C1115.3,1566.7 1116.3,1560.6 1117.4,1554.1C1118.3,1548.7 1119.2,1530.1 1120.1,1520C1121.1,1508.6 1122.1,1497.3 1123.2,1489.5C1124.1,1482.1 1125.1,1474 1126,1471.5C1126.7,1469.7 1127.5,1467.9 1128.2,1467.9C1129.1,1467.9 1130,1473.3 1130.9,1478.7C1131.8,1484.1 1132.7,1500.3 1133.6,1511C1134.5,1521.8 1135.4,1535.3 1136.3,1543.3C1137.3,1552.4 1138.3,1561.1 1139.3,1564.9C1140.4,1568.9 1141.5,1572.9 1142.5,1572.9C1143.6,1572.9 1144.7,1572.6 1145.8,1572.1C1146.8,1571.5 1147.8,1567.9 1148.8,1564.9C1150,1561.4 1151.2,1555 1152.4,1550.5C1153.6,1546 1154.8,1542 1156,1537.9C1156.9,1534.9 1157.8,1533.8 1158.7,1529C1159.3,1525.7 1159.9,1511 1160.5,1507.4C1161.3,1502.8 1162,1498.5 1162.8,1498.5C1163.5,1498.5 1164.3,1500.3 1165,1502.1C1165.7,1503.8 1166.4,1507.8 1167.1,1511C1168.1,1515.4 1169,1522.9 1170,1525.4C1171,1528.1 1172,1530.8 1173.1,1530.8C1173.9,1530.8 1174.8,1524.5 1175.7,1520C1176.6,1515.5 1177.5,1507 1178.4,1502.1C1179.3,1497.1 1180.2,1492.5 1181.1,1489.5C1182,1486.4 1182.9,1482.3 1183.8,1482.3C1184.7,1482.3 1185.6,1488.6 1186.5,1493.1C1187.4,1497.6 1188.3,1505 1189.2,1511C1190.1,1517 1191,1524.4 1191.9,1529C1193.1,1535 1194.3,1538.9 1195.5,1543.3C1196.7,1547.8 1197.9,1552.2 1199.1,1555.9C1200.4,1559.9 1201.7,1563.9 1203,1566.7C1204.4,1569.6 1205.8,1572.8 1207.2,1573.8C1208.4,1574.8 1209.5,1575.6 1210.7,1575.6C1211.9,1575.6 1213.1,1573.9 1214.3,1572.1C1215.5,1570.2 1216.7,1565.4 1217.9,1559.5C1218.8,1555 1219.7,1545.9 1220.6,1537.9C1221.5,1530 1222.4,1519 1223.3,1511C1224.2,1503 1225.1,1495.1 1226,1489.5C1227.2,1482 1228.4,1474.3 1229.6,1471.5C1231.3,1467.7 1232.9,1464.4 1234.6,1464.4C1235.6,1464.4 1236.6,1468.3 1237.7,1471.5C1238.6,1474.4 1239.5,1479.6 1240.4,1484.1C1241.3,1488.6 1242.2,1495.1 1243.1,1498.5C1243.6,1500.7 1244.2,1503.8 1244.8,1503.8C1245.7,1503.8 1246.6,1496 1247.5,1491.3C1248.3,1487.5 1249,1480.5 1249.7,1478.7C1250.5,1476.8 1251.2,1475.1 1252,1475.1C1252.9,1475.1 1253.8,1481.1 1254.7,1485.9C1255.6,1490.7 1256.5,1500.9 1257.4,1507.4C1258.3,1514 1259.2,1521.4 1260.1,1525.4C1261,1529.4 1261.9,1533 1262.8,1534.4C1263.4,1535.2 1264,1536.2 1264.6,1536.2C1265.5,1536.2 1266.4,1526.7 1267.3,1520C1268.2,1513.3 1269.1,1501.1 1270,1493.1C1270.9,1485.1 1271.8,1475.7 1272.7,1471.5C1274,1465.4 1275.3,1459 1276.6,1459C1277.6,1459 1278.5,1466.1 1279.5,1471.5C1280.5,1477.3 1281.5,1488.1 1282.5,1496.7C1283.4,1504.2 1284.3,1515.1 1285.2,1520C1286.1,1524.9 1287,1530.8 1287.9,1530.8C1288.8,1530.8 1289.7,1525.5 1290.6,1520C1291.5,1514.5 1292.4,1497.4 1293.3,1484.1C1294.2,1470.8 1295.1,1451.3 1296,1439.2C1296.9,1427.1 1297.8,1414.7 1298.7,1408.7C1299.7,1401.9 1300.7,1394.4 1301.7,1394.4C1302.7,1394.4 1303.7,1405.7 1304.6,1412.3C1305.6,1419.3 1306.6,1428.9 1307.7,1435.6C1308.7,1442.4 1309.7,1448.8 1310.7,1453.6C1311.8,1458.6 1312.9,1461.5 1313.9,1466.2C1315.1,1471.4 1316.3,1476.9 1317.5,1484.1C1318.7,1491.3 1319.9,1502.2 1321.1,1511C1322,1517.7 1322.9,1526.4 1323.8,1530.8C1325,1536.5 1326.2,1539.5 1327.4,1543.3C1328.6,1547.2 1329.8,1550.5 1331,1554.1" fill="none" stroke="#ff1a1a" stroke-width="2.3" stroke-linejoin="round"/>
<path d="M812.4,1470.3C813.5,1455.4 814.5,1437.9 815.6,1425.5C816.9,1410.8 818.1,1388.1 819.4,1388.1C820.3,1388.1 821.1,1400.7 822,1409.4C823.1,1420.1 824.1,1442.6 825.2,1452.2C826.2,1461.2 827.2,1472.5 828.2,1472.5C829.3,1472.5 830.5,1459 831.6,1446.8C832.7,1435.3 833.7,1402.5 834.8,1388.1C835.9,1373.2 837,1359.2 838.1,1352.8C838.9,1348.3 839.6,1343.2 840.4,1343.2C841.2,1343.2 842.1,1349.3 842.9,1356C843.8,1362.9 844.6,1386.1 845.5,1404.1C846.4,1422.8 847.3,1456.3 848.2,1468.2C849.3,1482.3 850.3,1497 851.4,1497C852.5,1497 853.5,1485.2 854.6,1478.9C855.9,1471.4 857.1,1459.7 858.4,1455.4C859.3,1452.4 860.1,1449 861,1449C862.1,1449 863.1,1457.2 864.2,1462.9C865.5,1469.7 866.7,1484.1 868,1489.6C869.8,1497.2 871.5,1505.6 873.3,1505.6C875.1,1505.6 876.8,1502.6 878.6,1498.1C880,1494.5 881.5,1473.5 882.9,1457.5C884.3,1441.5 885.8,1412.6 887.2,1398.8C888.6,1385 890.1,1370.7 891.5,1366.7C892.5,1363.9 893.5,1361.4 894.5,1361.4C895.6,1361.4 896.8,1367.1 897.9,1372C898.6,1375 899.3,1379.6 900,1385.6C901.1,1395 902.2,1408.1 903.3,1430C903.7,1437.3 904,1459.5 904.4,1463.3C905.3,1473.1 906.3,1478.9 907.2,1478.9C908.1,1478.9 909.1,1471 910,1463.3C910.7,1457.2 911.5,1441.3 912.2,1430C913.1,1415.6 914.1,1402.3 915,1385.6C915.7,1372.5 916.5,1352.6 917.2,1341.1C917.7,1333.8 918.1,1326.5 918.6,1322.6C919.7,1313.7 920.7,1304.6 921.8,1304.6C922.7,1304.6 923.6,1313.6 924.5,1322.6C925.2,1329.9 926,1350.5 926.7,1363.3C927.6,1379 928.5,1394 929.4,1407.8C930.2,1419.6 930.9,1428.9 931.7,1441.1C932.2,1449.6 932.8,1464.5 933.3,1468.9C934.4,1478.2 935.6,1481.8 936.7,1485.6C938.2,1490.6 939.6,1492.1 941.1,1496.7C942.2,1500.2 943.3,1506.5 944.4,1510C945.5,1513.6 946.7,1518.9 947.8,1518.9C948.9,1518.9 950,1516.3 951.1,1513.3C952.2,1510.3 953.3,1499.9 954.4,1491.1C955.5,1482.1 956.7,1470.4 957.8,1457.8C958.5,1449.6 959.3,1441.4 960,1430C960.7,1418.6 961.5,1406.3 962.2,1385.6C962.6,1375.2 962.9,1352.1 963.3,1340C963.7,1325.7 964.2,1315.1 964.6,1304.6C965.1,1292.5 965.6,1278.2 966.1,1272C966.6,1266.2 967,1259.8 967.5,1259.8C968.4,1259.8 969.3,1267.3 970.2,1274.1C971.1,1280.9 972,1298.3 972.9,1310C974.2,1326.4 975.4,1345.8 976.7,1357.8C978.2,1371.7 979.6,1379.1 981.1,1391.1C981.9,1397.9 982.8,1405.7 983.6,1413C984,1416.9 984.5,1423.4 984.9,1424.9C985.5,1426.9 986.1,1428.5 986.7,1428.5C987.5,1428.5 988.3,1422.6 989.1,1417.7C989.9,1412.8 990.6,1400.1 991.4,1394.4C992.1,1389.1 992.8,1382.8 993.6,1381.8C994.3,1380.7 995,1380 995.7,1380C996.5,1380 997.3,1384.7 998.1,1389C998.8,1393.3 999.6,1403.7 1000.4,1412.3C1001.1,1420.3 1001.8,1435.4 1002.5,1439.2C1003.4,1444.1 1004.3,1447.8 1005.2,1448.2C1006.4,1448.8 1007.6,1448.8 1008.8,1449.1C1009.8,1449.4 1010.9,1449.4 1011.9,1450C1012.6,1450.5 1013.4,1459.8 1014.2,1466.2C1015.1,1473.5 1016,1484.1 1016.9,1493.1C1017.8,1502.1 1018.7,1511.7 1019.6,1520C1020.5,1528.3 1021.4,1542.4 1022.3,1543.3C1023.5,1544.5 1024.7,1545.1 1025.9,1545.1C1027.1,1545.1 1028.3,1540.6 1029.5,1539.7C1030.7,1538.8 1031.9,1537.9 1033.1,1537.9C1034.2,1537.9 1035.4,1539.8 1036.6,1541.5C1037.8,1543.2 1039,1547.2 1040.2,1550.5C1041.4,1553.8 1042.6,1558.4 1043.8,1561.3C1045.3,1564.9 1046.8,1568 1048.3,1570.3C1049.8,1572.5 1051.3,1574.6 1052.8,1575.6C1054,1576.5 1055.2,1577.4 1056.4,1577.4C1067.2,1577.4 1077.9,1577.4 1088.7,1577.4C1089.6,1577.4 1090.5,1574.5 1091.4,1572.1C1092.6,1568.8 1093.8,1562.9 1095,1555.9C1095.9,1550.7 1096.8,1541.2 1097.7,1534.4C1098.6,1527.5 1099.5,1518.5 1100.4,1514.6C1101.1,1511.3 1101.9,1507.4 1102.7,1507.4C1103.5,1507.4 1104.4,1512.4 1105.2,1516.4C1106.2,1521 1107.1,1531.6 1108.1,1537.9C1109.1,1544.7 1110.1,1551.9 1111.1,1555.9C1112.1,1559.9 1113.2,1564.9 1114.2,1564.9C1115.3,1564.9 1116.3,1560.7 1117.4,1555.9C1118.5,1551.1 1119.6,1532.3 1120.6,1520C1121.7,1508.4 1122.7,1495.1 1123.7,1484.1C1124.6,1474.4 1125.5,1461.2 1126.4,1457.2C1127.1,1454 1127.8,1450.9 1128.5,1450.9C1129.5,1450.9 1130.5,1458.7 1131.4,1466.2C1132.2,1472.7 1133.1,1490.9 1133.9,1502.1C1134.9,1514.8 1135.8,1528.8 1136.8,1537.9C1137.8,1547.6 1138.8,1556.8 1139.8,1561.3C1141,1566.5 1142.2,1572.1 1143.4,1572.1C1144.6,1572.1 1145.8,1566.2 1147,1561.3C1148.2,1556.4 1149.4,1544.7 1150.6,1537.9C1151.8,1531.2 1153,1526 1154.2,1520C1155.4,1514 1156.6,1506.8 1157.8,1502.1C1158.9,1497.8 1159.9,1492.7 1161,1491.3C1161.7,1490.4 1162.5,1489.5 1163.2,1489.5C1164.1,1489.5 1165,1494 1165.9,1496.7C1166.8,1499.3 1167.7,1504.6 1168.6,1505.6C1169.5,1506.6 1170.4,1507.4 1171.3,1507.4C1172.2,1507.4 1173.1,1501.5 1173.9,1496.7C1174.8,1491.9 1175.7,1481.7 1176.6,1475.1C1177.5,1468.6 1178.4,1461.2 1179.3,1457.2C1180.2,1453.2 1181.1,1450.1 1182,1448.2C1183.2,1445.7 1184.4,1443.9 1185.6,1442.8C1187.1,1441.5 1188.6,1440.1 1190.1,1440.1C1191,1440.1 1191.9,1443.2 1192.8,1446.4C1193.7,1449.6 1194.6,1458.6 1195.5,1466.2C1196.4,1473.7 1197.3,1484.1 1198.2,1493.1C1199.1,1502.1 1200,1510 1200.9,1520C1201.6,1528 1202.3,1540.8 1203,1546.9C1204,1555 1204.9,1561.6 1205.9,1564.9C1206.9,1568.4 1207.9,1572.1 1208.9,1572.1C1210,1572.1 1211,1571.3 1212,1570.3C1213,1569.2 1213.9,1562.6 1214.9,1555.9C1215.9,1548.8 1216.9,1534.1 1217.9,1520C1218.8,1507.6 1219.7,1488.4 1220.6,1475.1C1221.5,1461.8 1222.4,1449.5 1223.3,1439.2C1224.2,1429 1225.1,1420.3 1226,1412.3C1226.9,1404.3 1227.8,1395 1228.7,1390.8C1229.6,1386.5 1230.5,1383.2 1231.4,1381.8C1232.3,1380.4 1233.2,1379.1 1234.1,1379.1C1235,1379.1 1235.9,1382.3 1236.8,1385.4C1237.7,1388.5 1238.6,1396.2 1239.5,1403.3C1240.4,1410.5 1241.3,1421.9 1242.2,1430.3C1243.1,1438.6 1243.9,1448.8 1244.8,1453.6C1245.4,1456.8 1246,1460.8 1246.6,1460.8C1247.5,1460.8 1248.4,1454.1 1249.3,1451.8C1250.5,1448.8 1251.7,1444.6 1252.9,1444.6C1253.8,1444.6 1254.7,1450.1 1255.6,1453.6C1256.5,1457.1 1257.4,1463.6 1258.3,1466.2C1259.5,1469.6 1260.7,1472.2 1261.9,1473.3C1262.8,1474.2 1263.7,1475.1 1264.6,1475.1C1265.5,1475.1 1266.4,1464.4 1267.3,1457.2C1268.2,1450 1269.1,1439.2 1270,1430.3C1270.9,1421.3 1271.8,1409.6 1272.7,1403.3C1273.6,1397.1 1274.5,1391.5 1275.4,1389C1276,1387.3 1276.6,1385.4 1277.2,1385.4C1278.1,1385.4 1278.9,1391.1 1279.8,1396.2C1280.7,1401.2 1281.6,1411.4 1282.5,1421.3C1283.4,1431.1 1284.3,1448.2 1285.2,1457.2C1286.1,1466.2 1287,1477.2 1287.9,1478.7C1288.5,1479.7 1289.1,1480.5 1289.7,1480.5C1290.6,1480.5 1291.5,1473 1292.4,1466.2C1293.3,1459.3 1294.2,1442.2 1295.1,1430.3C1296,1418.3 1296.9,1400.6 1297.8,1394.4C1298.7,1388.2 1299.6,1383.2 1300.5,1381.8C1301.1,1380.9 1301.7,1380 1302.3,1380C1303.2,1380 1304.1,1386 1305,1390.8C1305.9,1395.6 1306.8,1409.1 1307.7,1412.3C1308.6,1415.6 1309.5,1418.2 1310.4,1418.6C1311.6,1419.2 1312.8,1418.9 1313.9,1419.5C1314.8,1419.9 1315.7,1422.3 1316.6,1424.9C1317.5,1427.5 1318.4,1433.9 1319.3,1439.2C1320.2,1444.5 1321.1,1451.2 1322,1457.2C1322.9,1463.2 1323.8,1470 1324.7,1475.1C1325.9,1482 1327.1,1486.5 1328.3,1493.1C1329.2,1498 1330.1,1503.8 1331,1509.2" fill="none" stroke="#1c1c1c" stroke-width="2.5" stroke-linejoin="round"/>
<polygon points="807,1181.7 1335.9,1181.3 1335.5,1583.8 808.7,1583.5" fill="none" stroke="#000" stroke-width="3.8"/>
<rect x="1025.8" y="1232.9" width="21.1" height="6" fill="#ff0000"/>
<rect x="1025.8" y="1265" width="21.1" height="6" fill="#62a844"/>
<rect x="1025.8" y="1295.1" width="21.1" height="6" fill="#000000"/>
<text x="1053.6" y="1241.5" font-size="29.5">Acceptor</text>
<text x="1055.1" y="1270.8" font-size="29.5"><tspan font-style="italic">&#960;</tspan><tspan font-weight="normal">-</tspan>spacer</text>
<text x="1055.6" y="1307.7" font-size="29.5">Total</text>
<text transform="translate(733.8,1380.8) rotate(-90)" font-size="28.4" text-anchor="middle">Relative Intensity</text>
<text x="1001.4" y="1674" font-size="29">Energy <tspan font-weight="normal">(</tspan><tspan font-style="italic">eV</tspan><tspan font-weight="normal">)</tspan></text>
<text x="1036.1" y="1744.5" font-size="32">TTB5</text>
<line x1="447.1" y1="2191.2" x2="456.1" y2="2191.2" stroke="#555" stroke-width="1.6"/>
<text x="435.5" y="2199.8" font-size="26" text-anchor="end">0</text>
<line x1="450.9" y1="2178.7" x2="456.1" y2="2178.7" stroke="#333" stroke-width="1.6"/>
<line x1="450.9" y1="2166.2" x2="456.1" y2="2166.2" stroke="#333" stroke-width="1.6"/>
<line x1="450.9" y1="2153.7" x2="456.1" y2="2153.7" stroke="#333" stroke-width="1.6"/>
<line x1="447.1" y1="2141.2" x2="456.1" y2="2141.2" stroke="#555" stroke-width="1.6"/>
<text x="435.5" y="2149.8" font-size="26" text-anchor="end">2</text>
<line x1="450.9" y1="2128.8" x2="456.1" y2="2128.8" stroke="#333" stroke-width="1.6"/>
<line x1="450.9" y1="2116.3" x2="456.1" y2="2116.3" stroke="#333" stroke-width="1.6"/>
<line x1="450.9" y1="2103.8" x2="456.1" y2="2103.8" stroke="#333" stroke-width="1.6"/>
<line x1="447.1" y1="2091.3" x2="456.1" y2="2091.3" stroke="#555" stroke-width="1.6"/>
<text x="435.5" y="2099.9" font-size="26" text-anchor="end">4</text>
<line x1="450.9" y1="2078.8" x2="456.1" y2="2078.8" stroke="#333" stroke-width="1.6"/>
<line x1="450.9" y1="2066.3" x2="456.1" y2="2066.3" stroke="#333" stroke-width="1.6"/>
<line x1="450.9" y1="2053.8" x2="456.1" y2="2053.8" stroke="#333" stroke-width="1.6"/>
<line x1="447.1" y1="2041.3" x2="456.1" y2="2041.3" stroke="#555" stroke-width="1.6"/>
<text x="435.5" y="2049.9" font-size="26" text-anchor="end">6</text>
<line x1="450.9" y1="2028.8" x2="456.1" y2="2028.8" stroke="#333" stroke-width="1.6"/>
<line x1="450.9" y1="2016.3" x2="456.1" y2="2016.3" stroke="#333" stroke-width="1.6"/>
<line x1="450.9" y1="2003.8" x2="456.1" y2="2003.8" stroke="#333" stroke-width="1.6"/>
<line x1="447.1" y1="1991.4" x2="456.1" y2="1991.4" stroke="#555" stroke-width="1.6"/>
<text x="435.5" y="1999.9" font-size="26" text-anchor="end">8</text>
<line x1="450.9" y1="1978.9" x2="456.1" y2="1978.9" stroke="#333" stroke-width="1.6"/>
<line x1="450.9" y1="1966.4" x2="456.1" y2="1966.4" stroke="#333" stroke-width="1.6"/>
<line x1="450.9" y1="1953.9" x2="456.1" y2="1953.9" stroke="#333" stroke-width="1.6"/>
<line x1="447.1" y1="1941.4" x2="456.1" y2="1941.4" stroke="#555" stroke-width="1.6"/>
<text x="439.5" y="1950" font-size="26" text-anchor="end">10</text>
<line x1="450.9" y1="1928.9" x2="456.1" y2="1928.9" stroke="#333" stroke-width="1.6"/>
<line x1="450.9" y1="1916.4" x2="456.1" y2="1916.4" stroke="#333" stroke-width="1.6"/>
<line x1="450.9" y1="1903.9" x2="456.1" y2="1903.9" stroke="#333" stroke-width="1.6"/>
<line x1="447.1" y1="1891.4" x2="456.1" y2="1891.4" stroke="#555" stroke-width="1.6"/>
<text x="439.5" y="1900" font-size="26" text-anchor="end">12</text>
<line x1="450.9" y1="1878.9" x2="456.1" y2="1878.9" stroke="#333" stroke-width="1.6"/>
<line x1="450.9" y1="1866.5" x2="456.1" y2="1866.5" stroke="#333" stroke-width="1.6"/>
<line x1="450.9" y1="1854" x2="456.1" y2="1854" stroke="#333" stroke-width="1.6"/>
<line x1="447.1" y1="1841.5" x2="456.1" y2="1841.5" stroke="#555" stroke-width="1.6"/>
<text x="439.5" y="1850.1" font-size="26" text-anchor="end">14</text>
<line x1="450.9" y1="1829" x2="456.1" y2="1829" stroke="#333" stroke-width="1.6"/>
<line x1="450.9" y1="1816.5" x2="456.1" y2="1816.5" stroke="#333" stroke-width="1.6"/>
<line x1="450.9" y1="1804" x2="456.1" y2="1804" stroke="#333" stroke-width="1.6"/>
<line x1="447.1" y1="1791.5" x2="456.1" y2="1791.5" stroke="#555" stroke-width="1.6"/>
<text x="439.5" y="1800.1" font-size="26" text-anchor="end">16</text>
<line x1="478" y1="2199.9" x2="478" y2="2203.9" stroke="#444" stroke-width="1.6"/>
<line x1="500.1" y1="2199.9" x2="500.1" y2="2208.4" stroke="#666" stroke-width="1.6"/>
<text x="500.1" y="2242.3" font-size="27" text-anchor="middle">15</text>
<line x1="476.6" y1="2236.6" x2="484.1" y2="2236.6" stroke="#000" stroke-width="1.5"/>
<line x1="522.3" y1="2199.9" x2="522.3" y2="2203.9" stroke="#444" stroke-width="1.6"/>
<line x1="544.5" y1="2199.9" x2="544.5" y2="2203.9" stroke="#444" stroke-width="1.6"/>
<line x1="566.6" y1="2199.9" x2="566.6" y2="2203.9" stroke="#444" stroke-width="1.6"/>
<line x1="588.8" y1="2199.9" x2="588.8" y2="2203.9" stroke="#444" stroke-width="1.6"/>
<line x1="610.9" y1="2199.9" x2="610.9" y2="2208.4" stroke="#666" stroke-width="1.6"/>
<text x="610.9" y="2242.3" font-size="27" text-anchor="middle">10</text>
<line x1="587.4" y1="2236.6" x2="594.9" y2="2236.6" stroke="#000" stroke-width="1.5"/>
<line x1="633" y1="2199.9" x2="633" y2="2203.9" stroke="#444" stroke-width="1.6"/>
<line x1="655.2" y1="2199.9" x2="655.2" y2="2203.9" stroke="#444" stroke-width="1.6"/>
<line x1="677.4" y1="2199.9" x2="677.4" y2="2203.9" stroke="#444" stroke-width="1.6"/>
<line x1="699.5" y1="2199.9" x2="699.5" y2="2203.9" stroke="#444" stroke-width="1.6"/>
<line x1="721.6" y1="2199.9" x2="721.6" y2="2208.4" stroke="#666" stroke-width="1.6"/>
<text x="721.6" y="2242.3" font-size="27" text-anchor="middle">5</text>
<line x1="704.9" y1="2236.6" x2="712.4" y2="2236.6" stroke="#000" stroke-width="1.5"/>
<line x1="743.8" y1="2199.9" x2="743.8" y2="2203.9" stroke="#444" stroke-width="1.6"/>
<line x1="766" y1="2199.9" x2="766" y2="2203.9" stroke="#444" stroke-width="1.6"/>
<line x1="788.1" y1="2199.9" x2="788.1" y2="2203.9" stroke="#444" stroke-width="1.6"/>
<line x1="810.2" y1="2199.9" x2="810.2" y2="2203.9" stroke="#444" stroke-width="1.6"/>
<line x1="832.4" y1="2199.9" x2="832.4" y2="2208.4" stroke="#666" stroke-width="1.6"/>
<text x="832.4" y="2242.3" font-size="27" text-anchor="middle">0</text>
<line x1="854.5" y1="2199.9" x2="854.5" y2="2203.9" stroke="#444" stroke-width="1.6"/>
<line x1="876.7" y1="2199.9" x2="876.7" y2="2203.9" stroke="#444" stroke-width="1.6"/>
<line x1="898.8" y1="2199.9" x2="898.8" y2="2203.9" stroke="#444" stroke-width="1.6"/>
<line x1="921" y1="2199.9" x2="921" y2="2203.9" stroke="#444" stroke-width="1.6"/>
<line x1="943.1" y1="2199.9" x2="943.1" y2="2208.4" stroke="#666" stroke-width="1.6"/>
<text x="943.1" y="2242.3" font-size="27" text-anchor="middle">5</text>
<line x1="965.3" y1="2199.9" x2="965.3" y2="2203.9" stroke="#444" stroke-width="1.6"/>
<path d="M463.6,2181.7C464.6,2179.9 465.6,2177.9 466.7,2176.3C467.9,2174.3 469.1,2172.7 470.3,2170.9C471.5,2169.1 472.6,2167.6 473.8,2165.5C475,2163.5 476.2,2161 477.4,2158.3C478.6,2155.7 479.8,2153.3 481,2149.4C481.9,2146.4 482.8,2141 483.7,2136.8C484.6,2132.6 485.5,2125.4 486.4,2124.2C487.2,2123.2 488,2122.4 488.7,2122.4C489.8,2122.4 490.8,2126.4 491.8,2129.6C492.7,2132.4 493.6,2139.2 494.5,2142.2C495.7,2146.1 496.9,2151.2 498.1,2151.2C499.6,2151.2 501.1,2151.2 502.6,2151.2C504.7,2151.2 506.8,2149.4 508.8,2149.4C510.3,2149.4 511.8,2151.2 513.3,2152.9C514.5,2154.3 515.7,2157.5 516.9,2160.1C518.1,2162.8 519.3,2167.4 520.5,2169.1C521.7,2170.8 522.9,2172.7 524.1,2172.7C525.3,2172.7 526.5,2172.7 527.7,2172.7C528.6,2172.7 529.5,2166 530.4,2161.9C531.6,2156.4 532.8,2147.7 534,2142.2C535.2,2136.6 536.4,2129 537.6,2127.8C538.6,2126.8 539.7,2126 540.8,2126C541.8,2126 542.8,2129 543.8,2131.4C545,2134.2 546.2,2142.9 547.4,2144C548.6,2145 549.8,2145.8 551,2145.8C552.2,2145.8 553.4,2140.5 554.6,2135C555.5,2130.9 556.4,2119.1 557.3,2111.7C558.2,2104.2 559.1,2094.9 560,2090.1C560.9,2085.3 561.8,2080.6 562.7,2079.4C563.4,2078.4 564.1,2077.6 564.8,2077.6C565.8,2077.6 566.8,2080.5 567.7,2082.9C568.7,2085.6 569.8,2092 570.8,2095.5C571.8,2099 572.8,2102.8 573.8,2104.5C574.9,2106.2 576,2108.1 577.1,2108.1C578.2,2108.1 579.4,2104.1 580.6,2102.7C581.8,2101.3 583,2099.1 584.2,2099.1C585.3,2099.1 586.4,2101.9 587.5,2104.5C588.5,2106.9 589.5,2115 590.5,2117.1C591.4,2118.8 592.3,2120.6 593.2,2120.6C594.3,2120.6 595.4,2113.2 596.4,2109.9C597.5,2106.7 598.5,2100.9 599.5,2100.9C600.1,2100.9 600.7,2100.9 601.3,2100.9C602.2,2100.9 603.1,2110.3 604,2117.1C604.9,2123.8 605.8,2136.8 606.7,2144C607.6,2151.2 608.5,2159.9 609.4,2161.9C610.3,2163.9 611.2,2165.5 612.1,2165.5C613.2,2165.5 614.4,2158.8 615.6,2156.5C616.8,2154.3 618,2151.2 619.2,2151.2C620.1,2151.2 621,2153.1 621.9,2154.7C623,2156.7 624.1,2162.4 625.2,2165C626.2,2167.4 627.2,2170.1 628.2,2170.9C629.2,2171.7 630.2,2172.3 631.3,2172.3C632,2172.3 632.8,2168 633.6,2165.5C634.5,2162.4 635.5,2158.8 636.5,2154.9C637.4,2151.1 638.4,2146.2 639.3,2142.2C640.4,2137.6 641.5,2133.8 642.6,2129.3C644.1,2122.7 645.7,2113.2 647.2,2108.6C648.6,2104.6 650,2099.5 651.4,2099.5C652.6,2099.5 653.8,2103.8 654.9,2108.6C655.9,2112.5 656.9,2126.4 657.8,2134.5C658.9,2143.5 660,2155.7 661.1,2159.9C662.4,2165.3 663.8,2170.4 665.2,2170.4C666.9,2170.4 668.6,2162.4 670.4,2159.9C671.9,2157.8 673.4,2154.9 674.9,2154.9C676.7,2154.9 678.6,2157.5 680.4,2159.9C682.2,2162.3 683.9,2168.8 685.6,2173.2C687.4,2177.8 689.2,2184.9 691,2187.1C692.5,2188.8 694,2190.6 695.5,2190.6C709,2190.6 722.4,2190.6 735.9,2190.6C737.1,2190.6 738.3,2189.1 739.5,2187.9C740.7,2186.8 741.9,2185.1 743.1,2183.5C744.3,2181.8 745.5,2179 746.7,2178.1C747.7,2177.2 748.8,2176.3 749.9,2176.3C750.9,2176.3 751.9,2177.2 752.9,2178.1C754.1,2179.1 755.3,2181.8 756.5,2183.5C757.7,2185.1 758.9,2187.3 760.1,2187.9C761,2188.4 761.9,2188.8 762.8,2188.8C764,2188.8 765.2,2186.7 766.4,2185.3C767.6,2183.8 768.8,2181.7 770,2179.9C771.2,2178.1 772.4,2175.4 773.6,2174.5C774.7,2173.6 775.7,2172.7 776.8,2172.7C777.8,2172.7 778.9,2174.9 779.9,2176.3C781.1,2177.9 782.3,2180.2 783.5,2181.7C784.7,2183.1 785.9,2185.3 787.1,2185.3C788.2,2185.3 789.4,2180 790.6,2176.3C791.8,2172.6 793,2163.2 794.2,2161.9C795.1,2160.9 796,2160.1 796.9,2160.1C797.8,2160.1 798.7,2163.3 799.6,2165.5C800.5,2167.8 801.4,2171.5 802.3,2174.5C803.2,2177.5 804.1,2182.9 805,2183.5C805.9,2184 806.8,2183.9 807.7,2184.4C808,2184.5 808.3,2185.3 808.6,2185.3C809.8,2185.3 811,2177.4 812.2,2170.9C813.3,2165 814.3,2153.2 815.4,2144C816.4,2135.3 817.4,2124.7 818.5,2117.1C819.7,2108.1 820.9,2097 822.1,2093.7C823.1,2090.9 824.1,2089.4 825.1,2088.3C825.9,2087.5 826.7,2086.5 827.4,2086.5C828.3,2086.5 829.2,2090.1 830.1,2093.7C831,2097.4 831.9,2107.6 832.8,2117.1C833.7,2126.5 834.6,2145 835.5,2152.9C836.4,2160.9 837.3,2168.1 838.2,2170.9C839.4,2174.7 840.6,2178.1 841.8,2178.1C842.7,2178.1 843.6,2174.3 844.5,2170.9C845.4,2167.5 846.3,2160.1 847.2,2152.9C848.1,2145.8 849,2132.3 849.9,2126C850.8,2119.8 851.7,2113.8 852.6,2111.7C853.8,2108.8 855,2107.4 856.2,2106.3C857.1,2105.5 857.9,2105.4 858.8,2104.5C860,2103.3 861.2,2099.1 862.4,2097.3C863.9,2095 865.4,2091.9 866.9,2091.9C868.1,2091.9 869.3,2091.9 870.5,2091.9C871.7,2091.9 872.9,2093.5 874.1,2095.5C875,2097 875.9,2102.8 876.8,2108.1C877.7,2113.4 878.6,2123.9 879.5,2129.6C880.4,2135.4 881.3,2142.1 882.2,2144C883.1,2145.9 884,2147.6 884.9,2147.6C885.8,2147.6 886.7,2146 887.6,2144C888.5,2142 889.4,2130.2 890.3,2126C891.5,2120.5 892.6,2113.5 893.8,2113.5C895,2113.5 896.2,2113.5 897.4,2113.5C898.9,2113.5 900.4,2115.3 901.9,2115.3C903.4,2115.3 904.9,2110.1 906.4,2108.1C907.9,2106 909.4,2102.7 910.9,2102.7C912.1,2102.7 913.3,2104.5 914.5,2106.3C915.7,2108.1 916.9,2112.4 918.1,2117.1C919.2,2121.3 920.2,2128.6 921.3,2135C922.3,2141.1 923.3,2152.9 924.4,2154.7C925.6,2156.9 926.8,2158.3 927.9,2158.3C929.4,2158.3 930.9,2156.5 932.4,2156.5C933.6,2156.5 934.8,2157.3 936,2158.3C937.1,2159.3 938.2,2167.3 939.3,2167.3C940.3,2167.3 941.3,2165 942.3,2161.9C943.2,2159.2 944.1,2143.7 945,2135C946.1,2124.5 947.2,2110.6 948.2,2104.5C949.2,2098.7 950.3,2093.8 951.3,2091.9C952.3,2090.1 953.3,2088.3 954.3,2088.3C955.3,2088.3 956.2,2095 957.2,2099.1C958,2102.7 958.9,2107.5 959.7,2111.7C960.7,2116.5 961.6,2121.1 962.6,2126C963.5,2130.7 964.4,2135 965.3,2140.4C966,2144.7 966.7,2150 967.4,2154.7" fill="none" stroke="#1f8f1f" stroke-width="2.2" stroke-linejoin="round"/>
<path d="M463.6,2140.4C464.3,2139.8 465.1,2138.6 465.8,2138.6C466.7,2138.6 467.6,2141.2 468.5,2144C469.4,2146.7 470.3,2156.6 471.2,2161.9C472.1,2167.2 472.9,2174.1 473.8,2176.3C475,2179.2 476.2,2181.2 477.4,2181.7C478.6,2182.2 479.8,2182.6 481,2182.6C482.2,2182.6 483.4,2180.4 484.6,2178.1C485.8,2175.7 487,2168.7 488.2,2161.9C489.4,2155.2 490.6,2145.3 491.8,2135C492.7,2127.3 493.6,2115.3 494.5,2108.1C495.4,2100.9 496.3,2093.5 497.2,2090.1C498.4,2085.7 499.6,2084.6 500.8,2081.2C501.7,2078.6 502.6,2076.2 503.5,2072.2C504.4,2068.2 505.3,2058.2 506.2,2054.2C507.1,2050.2 507.9,2046.4 508.8,2045.3C509.6,2044.3 510.4,2043.5 511.2,2043.5C512.1,2043.5 513,2048.8 513.9,2052.4C514.9,2056.6 515.9,2062.6 516.9,2068.6C517.8,2073.9 518.7,2082.5 519.6,2086.5C520.5,2090.5 521.4,2095.5 522.3,2095.5C523.3,2095.5 524.3,2090.8 525.4,2086.5C526.4,2082.1 527.5,2068.1 528.6,2063.2C529.5,2059.2 530.4,2054.2 531.3,2054.2C532.5,2054.2 533.7,2054.2 534.9,2054.2C535.8,2054.2 536.7,2049.2 537.6,2045.3C538.5,2041.3 539.4,2032.6 540.3,2027.3C541.2,2022 542.1,2015.2 542.9,2012.9C543.7,2011.2 544.4,2009.4 545.1,2009.4C545.9,2009.4 546.7,2014.1 547.4,2018.3C548.3,2023.3 549.2,2038.1 550.1,2045.3C551,2052.4 551.9,2061.2 552.8,2063.2C553.2,2064.1 553.7,2065 554.1,2065C555,2065 556,2056.4 556.9,2050.6C558,2044.5 559,2033.7 560,2027.3C560.9,2021.7 561.8,2014 562.7,2012.9C563.6,2011.9 564.5,2011.7 565.4,2011.2C566.6,2010.5 567.8,2010.5 569,2009.4C569.8,2008.6 570.5,2005 571.3,2000.4C572,1996.1 572.7,1981.5 573.5,1973.5C574.4,1963.4 575.3,1954.5 576.2,1946.5C577.1,1938.6 577.9,1928.8 578.8,1925C579.6,1922 580.3,1918.7 581,1918.7C581.8,1918.7 582.6,1923.4 583.3,1928.6C584.1,1933.8 584.9,1950.7 585.7,1964.5C586.4,1977.2 587.1,1996.1 587.8,2009.4C588.5,2022.7 589.3,2036.3 590,2045.3C590.6,2052.7 591.2,2063.2 591.8,2063.2C592.4,2063.2 593,2048.2 593.6,2036.3C594.2,2024.3 594.8,1996.6 595.4,1982.4C596.1,1964 596.9,1947.8 597.7,1937.6C598.5,1927.3 599.2,1914.2 600,1914.2C600.7,1914.2 601.5,1920.6 602.2,1928.6C602.8,1935.2 603.4,1960.9 604,1982.4C604.6,2004 605.2,2044 605.8,2063.2C606.4,2082.4 607,2094.8 607.6,2108.1C608.2,2121.4 608.8,2136.8 609.4,2144C610.1,2152.5 610.8,2161.9 611.5,2161.9C612.6,2161.9 613.7,2157 614.7,2154.7C615.9,2152.2 617.1,2147.6 618.3,2147.6C619.2,2147.6 620.1,2148.6 621,2149.4C622.2,2150.3 623.4,2152.9 624.6,2152.9C625.5,2152.9 626.4,2148 627.3,2144C628.2,2140 629.1,2133.2 630,2126C630.9,2118.8 631.8,2112.3 632.7,2099.1C633.3,2090.3 633.9,2065.7 634.5,2054.2C635.3,2039.3 636,2019.5 636.8,2018.3C637.5,2017.2 638.3,2016.5 639,2016.5C639.9,2016.5 640.8,2021.4 641.7,2023.7C642.9,2026.8 644.1,2032.7 645.3,2032.7C646.2,2032.7 647.1,2024.9 647.9,2021.9C649,2018.4 650.1,2012.9 651.2,2012.9C651.9,2012.9 652.6,2026.1 653.3,2036.3C653.9,2044.8 654.5,2061.3 655.1,2072.2C655.8,2085.3 656.6,2097.2 657.3,2108.1C658.1,2119.9 658.8,2133.3 659.6,2140.4C660.5,2148.5 661.4,2154.2 662.3,2158.3C663.5,2163.9 664.7,2170.9 665.9,2170.9C667.4,2170.9 668.9,2170.9 670.4,2170.9C671.9,2170.9 673.4,2169.1 674.9,2169.1C676.1,2169.1 677.3,2171.2 678.5,2172.7C680,2174.5 681.5,2177.5 682.9,2179.9C684.4,2182.3 685.9,2185.6 687.4,2187.1C689.2,2188.8 691,2189.9 692.8,2190.6C693.7,2191 694.6,2191.5 695.5,2191.5C709,2191.5 722.4,2191.5 735.9,2191.5C737.1,2191.5 738.3,2187.4 739.5,2183.5C740.7,2179.5 741.9,2169.4 743.1,2161.9C744.3,2154.5 745.5,2144.4 746.7,2138.6C747.6,2134.2 748.5,2129.2 749.4,2127.8C750,2126.9 750.6,2126 751.2,2126C752.1,2126 752.9,2132 753.8,2136.8C754.7,2141.6 755.6,2151.5 756.5,2158.3C757.4,2165.2 758.3,2175 759.2,2178.1C760.3,2181.8 761.4,2185.3 762.5,2185.3C763.5,2185.3 764.5,2180.3 765.5,2174.5C766.4,2169.3 767.3,2148.3 768.2,2135C769.4,2117.3 770.6,2094.1 771.8,2081.2C772.7,2071.4 773.6,2062.1 774.5,2057.8C775.4,2053.5 776.3,2048.8 777.2,2048.8C778.1,2048.8 779,2056 779.9,2063.2C780.6,2069.4 781.4,2087.6 782.2,2099.1C783,2111.5 783.9,2124.3 784.7,2135C785.5,2144.9 786.3,2154.7 787.1,2161.9C787.8,2169.1 788.6,2179.9 789.4,2179.9C790.4,2179.9 791.4,2178.8 792.4,2178.1C793.6,2177.2 794.8,2175.3 796,2174.5C797.2,2173.7 798.4,2173.8 799.6,2172.7C800.6,2171.8 801.6,2167.9 802.7,2161.9C803.4,2157.3 804.2,2139.5 805,2126C805.9,2110.5 806.8,2091.4 807.7,2072.2C808.5,2055.5 809.2,2026.3 810,2018.3C810.7,2011 811.5,2004 812.2,2004C813.1,2004 814,2016.5 814.9,2027.3C815.6,2036.7 816.4,2056.4 817.2,2072.2C818,2089.1 818.9,2113.6 819.7,2126C820.7,2140.2 821.6,2153.7 822.6,2158.3C823.8,2164.1 825,2167.4 826.2,2169.1C827.5,2171 828.8,2172.7 830.1,2172.7C831.3,2172.7 832.5,2171.2 833.7,2169.1C834.6,2167.5 835.5,2159.7 836.4,2152.9C837.3,2146.2 838.2,2133.8 839.1,2126C840.3,2115.7 841.5,2107.4 842.7,2099.1C843.9,2090.8 845.1,2080.1 846.3,2075.8C847.5,2071.4 848.7,2067.9 849.9,2066.8C850.9,2065.8 852,2065 853.1,2065C854,2065 854.9,2070.6 855.8,2075.8C856.8,2081.6 857.8,2097.1 858.8,2108.1C859.9,2119.8 861,2135.2 862.1,2144C863.1,2152.3 864.1,2163.7 865.1,2163.7C866,2163.7 866.9,2158.7 867.8,2152.9C868.7,2147.2 869.6,2123 870.5,2108.1C871.4,2093.1 872.3,2076.5 873.2,2063.2C874.1,2049.9 875,2035.8 875.9,2027.3C876.8,2018.8 877.7,2007.6 878.6,2007.6C879.5,2007.6 880.4,2018.2 881.3,2027.3C882.2,2036.4 883.1,2058.5 884,2072.2C885.1,2088.5 886.1,2106.5 887.2,2117.1C888.2,2127.1 889.2,2138.1 890.3,2140.4C891.2,2142.4 892.1,2144 892.9,2144C893.8,2144 894.7,2135 895.6,2126C896.5,2117.1 897.4,2092.7 898.3,2072.2C899.2,2051.7 900.1,2022.7 901,2000.4C901.9,1978 902.8,1953.2 903.7,1937.6C904.4,1925 905.2,1910.5 905.9,1907.1C906.5,1904.1 907.1,1901.7 907.7,1901.7C908.4,1901.7 909.2,1910.6 910,1919.6C910.8,1928.6 911.6,1954.8 912.3,1973.5C913.2,1993.6 914,2018.3 914.8,2036.3C915.8,2056.9 916.8,2074.3 917.7,2090.1C918.7,2106.9 919.8,2129.2 920.8,2135C921.8,2140.8 922.8,2145.8 923.8,2145.8C924.9,2145.8 926,2130.5 927.1,2117.1C927.9,2105.9 928.8,2082.5 929.7,2063.2C930.6,2043.9 931.5,2020.9 932.4,2000.4C933.2,1983.9 933.9,1951.9 934.6,1951.9C935.4,1951.9 936.1,1963.2 936.9,1973.5C937.7,1983.7 938.5,2008.7 939.3,2027.3C940.1,2047.4 940.9,2073.9 941.8,2090.1C942.7,2108.6 943.7,2135 944.6,2135C945.7,2135 946.7,2125 947.7,2117.1C948.7,2109.1 949.7,2091.1 950.7,2081.2C951.8,2070.6 952.9,2058.2 954,2054.2C954.7,2051.6 955.4,2048.8 956.1,2048.8C957.1,2048.8 958,2056.5 959,2063.2C960,2070.3 961,2089.7 962.1,2099.1C963.2,2110.1 964.4,2115.6 965.6,2126C966.2,2131.2 966.8,2138 967.4,2144" fill="none" stroke="#ff1a1a" stroke-width="2.3" stroke-linejoin="round"/>
<path d="M463.6,2129.6C464.6,2127.8 465.6,2124.2 466.7,2124.2C467.6,2124.2 468.5,2130.9 469.4,2135C470.3,2139.1 471.2,2147.2 472.1,2149.4C473.2,2152.2 474.4,2154.7 475.6,2154.7C476.8,2154.7 478,2153.1 479.2,2151.2C480.1,2149.7 481,2145.3 481.9,2140.4C482.8,2135.5 483.7,2125 484.6,2117.1C485.2,2111.8 485.8,2104.4 486.4,2100.9C487.6,2094 488.8,2091.3 490,2086.5C491.2,2081.8 492.4,2075.9 493.6,2072.2C494.8,2068.5 496,2064.9 497.2,2063.2C498.4,2061.5 499.6,2061.5 500.8,2059.6C501.7,2058.2 502.6,2055 503.5,2050.6C504.4,2046.3 505.3,2033.7 506.2,2027.3C507.1,2020.9 507.9,2013.1 508.8,2011.2C509.7,2009.2 510.6,2007.6 511.5,2007.6C512.4,2007.6 513.3,2013.2 514.2,2018.3C515.1,2023.5 516,2037.3 516.9,2045.3C517.8,2053.2 518.7,2063 519.6,2066.8C520.7,2071.3 521.8,2075.8 522.8,2075.8C523.9,2075.8 524.9,2072.4 525.9,2068.6C526.8,2065.2 527.7,2052 528.6,2045.3C529.5,2038.5 530.4,2032.2 531.3,2027.3C532.2,2022.4 533.1,2020.2 534,2014.7C534.9,2009.3 535.8,1999.7 536.7,1991.4C537.6,1983.1 538.5,1970.7 539.4,1964.5C540.1,1959.1 540.9,1953.9 541.7,1951.9C542.4,1950.1 543.1,1948.3 543.8,1948.3C544.7,1948.3 545.6,1955.3 546.5,1960.9C547.4,1966.5 548.3,1977.4 549.2,1986C550,1993.5 550.8,2006.8 551.6,2009.4C552.2,2011.3 552.8,2012.9 553.4,2012.9C554.1,2012.9 554.8,1999.6 555.5,1991.4C556.4,1981.2 557.3,1968.3 558.2,1955.5C559.1,1942.7 560,1923.1 560.9,1914.2C561.8,1905.3 562.7,1894.5 563.6,1894.5C564.5,1894.5 565.4,1895.3 566.3,1896.3C567.2,1897.2 568.1,1901.7 569,1903.5C569.8,1905 570.5,1907.1 571.3,1907.1C572,1907.1 572.7,1898.4 573.5,1892.7C574.4,1885.6 575.3,1874.1 576.2,1865.8C577.1,1857.4 577.9,1846.8 578.8,1842.4C579.7,1838.1 580.6,1833.5 581.5,1833.5C582.4,1833.5 583.3,1838.5 584.2,1844.2C584.9,1848.8 585.7,1863.1 586.4,1874.7C587.2,1887.4 587.9,1902.6 588.7,1919.6C589.3,1932.7 589.9,1953.7 590.5,1964.5C591.1,1975.2 591.7,1989.6 592.3,1989.6C592.9,1989.6 593.5,1982 594.1,1973.5C594.7,1964.9 595.3,1930 595.9,1910.6C596.5,1891.3 597.1,1868.5 597.7,1856.8C598.5,1841.5 599.2,1823.6 600,1823.6C600.7,1823.6 601.5,1828.8 602.2,1835.3C602.9,1841.7 603.6,1869.6 604.3,1892.7C604.9,1912 605.5,1937.8 606.1,1964.5C606.6,1985.8 607.1,2015.8 607.6,2036.3C608,2056.8 608.5,2075.6 609,2090.1C609.4,2102.9 609.8,2118.2 610.3,2122.4C610.9,2128.5 611.5,2133.2 612.1,2133.2C612.9,2133.2 613.8,2128.9 614.7,2126C615.6,2123.2 616.5,2116.6 617.4,2115.3C618,2114.3 618.6,2113.5 619.2,2113.5C620.1,2113.5 621,2117.8 621.9,2120.6C622.8,2123.5 623.7,2129.6 624.6,2131.4C625.5,2133.2 626.4,2135 627.3,2135C628.2,2135 629.1,2130.8 630,2126C630.9,2121.2 631.8,2107.1 632.7,2090.1C633.3,2078.8 633.9,2048.6 634.5,2036.3C635.3,2020.2 636,2008.8 636.8,2000.4C637.5,1992.7 638.3,1985.4 639,1982.4C639.9,1978.7 640.8,1977.6 641.7,1975.3C642.6,1972.9 643.5,1970.7 644.4,1968.1C645.1,1965.9 645.8,1964.5 646.5,1960.9C647.3,1957 648.1,1944.7 648.8,1937.6C649.6,1930.4 650.4,1917.8 651.2,1917.8C651.9,1917.8 652.6,1925.8 653.3,1934C653.9,1940.8 654.5,1959.5 655.1,1973.5C655.7,1987.5 656.3,2002 656.9,2018.3C657.5,2034.7 658.1,2055.9 658.7,2072.2C659.3,2088.5 659.9,2109.1 660.5,2117.1C661.4,2129 662.3,2135.5 663.2,2140.4C664.1,2145.3 665,2151.2 665.9,2151.2C667.4,2151.2 668.9,2149.2 670.4,2147.7C672.1,2146.1 673.7,2140.4 675.4,2140.4C676.8,2140.4 678.2,2144.7 679.5,2147.7C681.2,2151.5 682.9,2157.7 684.6,2163C686.3,2168.5 688,2175.6 689.8,2180.4C691.1,2184 692.4,2189 693.7,2189.7C694.6,2190.2 695.5,2190.6 696.4,2190.6C709.6,2190.6 722.7,2190.6 735.9,2190.6C737.1,2190.6 738.3,2185 739.5,2179.9C740.7,2174.7 741.9,2161.9 743.1,2152.9C744.3,2144 745.5,2132.8 746.7,2126C747.6,2120.9 748.5,2115.9 749.4,2113.5C750,2111.8 750.6,2109.9 751.2,2109.9C752.1,2109.9 752.9,2115.7 753.8,2120.6C754.7,2125.6 755.6,2135.6 756.5,2144C757.4,2152.3 758.3,2166.3 759.2,2170.9C760.3,2176.4 761.4,2181.7 762.5,2181.7C763.5,2181.7 764.5,2176.6 765.5,2170.9C766.4,2165.8 767.3,2148.3 768.2,2135C769.1,2121.7 770,2105.1 770.9,2090.1C771.8,2075.2 772.7,2053.8 773.6,2045.3C774.5,2036.7 775.4,2028.4 776.3,2027.3C776.7,2026.8 777.1,2026.4 777.5,2026.4C778.3,2026.4 779.1,2037 779.9,2045.3C780.6,2053.5 781.4,2067.4 782.2,2081.2C782.9,2093.9 783.6,2112.7 784.4,2126C785.1,2139.3 785.8,2155.7 786.5,2161.9C787.1,2167.1 787.7,2172.7 788.3,2172.7C789.1,2172.7 789.9,2162.8 790.6,2158.3C791.5,2153.2 792.4,2144.9 793.3,2144C794.4,2142.9 795.5,2142.2 796.6,2142.2C797.8,2142.2 799,2144 800.2,2144C800.9,2144 801.6,2143.3 802.3,2142.2C803,2141 803.7,2122.3 804.5,2108.1C805.2,2092.6 806,2061.4 806.8,2045.3C807.7,2026.7 808.6,2006.9 809.5,2000.4C810.4,1993.8 811.3,1987.8 812.2,1987.8C813.1,1987.8 814,1998.8 814.9,2009.4C815.5,2016.4 816.1,2037.2 816.7,2045.3C817.4,2055.8 818.2,2066.9 819,2068.6C820,2070.8 821,2072.2 822.1,2072.2C823.5,2072.2 825,2070.4 826.5,2070.4C827.6,2070.4 828.7,2074.8 829.8,2079.4C830.6,2082.9 831.4,2092 832.3,2099.1C833.1,2105.7 833.8,2117.8 834.6,2120.6C835.4,2123.5 836.2,2126 836.9,2126C837.8,2126 838.6,2117.6 839.5,2111.7C840.2,2106.2 841,2098.1 841.8,2090.1C842.6,2082.2 843.4,2072.3 844.1,2063.2C845.1,2051.4 846.2,2037.4 847.2,2027.3C848.4,2015.4 849.6,2001.1 850.8,1996.8C851.8,1993.1 852.8,1989.6 853.8,1989.6C854.8,1989.6 855.7,1997 856.7,2004C857.5,2010.1 858.4,2027.2 859.2,2036.3C860.2,2046.7 861.1,2060.3 862.1,2063.2C863.1,2066.2 864.1,2068.6 865.1,2068.6C866,2068.6 866.9,2061.1 867.8,2054.2C868.7,2047.4 869.6,2031.6 870.5,2018.3C871.4,2005 872.3,1985.6 873.2,1973.5C874.1,1961.4 875,1950.6 875.9,1942.9C876.5,1937.9 877.1,1930.4 877.7,1930.4C878.5,1930.4 879.2,1938.9 880,1946.5C880.7,1953.6 881.5,1970.5 882.2,1982.4C883.1,1997.4 884,2015.2 884.9,2027.3C885.8,2039.4 886.7,2053.1 887.6,2057.8C888.6,2063.5 889.7,2068.6 890.8,2068.6C891.8,2068.6 892.8,2067.1 893.8,2065C894.7,2063.2 895.6,2054.5 896.5,2045.3C897.3,2037.8 898,2023.2 898.7,2009.4C899.5,1994.3 900.2,1974.8 901,1955.5C901.8,1936.2 902.6,1912.8 903.4,1892.7C904.1,1874.1 904.8,1849.7 905.5,1838.8C906.2,1828 906.9,1815.5 907.7,1815.5C908.4,1815.5 909.2,1828 910,1838.8C910.8,1849.7 911.6,1874 912.3,1892.7C913.2,1912.8 914,1935.4 914.8,1955.5C915.6,1974.2 916.4,1992.7 917.2,2009.4C918.1,2028.6 919,2048.8 919.9,2063.2C920.8,2077.6 921.7,2093.8 922.6,2099.1C923.2,2102.7 923.8,2106.3 924.4,2106.3C925.3,2106.3 926.2,2080.2 927.1,2063.2C927.9,2046.2 928.8,2019.7 929.7,2000.4C930.6,1981.1 931.5,1960.8 932.4,1946.5C933.2,1935.1 933.9,1917.8 934.6,1917.8C935.4,1917.8 936.1,1927.5 936.9,1937.6C937.7,1947.6 938.5,1978.6 939.3,2000.4C940,2020.5 940.7,2047 941.4,2063.2C942.1,2079.4 942.8,2102.7 943.6,2102.7C944.3,2102.7 945.1,2094.3 945.9,2086.5C946.8,2077.6 947.7,2052.1 948.6,2036.3C949.5,2020.5 950.4,2006 951.3,1991.4C952.3,1974.9 953.3,1942.9 954.3,1942.9C955.3,1942.9 956.2,1953.6 957.2,1962.7C958,1970.7 958.9,1987.6 959.7,2000.4C960.7,2015 961.6,2032 962.6,2045.3C963.3,2055.2 964,2062.5 964.7,2072.2C965.6,2084.3 966.5,2098.5 967.4,2111.7" fill="none" stroke="#1c1c1c" stroke-width="2.5" stroke-linejoin="round"/>
<rect x="457.5" y="1786.9" width="515.2" height="411.6" fill="none" stroke="#000" stroke-width="3.8"/>
<rect x="675.8" y="1840.8" width="19.4" height="6.2" fill="#ff0000"/>
<rect x="675.8" y="1872.8" width="19.4" height="6.2" fill="#62a844"/>
<rect x="675.8" y="1903.2" width="19.4" height="6.2" fill="#000000"/>
<text x="703" y="1849.9" font-size="28.3">Acceptor</text>
<text x="704.5" y="1878.1" font-size="28.3"><tspan font-style="italic">&#960;</tspan><tspan font-weight="normal">-</tspan>spacer</text>
<text x="705" y="1915.7" font-size="28.3">Total</text>
<text transform="translate(389.8,1990.5) rotate(-90)" font-size="28.6" text-anchor="middle">Relative Intensity</text>
<text x="650.3" y="2286.3" font-size="28.6">Energy <tspan font-weight="normal">(</tspan><tspan font-style="italic">eV</tspan><tspan font-weight="normal">)</tspan></text>
<text x="682.7" y="2337" font-size="32.1">TTB6</text>
</svg>
</body></html>
